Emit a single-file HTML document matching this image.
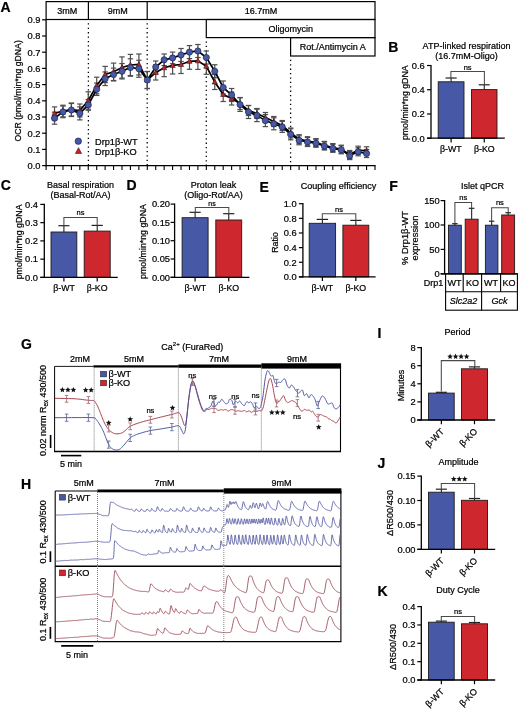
<!DOCTYPE html>
<html><head><meta charset="utf-8"><style>
html,body{margin:0;padding:0;background:#fff;}
svg{display:block;will-change:transform;}
text{font-family:"Liberation Sans", sans-serif;fill:#000;stroke:#000;stroke-width:0.22px;}
</style></head><body>
<svg width="520" height="710" viewBox="0 0 520 710" font-family="Liberation Sans, sans-serif">
<rect width="520" height="710" fill="#fff"/>
<text x="0.60" y="11.60" font-size="14" text-anchor="start" font-weight="bold" >A</text>
<line x1="46.10" y1="19.20" x2="46.10" y2="166.20" stroke="#000" stroke-width="1.3" />
<line x1="42.10" y1="165.60" x2="46.10" y2="165.60" stroke="#000" stroke-width="1.2" />
<text x="40.50" y="168.90" font-size="9.3" text-anchor="end" font-weight="normal" >0.0</text>
<line x1="42.10" y1="149.40" x2="46.10" y2="149.40" stroke="#000" stroke-width="1.2" />
<text x="40.50" y="152.70" font-size="9.3" text-anchor="end" font-weight="normal" >0.1</text>
<line x1="42.10" y1="133.20" x2="46.10" y2="133.20" stroke="#000" stroke-width="1.2" />
<text x="40.50" y="136.50" font-size="9.3" text-anchor="end" font-weight="normal" >0.2</text>
<line x1="42.10" y1="117.00" x2="46.10" y2="117.00" stroke="#000" stroke-width="1.2" />
<text x="40.50" y="120.30" font-size="9.3" text-anchor="end" font-weight="normal" >0.3</text>
<line x1="42.10" y1="100.80" x2="46.10" y2="100.80" stroke="#000" stroke-width="1.2" />
<text x="40.50" y="104.10" font-size="9.3" text-anchor="end" font-weight="normal" >0.4</text>
<line x1="42.10" y1="84.60" x2="46.10" y2="84.60" stroke="#000" stroke-width="1.2" />
<text x="40.50" y="87.90" font-size="9.3" text-anchor="end" font-weight="normal" >0.5</text>
<line x1="42.10" y1="68.40" x2="46.10" y2="68.40" stroke="#000" stroke-width="1.2" />
<text x="40.50" y="71.70" font-size="9.3" text-anchor="end" font-weight="normal" >0.6</text>
<line x1="42.10" y1="52.20" x2="46.10" y2="52.20" stroke="#000" stroke-width="1.2" />
<text x="40.50" y="55.50" font-size="9.3" text-anchor="end" font-weight="normal" >0.7</text>
<line x1="42.10" y1="36.00" x2="46.10" y2="36.00" stroke="#000" stroke-width="1.2" />
<text x="40.50" y="39.30" font-size="9.3" text-anchor="end" font-weight="normal" >0.8</text>
<line x1="42.10" y1="19.80" x2="46.10" y2="19.80" stroke="#000" stroke-width="1.2" />
<text x="40.50" y="23.10" font-size="9.3" text-anchor="end" font-weight="normal" >0.9</text>
<line x1="45.50" y1="165.60" x2="375.60" y2="165.60" stroke="#000" stroke-width="1.3" />
<line x1="46.10" y1="165.60" x2="46.10" y2="170.00" stroke="#000" stroke-width="1.1" />
<line x1="54.53" y1="165.60" x2="54.53" y2="170.00" stroke="#000" stroke-width="1.1" />
<line x1="62.97" y1="165.60" x2="62.97" y2="170.00" stroke="#000" stroke-width="1.1" />
<line x1="71.40" y1="165.60" x2="71.40" y2="170.00" stroke="#000" stroke-width="1.1" />
<line x1="79.83" y1="165.60" x2="79.83" y2="170.00" stroke="#000" stroke-width="1.1" />
<line x1="88.27" y1="165.60" x2="88.27" y2="170.00" stroke="#000" stroke-width="1.1" />
<line x1="96.70" y1="165.60" x2="96.70" y2="170.00" stroke="#000" stroke-width="1.1" />
<line x1="105.13" y1="165.60" x2="105.13" y2="170.00" stroke="#000" stroke-width="1.1" />
<line x1="113.57" y1="165.60" x2="113.57" y2="170.00" stroke="#000" stroke-width="1.1" />
<line x1="122.00" y1="165.60" x2="122.00" y2="170.00" stroke="#000" stroke-width="1.1" />
<line x1="130.43" y1="165.60" x2="130.43" y2="170.00" stroke="#000" stroke-width="1.1" />
<line x1="138.87" y1="165.60" x2="138.87" y2="170.00" stroke="#000" stroke-width="1.1" />
<line x1="147.30" y1="165.60" x2="147.30" y2="170.00" stroke="#000" stroke-width="1.1" />
<line x1="155.73" y1="165.60" x2="155.73" y2="170.00" stroke="#000" stroke-width="1.1" />
<line x1="164.17" y1="165.60" x2="164.17" y2="170.00" stroke="#000" stroke-width="1.1" />
<line x1="172.60" y1="165.60" x2="172.60" y2="170.00" stroke="#000" stroke-width="1.1" />
<line x1="181.03" y1="165.60" x2="181.03" y2="170.00" stroke="#000" stroke-width="1.1" />
<line x1="189.47" y1="165.60" x2="189.47" y2="170.00" stroke="#000" stroke-width="1.1" />
<line x1="197.90" y1="165.60" x2="197.90" y2="170.00" stroke="#000" stroke-width="1.1" />
<line x1="206.33" y1="165.60" x2="206.33" y2="170.00" stroke="#000" stroke-width="1.1" />
<line x1="214.77" y1="165.60" x2="214.77" y2="170.00" stroke="#000" stroke-width="1.1" />
<line x1="223.20" y1="165.60" x2="223.20" y2="170.00" stroke="#000" stroke-width="1.1" />
<line x1="231.63" y1="165.60" x2="231.63" y2="170.00" stroke="#000" stroke-width="1.1" />
<line x1="240.07" y1="165.60" x2="240.07" y2="170.00" stroke="#000" stroke-width="1.1" />
<line x1="248.50" y1="165.60" x2="248.50" y2="170.00" stroke="#000" stroke-width="1.1" />
<line x1="256.93" y1="165.60" x2="256.93" y2="170.00" stroke="#000" stroke-width="1.1" />
<line x1="265.37" y1="165.60" x2="265.37" y2="170.00" stroke="#000" stroke-width="1.1" />
<line x1="273.80" y1="165.60" x2="273.80" y2="170.00" stroke="#000" stroke-width="1.1" />
<line x1="282.23" y1="165.60" x2="282.23" y2="170.00" stroke="#000" stroke-width="1.1" />
<line x1="290.67" y1="165.60" x2="290.67" y2="170.00" stroke="#000" stroke-width="1.1" />
<line x1="299.10" y1="165.60" x2="299.10" y2="170.00" stroke="#000" stroke-width="1.1" />
<line x1="307.53" y1="165.60" x2="307.53" y2="170.00" stroke="#000" stroke-width="1.1" />
<line x1="315.97" y1="165.60" x2="315.97" y2="170.00" stroke="#000" stroke-width="1.1" />
<line x1="324.40" y1="165.60" x2="324.40" y2="170.00" stroke="#000" stroke-width="1.1" />
<line x1="332.83" y1="165.60" x2="332.83" y2="170.00" stroke="#000" stroke-width="1.1" />
<line x1="341.27" y1="165.60" x2="341.27" y2="170.00" stroke="#000" stroke-width="1.1" />
<line x1="349.70" y1="165.60" x2="349.70" y2="170.00" stroke="#000" stroke-width="1.1" />
<line x1="358.13" y1="165.60" x2="358.13" y2="170.00" stroke="#000" stroke-width="1.1" />
<line x1="366.57" y1="165.60" x2="366.57" y2="170.00" stroke="#000" stroke-width="1.1" />
<line x1="375.00" y1="165.60" x2="375.00" y2="170.00" stroke="#000" stroke-width="1.1" />
<g fill="none" stroke="#000" stroke-width="1.2">
<rect x="46.10" y="1.6" width="328.90" height="17.90"/>
<line x1="88.40" y1="1.60" x2="88.40" y2="19.50" stroke="#000" stroke-width="1.2" />
<line x1="147.20" y1="1.60" x2="147.20" y2="19.50" stroke="#000" stroke-width="1.2" />
<rect x="206.3" y="19.5" width="168.70" height="18.10"/>
<rect x="290.6" y="37.6" width="84.40" height="18.40"/>
</g>
<text x="67.25" y="13.70" font-size="9" text-anchor="middle" font-weight="normal" >3mM</text>
<text x="117.80" y="13.70" font-size="9" text-anchor="middle" font-weight="normal" >9mM</text>
<text x="261.10" y="13.70" font-size="9" text-anchor="middle" font-weight="normal" >16.7mM</text>
<text x="290.65" y="31.70" font-size="9" text-anchor="middle" font-weight="normal" >Oligomycin</text>
<text x="332.80" y="50.10" font-size="9" text-anchor="middle" font-weight="normal" >Rot./Antimycin A</text>
<line x1="88.40" y1="23.30" x2="88.40" y2="165.60" stroke="#000" stroke-width="1.3" stroke-dasharray="1.3 3.1"/>
<line x1="147.20" y1="23.30" x2="147.20" y2="165.60" stroke="#000" stroke-width="1.3" stroke-dasharray="1.3 3.1"/>
<line x1="206.30" y1="41.40" x2="206.30" y2="165.60" stroke="#000" stroke-width="1.3" stroke-dasharray="1.3 3.1"/>
<line x1="290.60" y1="59.80" x2="290.60" y2="165.60" stroke="#000" stroke-width="1.3" stroke-dasharray="1.3 3.1"/>
<text transform="translate(21.40,90.90) rotate(-90)" x="0" y="0" font-size="8.7" text-anchor="middle">OCR (pmol/min*ng gDNA)</text>
<g stroke="#4e4e4e" stroke-width="1.2">
<line x1="54.53" y1="112.20" x2="54.53" y2="124.20"/>
<line x1="51.83" y1="112.20" x2="57.23" y2="112.20"/>
<line x1="51.83" y1="124.20" x2="57.23" y2="124.20"/>
<line x1="54.53" y1="106.90" x2="54.53" y2="119.90"/>
<line x1="51.83" y1="106.90" x2="57.23" y2="106.90"/>
<line x1="51.83" y1="119.90" x2="57.23" y2="119.90"/>
<line x1="62.97" y1="106.10" x2="62.97" y2="117.70"/>
<line x1="60.27" y1="106.10" x2="65.67" y2="106.10"/>
<line x1="60.27" y1="117.70" x2="65.67" y2="117.70"/>
<line x1="62.97" y1="105.20" x2="62.97" y2="116.80"/>
<line x1="60.27" y1="105.20" x2="65.67" y2="105.20"/>
<line x1="60.27" y1="116.80" x2="65.67" y2="116.80"/>
<line x1="71.40" y1="103.50" x2="71.40" y2="116.50"/>
<line x1="68.70" y1="103.50" x2="74.10" y2="103.50"/>
<line x1="68.70" y1="116.50" x2="74.10" y2="116.50"/>
<line x1="71.40" y1="103.00" x2="71.40" y2="116.00"/>
<line x1="68.70" y1="103.00" x2="74.10" y2="103.00"/>
<line x1="68.70" y1="116.00" x2="74.10" y2="116.00"/>
<line x1="79.83" y1="106.90" x2="79.83" y2="119.90"/>
<line x1="77.13" y1="106.90" x2="82.53" y2="106.90"/>
<line x1="77.13" y1="119.90" x2="82.53" y2="119.90"/>
<line x1="79.83" y1="104.00" x2="79.83" y2="117.00"/>
<line x1="77.13" y1="104.00" x2="82.53" y2="104.00"/>
<line x1="77.13" y1="117.00" x2="82.53" y2="117.00"/>
<line x1="88.27" y1="99.50" x2="88.27" y2="110.30"/>
<line x1="85.57" y1="99.50" x2="90.97" y2="99.50"/>
<line x1="85.57" y1="110.30" x2="90.97" y2="110.30"/>
<line x1="88.27" y1="91.80" x2="88.27" y2="109.20"/>
<line x1="85.57" y1="91.80" x2="90.97" y2="91.80"/>
<line x1="85.57" y1="109.20" x2="90.97" y2="109.20"/>
<line x1="96.70" y1="83.05" x2="96.70" y2="95.45"/>
<line x1="94.00" y1="83.05" x2="99.40" y2="83.05"/>
<line x1="94.00" y1="95.45" x2="99.40" y2="95.45"/>
<line x1="96.70" y1="77.20" x2="96.70" y2="93.80"/>
<line x1="94.00" y1="77.20" x2="99.40" y2="77.20"/>
<line x1="94.00" y1="93.80" x2="99.40" y2="93.80"/>
<line x1="105.13" y1="71.95" x2="105.13" y2="85.55"/>
<line x1="102.43" y1="71.95" x2="107.83" y2="71.95"/>
<line x1="102.43" y1="85.55" x2="107.83" y2="85.55"/>
<line x1="105.13" y1="66.40" x2="105.13" y2="82.60"/>
<line x1="102.43" y1="66.40" x2="107.83" y2="66.40"/>
<line x1="102.43" y1="82.60" x2="107.83" y2="82.60"/>
<line x1="113.57" y1="68.10" x2="113.57" y2="80.90"/>
<line x1="110.87" y1="68.10" x2="116.27" y2="68.10"/>
<line x1="110.87" y1="80.90" x2="116.27" y2="80.90"/>
<line x1="113.57" y1="63.10" x2="113.57" y2="80.50"/>
<line x1="110.87" y1="63.10" x2="116.27" y2="63.10"/>
<line x1="110.87" y1="80.50" x2="116.27" y2="80.50"/>
<line x1="122.00" y1="63.55" x2="122.00" y2="78.95"/>
<line x1="119.30" y1="63.55" x2="124.70" y2="63.55"/>
<line x1="119.30" y1="78.95" x2="124.70" y2="78.95"/>
<line x1="122.00" y1="56.90" x2="122.00" y2="78.10"/>
<line x1="119.30" y1="56.90" x2="124.70" y2="56.90"/>
<line x1="119.30" y1="78.10" x2="124.70" y2="78.10"/>
<line x1="130.43" y1="58.80" x2="130.43" y2="76.20"/>
<line x1="127.73" y1="58.80" x2="133.13" y2="58.80"/>
<line x1="127.73" y1="76.20" x2="133.13" y2="76.20"/>
<line x1="130.43" y1="54.40" x2="130.43" y2="75.60"/>
<line x1="127.73" y1="54.40" x2="133.13" y2="54.40"/>
<line x1="127.73" y1="75.60" x2="133.13" y2="75.60"/>
<line x1="138.87" y1="60.25" x2="138.87" y2="77.25"/>
<line x1="136.17" y1="60.25" x2="141.57" y2="60.25"/>
<line x1="136.17" y1="77.25" x2="141.57" y2="77.25"/>
<line x1="138.87" y1="54.00" x2="138.87" y2="75.00"/>
<line x1="136.17" y1="54.00" x2="141.57" y2="54.00"/>
<line x1="136.17" y1="75.00" x2="141.57" y2="75.00"/>
<line x1="147.30" y1="71.50" x2="147.30" y2="88.50"/>
<line x1="144.60" y1="71.50" x2="150.00" y2="71.50"/>
<line x1="144.60" y1="88.50" x2="150.00" y2="88.50"/>
<line x1="147.30" y1="71.50" x2="147.30" y2="88.50"/>
<line x1="144.60" y1="71.50" x2="150.00" y2="71.50"/>
<line x1="144.60" y1="88.50" x2="150.00" y2="88.50"/>
<line x1="155.73" y1="61.00" x2="155.73" y2="73.00"/>
<line x1="153.03" y1="61.00" x2="158.43" y2="61.00"/>
<line x1="153.03" y1="73.00" x2="158.43" y2="73.00"/>
<line x1="155.73" y1="65.00" x2="155.73" y2="80.00"/>
<line x1="153.03" y1="65.00" x2="158.43" y2="65.00"/>
<line x1="153.03" y1="80.00" x2="158.43" y2="80.00"/>
<line x1="164.17" y1="54.00" x2="164.17" y2="65.60"/>
<line x1="161.47" y1="54.00" x2="166.87" y2="54.00"/>
<line x1="161.47" y1="65.60" x2="166.87" y2="65.60"/>
<line x1="164.17" y1="58.70" x2="164.17" y2="76.70"/>
<line x1="161.47" y1="58.70" x2="166.87" y2="58.70"/>
<line x1="161.47" y1="76.70" x2="166.87" y2="76.70"/>
<line x1="172.60" y1="52.10" x2="172.60" y2="63.70"/>
<line x1="169.90" y1="52.10" x2="175.30" y2="52.10"/>
<line x1="169.90" y1="63.70" x2="175.30" y2="63.70"/>
<line x1="172.60" y1="56.80" x2="172.60" y2="74.00"/>
<line x1="169.90" y1="56.80" x2="175.30" y2="56.80"/>
<line x1="169.90" y1="74.00" x2="175.30" y2="74.00"/>
<line x1="181.03" y1="48.50" x2="181.03" y2="61.50"/>
<line x1="178.33" y1="48.50" x2="183.73" y2="48.50"/>
<line x1="178.33" y1="61.50" x2="183.73" y2="61.50"/>
<line x1="181.03" y1="55.50" x2="181.03" y2="73.50"/>
<line x1="178.33" y1="55.50" x2="183.73" y2="55.50"/>
<line x1="178.33" y1="73.50" x2="183.73" y2="73.50"/>
<line x1="189.47" y1="45.60" x2="189.47" y2="58.60"/>
<line x1="186.77" y1="45.60" x2="192.17" y2="45.60"/>
<line x1="186.77" y1="58.60" x2="192.17" y2="58.60"/>
<line x1="189.47" y1="53.30" x2="189.47" y2="69.30"/>
<line x1="186.77" y1="53.30" x2="192.17" y2="53.30"/>
<line x1="186.77" y1="69.30" x2="192.17" y2="69.30"/>
<line x1="197.90" y1="44.50" x2="197.90" y2="57.50"/>
<line x1="195.20" y1="44.50" x2="200.60" y2="44.50"/>
<line x1="195.20" y1="57.50" x2="200.60" y2="57.50"/>
<line x1="197.90" y1="52.20" x2="197.90" y2="69.40"/>
<line x1="195.20" y1="52.20" x2="200.60" y2="52.20"/>
<line x1="195.20" y1="69.40" x2="200.60" y2="69.40"/>
<line x1="206.33" y1="51.00" x2="206.33" y2="64.00"/>
<line x1="203.63" y1="51.00" x2="209.03" y2="51.00"/>
<line x1="203.63" y1="64.00" x2="209.03" y2="64.00"/>
<line x1="206.33" y1="58.30" x2="206.33" y2="74.30"/>
<line x1="203.63" y1="58.30" x2="209.03" y2="58.30"/>
<line x1="203.63" y1="74.30" x2="209.03" y2="74.30"/>
<line x1="214.77" y1="64.75" x2="214.77" y2="77.75"/>
<line x1="212.07" y1="64.75" x2="217.47" y2="64.75"/>
<line x1="212.07" y1="77.75" x2="217.47" y2="77.75"/>
<line x1="214.77" y1="74.50" x2="214.77" y2="89.50"/>
<line x1="212.07" y1="74.50" x2="217.47" y2="74.50"/>
<line x1="212.07" y1="89.50" x2="217.47" y2="89.50"/>
<line x1="223.20" y1="81.00" x2="223.20" y2="94.00"/>
<line x1="220.50" y1="81.00" x2="225.90" y2="81.00"/>
<line x1="220.50" y1="94.00" x2="225.90" y2="94.00"/>
<line x1="223.20" y1="87.50" x2="223.20" y2="101.50"/>
<line x1="220.50" y1="87.50" x2="225.90" y2="87.50"/>
<line x1="220.50" y1="101.50" x2="225.90" y2="101.50"/>
<line x1="231.63" y1="88.50" x2="231.63" y2="101.50"/>
<line x1="228.93" y1="88.50" x2="234.33" y2="88.50"/>
<line x1="228.93" y1="101.50" x2="234.33" y2="101.50"/>
<line x1="231.63" y1="92.00" x2="231.63" y2="105.00"/>
<line x1="228.93" y1="92.00" x2="234.33" y2="92.00"/>
<line x1="228.93" y1="105.00" x2="234.33" y2="105.00"/>
<line x1="240.07" y1="97.80" x2="240.07" y2="111.40"/>
<line x1="237.37" y1="97.80" x2="242.77" y2="97.80"/>
<line x1="237.37" y1="111.40" x2="242.77" y2="111.40"/>
<line x1="240.07" y1="97.50" x2="240.07" y2="109.50"/>
<line x1="237.37" y1="97.50" x2="242.77" y2="97.50"/>
<line x1="237.37" y1="109.50" x2="242.77" y2="109.50"/>
<line x1="248.50" y1="105.50" x2="248.50" y2="118.50"/>
<line x1="245.80" y1="105.50" x2="251.20" y2="105.50"/>
<line x1="245.80" y1="118.50" x2="251.20" y2="118.50"/>
<line x1="248.50" y1="105.50" x2="248.50" y2="115.50"/>
<line x1="245.80" y1="105.50" x2="251.20" y2="105.50"/>
<line x1="245.80" y1="115.50" x2="251.20" y2="115.50"/>
<line x1="256.93" y1="109.20" x2="256.93" y2="121.60"/>
<line x1="254.23" y1="109.20" x2="259.63" y2="109.20"/>
<line x1="254.23" y1="121.60" x2="259.63" y2="121.60"/>
<line x1="256.93" y1="108.50" x2="256.93" y2="118.50"/>
<line x1="254.23" y1="108.50" x2="259.63" y2="108.50"/>
<line x1="254.23" y1="118.50" x2="259.63" y2="118.50"/>
<line x1="265.37" y1="114.60" x2="265.37" y2="126.60"/>
<line x1="262.67" y1="114.60" x2="268.07" y2="114.60"/>
<line x1="262.67" y1="126.60" x2="268.07" y2="126.60"/>
<line x1="265.37" y1="112.50" x2="265.37" y2="122.50"/>
<line x1="262.67" y1="112.50" x2="268.07" y2="112.50"/>
<line x1="262.67" y1="122.50" x2="268.07" y2="122.50"/>
<line x1="273.80" y1="117.80" x2="273.80" y2="129.80"/>
<line x1="271.10" y1="117.80" x2="276.50" y2="117.80"/>
<line x1="271.10" y1="129.80" x2="276.50" y2="129.80"/>
<line x1="273.80" y1="116.50" x2="273.80" y2="126.50"/>
<line x1="271.10" y1="116.50" x2="276.50" y2="116.50"/>
<line x1="271.10" y1="126.50" x2="276.50" y2="126.50"/>
<line x1="282.23" y1="121.40" x2="282.23" y2="132.40"/>
<line x1="279.53" y1="121.40" x2="284.93" y2="121.40"/>
<line x1="279.53" y1="132.40" x2="284.93" y2="132.40"/>
<line x1="282.23" y1="120.50" x2="282.23" y2="130.50"/>
<line x1="279.53" y1="120.50" x2="284.93" y2="120.50"/>
<line x1="279.53" y1="130.50" x2="284.93" y2="130.50"/>
<line x1="290.67" y1="128.80" x2="290.67" y2="139.80"/>
<line x1="287.97" y1="128.80" x2="293.37" y2="128.80"/>
<line x1="287.97" y1="139.80" x2="293.37" y2="139.80"/>
<line x1="290.67" y1="128.00" x2="290.67" y2="138.00"/>
<line x1="287.97" y1="128.00" x2="293.37" y2="128.00"/>
<line x1="287.97" y1="138.00" x2="293.37" y2="138.00"/>
<line x1="299.10" y1="135.80" x2="299.10" y2="144.80"/>
<line x1="296.40" y1="135.80" x2="301.80" y2="135.80"/>
<line x1="296.40" y1="144.80" x2="301.80" y2="144.80"/>
<line x1="299.10" y1="134.70" x2="299.10" y2="143.70"/>
<line x1="296.40" y1="134.70" x2="301.80" y2="134.70"/>
<line x1="296.40" y1="143.70" x2="301.80" y2="143.70"/>
<line x1="307.53" y1="137.50" x2="307.53" y2="146.50"/>
<line x1="304.83" y1="137.50" x2="310.23" y2="137.50"/>
<line x1="304.83" y1="146.50" x2="310.23" y2="146.50"/>
<line x1="307.53" y1="136.70" x2="307.53" y2="145.70"/>
<line x1="304.83" y1="136.70" x2="310.23" y2="136.70"/>
<line x1="304.83" y1="145.70" x2="310.23" y2="145.70"/>
<line x1="315.97" y1="139.20" x2="315.97" y2="147.20"/>
<line x1="313.27" y1="139.20" x2="318.67" y2="139.20"/>
<line x1="313.27" y1="147.20" x2="318.67" y2="147.20"/>
<line x1="315.97" y1="138.60" x2="315.97" y2="146.60"/>
<line x1="313.27" y1="138.60" x2="318.67" y2="138.60"/>
<line x1="313.27" y1="146.60" x2="318.67" y2="146.60"/>
<line x1="324.40" y1="142.00" x2="324.40" y2="150.00"/>
<line x1="321.70" y1="142.00" x2="327.10" y2="142.00"/>
<line x1="321.70" y1="150.00" x2="327.10" y2="150.00"/>
<line x1="324.40" y1="141.40" x2="324.40" y2="149.40"/>
<line x1="321.70" y1="141.40" x2="327.10" y2="141.40"/>
<line x1="321.70" y1="149.40" x2="327.10" y2="149.40"/>
<line x1="332.83" y1="144.30" x2="332.83" y2="152.30"/>
<line x1="330.13" y1="144.30" x2="335.53" y2="144.30"/>
<line x1="330.13" y1="152.30" x2="335.53" y2="152.30"/>
<line x1="332.83" y1="143.60" x2="332.83" y2="151.60"/>
<line x1="330.13" y1="143.60" x2="335.53" y2="143.60"/>
<line x1="330.13" y1="151.60" x2="335.53" y2="151.60"/>
<line x1="341.27" y1="145.80" x2="341.27" y2="153.80"/>
<line x1="338.57" y1="145.80" x2="343.97" y2="145.80"/>
<line x1="338.57" y1="153.80" x2="343.97" y2="153.80"/>
<line x1="341.27" y1="145.20" x2="341.27" y2="153.20"/>
<line x1="338.57" y1="145.20" x2="343.97" y2="145.20"/>
<line x1="338.57" y1="153.20" x2="343.97" y2="153.20"/>
<line x1="349.70" y1="151.60" x2="349.70" y2="159.60"/>
<line x1="347.00" y1="151.60" x2="352.40" y2="151.60"/>
<line x1="347.00" y1="159.60" x2="352.40" y2="159.60"/>
<line x1="349.70" y1="150.50" x2="349.70" y2="158.50"/>
<line x1="347.00" y1="150.50" x2="352.40" y2="150.50"/>
<line x1="347.00" y1="158.50" x2="352.40" y2="158.50"/>
<line x1="358.13" y1="147.80" x2="358.13" y2="155.80"/>
<line x1="355.43" y1="147.80" x2="360.83" y2="147.80"/>
<line x1="355.43" y1="155.80" x2="360.83" y2="155.80"/>
<line x1="358.13" y1="146.20" x2="358.13" y2="154.20"/>
<line x1="355.43" y1="146.20" x2="360.83" y2="146.20"/>
<line x1="355.43" y1="154.20" x2="360.83" y2="154.20"/>
<line x1="366.57" y1="149.50" x2="366.57" y2="157.50"/>
<line x1="363.87" y1="149.50" x2="369.27" y2="149.50"/>
<line x1="363.87" y1="157.50" x2="369.27" y2="157.50"/>
<line x1="366.57" y1="146.80" x2="366.57" y2="154.80"/>
<line x1="363.87" y1="146.80" x2="369.27" y2="146.80"/>
<line x1="363.87" y1="154.80" x2="369.27" y2="154.80"/>
</g>
<polyline points="54.53,113.40 62.97,111.00 71.40,109.50 79.83,110.50 88.27,100.50 96.70,85.50 105.13,74.50 113.57,71.80 122.00,67.50 130.43,65.00 138.87,64.50 147.30,80.00 155.73,72.50 164.17,67.70 172.60,65.40 181.03,64.50 189.47,61.30 197.90,60.80 206.33,66.30 214.77,82.00 223.20,94.50 231.63,98.50 240.07,103.50 248.50,110.50 256.93,113.50 265.37,117.50 273.80,121.50 282.23,125.50 290.67,133.00 299.10,139.20 307.53,141.20 315.97,142.60 324.40,145.40 332.83,147.60 341.27,149.20 349.70,154.50 358.13,150.20 366.57,150.80" fill="none" stroke="#000" stroke-width="1.7"/>
<polyline points="54.53,118.20 62.97,111.90 71.40,110.00 79.83,113.40 88.27,104.90 96.70,89.25 105.13,78.75 113.57,74.50 122.00,71.25 130.43,67.50 138.87,68.75 147.30,80.00 155.73,67.00 164.17,59.80 172.60,57.90 181.03,55.00 189.47,52.10 197.90,51.00 206.33,57.50 214.77,71.25 223.20,87.50 231.63,95.00 240.07,104.60 248.50,112.00 256.93,115.40 265.37,120.60 273.80,123.80 282.23,126.90 290.67,134.30 299.10,140.30 307.53,142.00 315.97,143.20 324.40,146.00 332.83,148.30 341.27,149.80 349.70,155.60 358.13,151.80 366.57,153.50" fill="none" stroke="#000" stroke-width="1.7"/>
<path d="M51.93,115.42 L57.13,115.42 L54.53,110.62 Z" fill="#c2242b" stroke="#401010" stroke-width="0.6"/>
<path d="M60.37,113.02 L65.57,113.02 L62.97,108.22 Z" fill="#c2242b" stroke="#401010" stroke-width="0.6"/>
<path d="M68.80,111.52 L74.00,111.52 L71.40,106.72 Z" fill="#c2242b" stroke="#401010" stroke-width="0.6"/>
<path d="M77.23,112.52 L82.43,112.52 L79.83,107.72 Z" fill="#c2242b" stroke="#401010" stroke-width="0.6"/>
<path d="M85.67,102.52 L90.87,102.52 L88.27,97.72 Z" fill="#c2242b" stroke="#401010" stroke-width="0.6"/>
<path d="M94.10,87.52 L99.30,87.52 L96.70,82.72 Z" fill="#c2242b" stroke="#401010" stroke-width="0.6"/>
<path d="M102.53,76.52 L107.73,76.52 L105.13,71.72 Z" fill="#c2242b" stroke="#401010" stroke-width="0.6"/>
<path d="M110.97,73.82 L116.17,73.82 L113.57,69.02 Z" fill="#c2242b" stroke="#401010" stroke-width="0.6"/>
<path d="M119.40,69.52 L124.60,69.52 L122.00,64.72 Z" fill="#c2242b" stroke="#401010" stroke-width="0.6"/>
<path d="M127.83,67.02 L133.03,67.02 L130.43,62.22 Z" fill="#c2242b" stroke="#401010" stroke-width="0.6"/>
<path d="M136.27,66.52 L141.47,66.52 L138.87,61.72 Z" fill="#c2242b" stroke="#401010" stroke-width="0.6"/>
<path d="M144.70,82.02 L149.90,82.02 L147.30,77.22 Z" fill="#c2242b" stroke="#401010" stroke-width="0.6"/>
<path d="M153.13,74.52 L158.33,74.52 L155.73,69.72 Z" fill="#c2242b" stroke="#401010" stroke-width="0.6"/>
<path d="M161.57,69.72 L166.77,69.72 L164.17,64.92 Z" fill="#c2242b" stroke="#401010" stroke-width="0.6"/>
<path d="M170.00,67.42 L175.20,67.42 L172.60,62.62 Z" fill="#c2242b" stroke="#401010" stroke-width="0.6"/>
<path d="M178.43,66.52 L183.63,66.52 L181.03,61.72 Z" fill="#c2242b" stroke="#401010" stroke-width="0.6"/>
<path d="M186.87,63.32 L192.07,63.32 L189.47,58.52 Z" fill="#c2242b" stroke="#401010" stroke-width="0.6"/>
<path d="M195.30,62.82 L200.50,62.82 L197.90,58.02 Z" fill="#c2242b" stroke="#401010" stroke-width="0.6"/>
<path d="M203.73,68.32 L208.93,68.32 L206.33,63.52 Z" fill="#c2242b" stroke="#401010" stroke-width="0.6"/>
<path d="M212.17,84.02 L217.37,84.02 L214.77,79.22 Z" fill="#c2242b" stroke="#401010" stroke-width="0.6"/>
<path d="M220.60,96.52 L225.80,96.52 L223.20,91.72 Z" fill="#c2242b" stroke="#401010" stroke-width="0.6"/>
<path d="M229.03,100.52 L234.23,100.52 L231.63,95.72 Z" fill="#c2242b" stroke="#401010" stroke-width="0.6"/>
<path d="M237.47,105.52 L242.67,105.52 L240.07,100.72 Z" fill="#c2242b" stroke="#401010" stroke-width="0.6"/>
<path d="M245.90,112.52 L251.10,112.52 L248.50,107.72 Z" fill="#c2242b" stroke="#401010" stroke-width="0.6"/>
<path d="M254.33,115.52 L259.53,115.52 L256.93,110.72 Z" fill="#c2242b" stroke="#401010" stroke-width="0.6"/>
<path d="M262.77,119.52 L267.97,119.52 L265.37,114.72 Z" fill="#c2242b" stroke="#401010" stroke-width="0.6"/>
<path d="M271.20,123.52 L276.40,123.52 L273.80,118.72 Z" fill="#c2242b" stroke="#401010" stroke-width="0.6"/>
<path d="M279.63,127.52 L284.83,127.52 L282.23,122.72 Z" fill="#c2242b" stroke="#401010" stroke-width="0.6"/>
<path d="M288.07,135.02 L293.27,135.02 L290.67,130.22 Z" fill="#c2242b" stroke="#401010" stroke-width="0.6"/>
<path d="M296.50,141.22 L301.70,141.22 L299.10,136.42 Z" fill="#c2242b" stroke="#401010" stroke-width="0.6"/>
<path d="M304.93,143.22 L310.13,143.22 L307.53,138.42 Z" fill="#c2242b" stroke="#401010" stroke-width="0.6"/>
<path d="M313.37,144.62 L318.57,144.62 L315.97,139.82 Z" fill="#c2242b" stroke="#401010" stroke-width="0.6"/>
<path d="M321.80,147.42 L327.00,147.42 L324.40,142.62 Z" fill="#c2242b" stroke="#401010" stroke-width="0.6"/>
<path d="M330.23,149.62 L335.43,149.62 L332.83,144.82 Z" fill="#c2242b" stroke="#401010" stroke-width="0.6"/>
<path d="M338.67,151.22 L343.87,151.22 L341.27,146.42 Z" fill="#c2242b" stroke="#401010" stroke-width="0.6"/>
<path d="M347.10,156.52 L352.30,156.52 L349.70,151.72 Z" fill="#c2242b" stroke="#401010" stroke-width="0.6"/>
<path d="M355.53,152.22 L360.73,152.22 L358.13,147.42 Z" fill="#c2242b" stroke="#401010" stroke-width="0.6"/>
<path d="M363.97,152.82 L369.17,152.82 L366.57,148.02 Z" fill="#c2242b" stroke="#401010" stroke-width="0.6"/>
<circle cx="54.53" cy="118.20" r="3.1" fill="#4658a6" stroke="#1a2350" stroke-width="0.7"/>
<circle cx="62.97" cy="111.90" r="3.1" fill="#4658a6" stroke="#1a2350" stroke-width="0.7"/>
<circle cx="71.40" cy="110.00" r="3.1" fill="#4658a6" stroke="#1a2350" stroke-width="0.7"/>
<circle cx="79.83" cy="113.40" r="3.1" fill="#4658a6" stroke="#1a2350" stroke-width="0.7"/>
<circle cx="88.27" cy="104.90" r="3.1" fill="#4658a6" stroke="#1a2350" stroke-width="0.7"/>
<circle cx="96.70" cy="89.25" r="3.1" fill="#4658a6" stroke="#1a2350" stroke-width="0.7"/>
<circle cx="105.13" cy="78.75" r="3.1" fill="#4658a6" stroke="#1a2350" stroke-width="0.7"/>
<circle cx="113.57" cy="74.50" r="3.1" fill="#4658a6" stroke="#1a2350" stroke-width="0.7"/>
<circle cx="122.00" cy="71.25" r="3.1" fill="#4658a6" stroke="#1a2350" stroke-width="0.7"/>
<circle cx="130.43" cy="67.50" r="3.1" fill="#4658a6" stroke="#1a2350" stroke-width="0.7"/>
<circle cx="138.87" cy="68.75" r="3.1" fill="#4658a6" stroke="#1a2350" stroke-width="0.7"/>
<circle cx="147.30" cy="80.00" r="3.1" fill="#4658a6" stroke="#1a2350" stroke-width="0.7"/>
<circle cx="155.73" cy="67.00" r="3.1" fill="#4658a6" stroke="#1a2350" stroke-width="0.7"/>
<circle cx="164.17" cy="59.80" r="3.1" fill="#4658a6" stroke="#1a2350" stroke-width="0.7"/>
<circle cx="172.60" cy="57.90" r="3.1" fill="#4658a6" stroke="#1a2350" stroke-width="0.7"/>
<circle cx="181.03" cy="55.00" r="3.1" fill="#4658a6" stroke="#1a2350" stroke-width="0.7"/>
<circle cx="189.47" cy="52.10" r="3.1" fill="#4658a6" stroke="#1a2350" stroke-width="0.7"/>
<circle cx="197.90" cy="51.00" r="3.1" fill="#4658a6" stroke="#1a2350" stroke-width="0.7"/>
<circle cx="206.33" cy="57.50" r="3.1" fill="#4658a6" stroke="#1a2350" stroke-width="0.7"/>
<circle cx="214.77" cy="71.25" r="3.1" fill="#4658a6" stroke="#1a2350" stroke-width="0.7"/>
<circle cx="223.20" cy="87.50" r="3.1" fill="#4658a6" stroke="#1a2350" stroke-width="0.7"/>
<circle cx="231.63" cy="95.00" r="3.1" fill="#4658a6" stroke="#1a2350" stroke-width="0.7"/>
<circle cx="240.07" cy="104.60" r="3.1" fill="#4658a6" stroke="#1a2350" stroke-width="0.7"/>
<circle cx="248.50" cy="112.00" r="3.1" fill="#4658a6" stroke="#1a2350" stroke-width="0.7"/>
<circle cx="256.93" cy="115.40" r="3.1" fill="#4658a6" stroke="#1a2350" stroke-width="0.7"/>
<circle cx="265.37" cy="120.60" r="3.1" fill="#4658a6" stroke="#1a2350" stroke-width="0.7"/>
<circle cx="273.80" cy="123.80" r="3.1" fill="#4658a6" stroke="#1a2350" stroke-width="0.7"/>
<circle cx="282.23" cy="126.90" r="3.1" fill="#4658a6" stroke="#1a2350" stroke-width="0.7"/>
<circle cx="290.67" cy="134.30" r="3.1" fill="#4658a6" stroke="#1a2350" stroke-width="0.7"/>
<circle cx="299.10" cy="140.30" r="3.1" fill="#4658a6" stroke="#1a2350" stroke-width="0.7"/>
<circle cx="307.53" cy="142.00" r="3.1" fill="#4658a6" stroke="#1a2350" stroke-width="0.7"/>
<circle cx="315.97" cy="143.20" r="3.1" fill="#4658a6" stroke="#1a2350" stroke-width="0.7"/>
<circle cx="324.40" cy="146.00" r="3.1" fill="#4658a6" stroke="#1a2350" stroke-width="0.7"/>
<circle cx="332.83" cy="148.30" r="3.1" fill="#4658a6" stroke="#1a2350" stroke-width="0.7"/>
<circle cx="341.27" cy="149.80" r="3.1" fill="#4658a6" stroke="#1a2350" stroke-width="0.7"/>
<circle cx="349.70" cy="155.60" r="3.1" fill="#4658a6" stroke="#1a2350" stroke-width="0.7"/>
<circle cx="358.13" cy="151.80" r="3.1" fill="#4658a6" stroke="#1a2350" stroke-width="0.7"/>
<circle cx="366.57" cy="153.50" r="3.1" fill="#4658a6" stroke="#1a2350" stroke-width="0.7"/>
<circle cx="78.3" cy="141.2" r="3.2" fill="#4658a6" stroke="#1a2350" stroke-width="0.7"/>
<path d="M75.40,153.44 L81.60,153.44 L78.50,147.64 Z" fill="#c2242b" stroke="#401010" stroke-width="0.6"/>
<text x="95.00" y="144.70" font-size="9.2" text-anchor="start" font-weight="normal" >Drp1&#946;-WT</text>
<text x="95.00" y="154.70" font-size="9.2" text-anchor="start" font-weight="normal" >Drp1&#946;-KO</text>
<text x="388.30" y="51.60" font-size="14" text-anchor="start" font-weight="bold" >B</text>
<line x1="431.00" y1="64.91" x2="431.00" y2="138.80" stroke="#000" stroke-width="1.3" />
<line x1="427.00" y1="138.20" x2="431.00" y2="138.20" stroke="#000" stroke-width="1.2" />
<text x="424.70" y="141.50" font-size="9.3" text-anchor="end" font-weight="normal" >0.0</text>
<line x1="427.00" y1="113.97" x2="431.00" y2="113.97" stroke="#000" stroke-width="1.2" />
<text x="424.70" y="117.27" font-size="9.3" text-anchor="end" font-weight="normal" >0.2</text>
<line x1="427.00" y1="89.74" x2="431.00" y2="89.74" stroke="#000" stroke-width="1.2" />
<text x="424.70" y="93.04" font-size="9.3" text-anchor="end" font-weight="normal" >0.4</text>
<line x1="427.00" y1="65.51" x2="431.00" y2="65.51" stroke="#000" stroke-width="1.2" />
<text x="424.70" y="68.81" font-size="9.3" text-anchor="end" font-weight="normal" >0.6</text>
<line x1="451.10" y1="78.00" x2="451.10" y2="81.80" stroke="#222" stroke-width="1.1" />
<line x1="445.54" y1="78.00" x2="456.66" y2="78.00" stroke="#222" stroke-width="1.2" />
<rect x="438.20" y="81.80" width="25.80" height="56.40" fill="#4658a6" stroke="#1b1b1b" stroke-width="0.9" />
<line x1="451.10" y1="138.20" x2="451.10" y2="142.40" stroke="#000" stroke-width="1.2" />
<line x1="484.25" y1="84.80" x2="484.25" y2="89.60" stroke="#222" stroke-width="1.1" />
<line x1="478.76" y1="84.80" x2="489.74" y2="84.80" stroke="#222" stroke-width="1.2" />
<rect x="471.50" y="89.60" width="25.50" height="48.60" fill="#cf272e" stroke="#1b1b1b" stroke-width="0.9" />
<line x1="484.25" y1="138.20" x2="484.25" y2="142.40" stroke="#000" stroke-width="1.2" />
<line x1="427.00" y1="138.20" x2="504.80" y2="138.20" stroke="#000" stroke-width="1.3" />
<polyline points="450.90,78.00 450.90,71.40 484.40,71.40 484.40,84.80" fill="none" stroke="#4a4a4a" stroke-width="1.05"/>
<text x="467.65" y="69.60" font-size="7.5" text-anchor="middle" font-weight="normal" >ns</text>
<text x="466.50" y="48.80" font-size="9" text-anchor="middle" font-weight="normal" >ATP-linked respiration</text>
<text x="466.50" y="58.60" font-size="9" text-anchor="middle" font-weight="normal" >(16.7mM-Oligo)</text>
<text transform="translate(408.00,102.70) rotate(-90)" x="0" y="0" font-size="8.8" text-anchor="middle">pmol/min*ng gDNA</text>
<text x="450.90" y="152.20" font-size="8.8" text-anchor="middle" font-weight="normal" >&#946;-WT</text>
<text x="484.30" y="152.20" font-size="8.8" text-anchor="middle" font-weight="normal" >&#946;-KO</text>
<text x="0.80" y="190.40" font-size="14" text-anchor="start" font-weight="bold" >C</text>
<line x1="44.30" y1="203.80" x2="44.30" y2="278.00" stroke="#000" stroke-width="1.3" />
<line x1="40.30" y1="277.40" x2="44.30" y2="277.40" stroke="#000" stroke-width="1.2" />
<text x="38.00" y="280.70" font-size="9.3" text-anchor="end" font-weight="normal" >0.0</text>
<line x1="40.30" y1="259.15" x2="44.30" y2="259.15" stroke="#000" stroke-width="1.2" />
<text x="38.00" y="262.45" font-size="9.3" text-anchor="end" font-weight="normal" >0.1</text>
<line x1="40.30" y1="240.90" x2="44.30" y2="240.90" stroke="#000" stroke-width="1.2" />
<text x="38.00" y="244.20" font-size="9.3" text-anchor="end" font-weight="normal" >0.2</text>
<line x1="40.30" y1="222.65" x2="44.30" y2="222.65" stroke="#000" stroke-width="1.2" />
<text x="38.00" y="225.95" font-size="9.3" text-anchor="end" font-weight="normal" >0.3</text>
<line x1="40.30" y1="204.40" x2="44.30" y2="204.40" stroke="#000" stroke-width="1.2" />
<text x="38.00" y="207.70" font-size="9.3" text-anchor="end" font-weight="normal" >0.4</text>
<line x1="63.90" y1="225.70" x2="63.90" y2="232.00" stroke="#222" stroke-width="1.1" />
<line x1="58.34" y1="225.70" x2="69.46" y2="225.70" stroke="#222" stroke-width="1.2" />
<rect x="51.00" y="232.00" width="25.80" height="45.40" fill="#4658a6" stroke="#1b1b1b" stroke-width="0.9" />
<line x1="63.90" y1="277.40" x2="63.90" y2="281.60" stroke="#000" stroke-width="1.2" />
<line x1="97.20" y1="225.40" x2="97.20" y2="231.10" stroke="#222" stroke-width="1.1" />
<line x1="91.60" y1="225.40" x2="102.80" y2="225.40" stroke="#222" stroke-width="1.2" />
<rect x="84.20" y="231.10" width="26.00" height="46.30" fill="#cf272e" stroke="#1b1b1b" stroke-width="0.9" />
<line x1="97.20" y1="277.40" x2="97.20" y2="281.60" stroke="#000" stroke-width="1.2" />
<line x1="40.30" y1="277.40" x2="117.70" y2="277.40" stroke="#000" stroke-width="1.3" />
<polyline points="63.90,225.70 63.90,217.40 97.20,217.40 97.20,225.40" fill="none" stroke="#4a4a4a" stroke-width="1.05"/>
<text x="80.55" y="215.40" font-size="7.5" text-anchor="middle" font-weight="normal" >ns</text>
<text x="80.50" y="187.60" font-size="9" text-anchor="middle" font-weight="normal" >Basal respiration</text>
<text x="80.50" y="197.80" font-size="9" text-anchor="middle" font-weight="normal" >(Basal-Rot/AA)</text>
<text transform="translate(22.00,241.90) rotate(-90)" x="0" y="0" font-size="8.8" text-anchor="middle">pmol/min*ng gDNA</text>
<text x="64.00" y="290.90" font-size="8.8" text-anchor="middle" font-weight="normal" >&#946;-WT</text>
<text x="97.20" y="290.90" font-size="8.8" text-anchor="middle" font-weight="normal" >&#946;-KO</text>
<text x="126.60" y="190.40" font-size="14" text-anchor="start" font-weight="bold" >D</text>
<line x1="174.60" y1="203.50" x2="174.60" y2="277.90" stroke="#000" stroke-width="1.3" />
<line x1="170.60" y1="277.30" x2="174.60" y2="277.30" stroke="#000" stroke-width="1.2" />
<text x="170.00" y="280.60" font-size="9.3" text-anchor="end" font-weight="normal" >0.00</text>
<line x1="170.60" y1="259.00" x2="174.60" y2="259.00" stroke="#000" stroke-width="1.2" />
<text x="170.00" y="262.30" font-size="9.3" text-anchor="end" font-weight="normal" >0.05</text>
<line x1="170.60" y1="240.70" x2="174.60" y2="240.70" stroke="#000" stroke-width="1.2" />
<text x="170.00" y="244.00" font-size="9.3" text-anchor="end" font-weight="normal" >0.10</text>
<line x1="170.60" y1="222.40" x2="174.60" y2="222.40" stroke="#000" stroke-width="1.2" />
<text x="170.00" y="225.70" font-size="9.3" text-anchor="end" font-weight="normal" >0.15</text>
<line x1="170.60" y1="204.10" x2="174.60" y2="204.10" stroke="#000" stroke-width="1.2" />
<text x="170.00" y="207.40" font-size="9.3" text-anchor="end" font-weight="normal" >0.20</text>
<line x1="195.10" y1="212.30" x2="195.10" y2="217.70" stroke="#222" stroke-width="1.1" />
<line x1="189.50" y1="212.30" x2="200.70" y2="212.30" stroke="#222" stroke-width="1.2" />
<rect x="182.10" y="217.70" width="26.00" height="59.60" fill="#4658a6" stroke="#1b1b1b" stroke-width="0.9" />
<line x1="195.10" y1="277.30" x2="195.10" y2="281.50" stroke="#000" stroke-width="1.2" />
<line x1="228.75" y1="213.70" x2="228.75" y2="220.00" stroke="#222" stroke-width="1.1" />
<line x1="223.17" y1="213.70" x2="234.33" y2="213.70" stroke="#222" stroke-width="1.2" />
<rect x="215.80" y="220.00" width="25.90" height="57.30" fill="#cf272e" stroke="#1b1b1b" stroke-width="0.9" />
<line x1="228.75" y1="277.30" x2="228.75" y2="281.50" stroke="#000" stroke-width="1.2" />
<line x1="170.60" y1="277.30" x2="249.40" y2="277.30" stroke="#000" stroke-width="1.3" />
<polyline points="195.30,212.30 195.30,207.50 228.80,207.50 228.80,213.70" fill="none" stroke="#4a4a4a" stroke-width="1.05"/>
<text x="212.05" y="206.00" font-size="7.0" text-anchor="middle" font-weight="normal" >ns</text>
<text x="213.50" y="187.60" font-size="9" text-anchor="middle" font-weight="normal" >Proton leak</text>
<text x="213.50" y="197.80" font-size="9" text-anchor="middle" font-weight="normal" >(Oligo-Rot/AA)</text>
<text transform="translate(146.40,241.50) rotate(-90)" x="0" y="0" font-size="8.8" text-anchor="middle">pmol/min*ng gDNA</text>
<text x="195.30" y="290.80" font-size="8.8" text-anchor="middle" font-weight="normal" >&#946;-WT</text>
<text x="228.80" y="290.80" font-size="8.8" text-anchor="middle" font-weight="normal" >&#946;-KO</text>
<text x="259.40" y="191.50" font-size="14" text-anchor="start" font-weight="bold" >E</text>
<line x1="302.90" y1="203.10" x2="302.90" y2="277.50" stroke="#000" stroke-width="1.3" />
<line x1="298.90" y1="276.90" x2="302.90" y2="276.90" stroke="#000" stroke-width="1.2" />
<text x="296.60" y="280.20" font-size="9.3" text-anchor="end" font-weight="normal" >0.0</text>
<line x1="298.90" y1="262.26" x2="302.90" y2="262.26" stroke="#000" stroke-width="1.2" />
<text x="296.60" y="265.56" font-size="9.3" text-anchor="end" font-weight="normal" >0.2</text>
<line x1="298.90" y1="247.62" x2="302.90" y2="247.62" stroke="#000" stroke-width="1.2" />
<text x="296.60" y="250.92" font-size="9.3" text-anchor="end" font-weight="normal" >0.4</text>
<line x1="298.90" y1="232.98" x2="302.90" y2="232.98" stroke="#000" stroke-width="1.2" />
<text x="296.60" y="236.28" font-size="9.3" text-anchor="end" font-weight="normal" >0.6</text>
<line x1="298.90" y1="218.34" x2="302.90" y2="218.34" stroke="#000" stroke-width="1.2" />
<text x="296.60" y="221.64" font-size="9.3" text-anchor="end" font-weight="normal" >0.8</text>
<line x1="298.90" y1="203.70" x2="302.90" y2="203.70" stroke="#000" stroke-width="1.2" />
<text x="296.60" y="207.00" font-size="9.3" text-anchor="end" font-weight="normal" >1.0</text>
<line x1="322.40" y1="219.40" x2="322.40" y2="223.30" stroke="#222" stroke-width="1.1" />
<line x1="316.71" y1="219.40" x2="328.09" y2="219.40" stroke="#222" stroke-width="1.2" />
<rect x="309.20" y="223.30" width="26.40" height="53.60" fill="#4658a6" stroke="#1b1b1b" stroke-width="0.9" />
<line x1="322.40" y1="276.90" x2="322.40" y2="281.10" stroke="#000" stroke-width="1.2" />
<line x1="355.85" y1="220.40" x2="355.85" y2="225.20" stroke="#222" stroke-width="1.1" />
<line x1="350.27" y1="220.40" x2="361.43" y2="220.40" stroke="#222" stroke-width="1.2" />
<rect x="342.90" y="225.20" width="25.90" height="51.70" fill="#cf272e" stroke="#1b1b1b" stroke-width="0.9" />
<line x1="355.85" y1="276.90" x2="355.85" y2="281.10" stroke="#000" stroke-width="1.2" />
<line x1="298.90" y1="276.90" x2="375.60" y2="276.90" stroke="#000" stroke-width="1.3" />
<polyline points="322.30,219.40 322.30,213.70 355.80,213.70 355.80,220.40" fill="none" stroke="#4a4a4a" stroke-width="1.05"/>
<text x="339.05" y="211.50" font-size="7.5" text-anchor="middle" font-weight="normal" >ns</text>
<text x="338.50" y="188.80" font-size="9" text-anchor="middle" font-weight="normal" >Coupling efficiency</text>
<text transform="translate(278.20,242.50) rotate(-90)" x="0" y="0" font-size="8.8" text-anchor="middle">Ratio</text>
<text x="322.30" y="290.80" font-size="8.8" text-anchor="middle" font-weight="normal" >&#946;-WT</text>
<text x="355.80" y="290.80" font-size="8.8" text-anchor="middle" font-weight="normal" >&#946;-KO</text>
<text x="389.20" y="191.30" font-size="14" text-anchor="start" font-weight="bold" >F</text>
<line x1="444.60" y1="200.00" x2="444.60" y2="274.40" stroke="#000" stroke-width="1.3" />
<line x1="440.60" y1="273.80" x2="444.60" y2="273.80" stroke="#000" stroke-width="1.2" />
<text x="439.70" y="277.10" font-size="9.3" text-anchor="end" font-weight="normal" >0</text>
<line x1="440.60" y1="249.40" x2="444.60" y2="249.40" stroke="#000" stroke-width="1.2" />
<text x="439.70" y="252.70" font-size="9.3" text-anchor="end" font-weight="normal" >50</text>
<line x1="440.60" y1="225.00" x2="444.60" y2="225.00" stroke="#000" stroke-width="1.2" />
<text x="439.70" y="228.30" font-size="9.3" text-anchor="end" font-weight="normal" >100</text>
<line x1="440.60" y1="200.60" x2="444.60" y2="200.60" stroke="#000" stroke-width="1.2" />
<text x="439.70" y="203.90" font-size="9.3" text-anchor="end" font-weight="normal" >150</text>
<line x1="454.90" y1="223.70" x2="454.90" y2="225.20" stroke="#222" stroke-width="1.1" />
<line x1="452.14" y1="223.70" x2="457.66" y2="223.70" stroke="#222" stroke-width="1.2" />
<rect x="448.50" y="225.20" width="12.80" height="48.60" fill="#4658a6" stroke="#1b1b1b" stroke-width="0.9" />
<line x1="471.65" y1="208.30" x2="471.65" y2="219.20" stroke="#222" stroke-width="1.1" />
<line x1="468.87" y1="208.30" x2="474.43" y2="208.30" stroke="#222" stroke-width="1.2" />
<rect x="465.20" y="219.20" width="12.90" height="54.60" fill="#cf272e" stroke="#1b1b1b" stroke-width="0.9" />
<line x1="491.65" y1="221.20" x2="491.65" y2="225.20" stroke="#222" stroke-width="1.1" />
<line x1="488.96" y1="221.20" x2="494.34" y2="221.20" stroke="#222" stroke-width="1.2" />
<rect x="485.40" y="225.20" width="12.50" height="48.60" fill="#4658a6" stroke="#1b1b1b" stroke-width="0.9" />
<line x1="508.15" y1="212.70" x2="508.15" y2="215.00" stroke="#222" stroke-width="1.1" />
<line x1="505.37" y1="212.70" x2="510.93" y2="212.70" stroke="#222" stroke-width="1.2" />
<rect x="501.70" y="215.00" width="12.90" height="58.80" fill="#cf272e" stroke="#1b1b1b" stroke-width="0.9" />
<line x1="440.60" y1="273.80" x2="517.40" y2="273.80" stroke="#000" stroke-width="1.3" />
<polyline points="454.90,223.00 454.90,202.50 471.60,202.50 471.60,208.30" fill="none" stroke="#4a4a4a" stroke-width="1.05"/>
<text x="463.25" y="200.00" font-size="7.5" text-anchor="middle" font-weight="normal" >ns</text>
<polyline points="491.60,221.00 491.60,207.70 508.20,207.70 508.20,212.70" fill="none" stroke="#4a4a4a" stroke-width="1.05"/>
<text x="499.90" y="205.20" font-size="7.5" text-anchor="middle" font-weight="normal" >ns</text>
<text x="482.50" y="188.80" font-size="9" text-anchor="middle" font-weight="normal" >Islet qPCR</text>
<text transform="translate(407.6,238.0) rotate(-90)" font-size="9.3" text-anchor="middle"><tspan x="0" y="0">% Drp1&#946;-WT</tspan><tspan x="0" y="10">expression</tspan></text>
<g fill="none" stroke="#000" stroke-width="1.1">
<rect x="445.6" y="273.8" width="71.8" height="36.4"/>
</g>
<line x1="445.60" y1="291.80" x2="517.40" y2="291.80" stroke="#000" stroke-width="1.1" />
<line x1="463.20" y1="273.80" x2="463.20" y2="291.80" stroke="#000" stroke-width="1.1" />
<line x1="481.60" y1="273.80" x2="481.60" y2="291.80" stroke="#000" stroke-width="1.1" />
<line x1="500.60" y1="273.80" x2="500.60" y2="291.80" stroke="#000" stroke-width="1.1" />
<line x1="481.60" y1="291.80" x2="481.60" y2="310.20" stroke="#000" stroke-width="1.1" />
<text x="454.40" y="286.30" font-size="9" text-anchor="middle" font-weight="normal" >WT</text>
<text x="472.40" y="286.30" font-size="9" text-anchor="middle" font-weight="normal" >KO</text>
<text x="491.10" y="286.30" font-size="9" text-anchor="middle" font-weight="normal" >WT</text>
<text x="509.00" y="286.30" font-size="9" text-anchor="middle" font-weight="normal" >KO</text>
<text x="443.20" y="286.30" font-size="9" text-anchor="end" font-weight="normal" >Drp1</text>
<text x="463.60" y="304.40" font-size="9" text-anchor="middle" font-weight="normal" font-style="italic">Slc2a2</text>
<text x="499.50" y="304.40" font-size="9" text-anchor="middle" font-weight="normal" font-style="italic">Gck</text>
<text x="377.40" y="338.20" font-size="14" text-anchor="start" font-weight="bold" >I</text>
<line x1="421.30" y1="347.00" x2="421.30" y2="420.60" stroke="#000" stroke-width="1.3" />
<line x1="417.30" y1="420.00" x2="421.30" y2="420.00" stroke="#000" stroke-width="1.2" />
<text x="415.70" y="423.30" font-size="9.3" text-anchor="end" font-weight="normal" >0</text>
<line x1="417.30" y1="401.90" x2="421.30" y2="401.90" stroke="#000" stroke-width="1.2" />
<text x="415.70" y="405.20" font-size="9.3" text-anchor="end" font-weight="normal" >2</text>
<line x1="417.30" y1="383.80" x2="421.30" y2="383.80" stroke="#000" stroke-width="1.2" />
<text x="415.70" y="387.10" font-size="9.3" text-anchor="end" font-weight="normal" >4</text>
<line x1="417.30" y1="365.70" x2="421.30" y2="365.70" stroke="#000" stroke-width="1.2" />
<text x="415.70" y="369.00" font-size="9.3" text-anchor="end" font-weight="normal" >6</text>
<line x1="417.30" y1="347.60" x2="421.30" y2="347.60" stroke="#000" stroke-width="1.2" />
<text x="415.70" y="350.90" font-size="9.3" text-anchor="end" font-weight="normal" >8</text>
<line x1="441.35" y1="392.30" x2="441.35" y2="393.10" stroke="#222" stroke-width="1.1" />
<line x1="435.81" y1="392.30" x2="446.89" y2="392.30" stroke="#222" stroke-width="1.2" />
<rect x="428.50" y="393.10" width="25.70" height="26.90" fill="#4658a6" stroke="#1b1b1b" stroke-width="0.9" />
<line x1="441.35" y1="420.00" x2="441.35" y2="424.20" stroke="#000" stroke-width="1.2" />
<line x1="474.50" y1="366.90" x2="474.50" y2="368.80" stroke="#222" stroke-width="1.1" />
<line x1="468.90" y1="366.90" x2="480.10" y2="366.90" stroke="#222" stroke-width="1.2" />
<rect x="461.50" y="368.80" width="26.00" height="51.20" fill="#cf272e" stroke="#1b1b1b" stroke-width="0.9" />
<line x1="474.50" y1="420.00" x2="474.50" y2="424.20" stroke="#000" stroke-width="1.2" />
<line x1="417.30" y1="420.00" x2="495.20" y2="420.00" stroke="#000" stroke-width="1.3" />
<polyline points="441.30,391.50 441.30,360.60 474.80,360.60 474.80,366.90" fill="none" stroke="#4a4a4a" stroke-width="1.05"/>
<polygon points="450.10,353.60 450.89,355.51 452.95,355.67 451.38,357.02 451.86,359.03 450.10,357.95 448.34,359.03 448.82,357.02 447.25,355.67 449.31,355.51" fill="#111"/>
<polygon points="455.60,353.60 456.39,355.51 458.45,355.67 456.88,357.02 457.36,359.03 455.60,357.95 453.84,359.03 454.32,357.02 452.75,355.67 454.81,355.51" fill="#111"/>
<polygon points="461.10,353.60 461.89,355.51 463.95,355.67 462.38,357.02 462.86,359.03 461.10,357.95 459.34,359.03 459.82,357.02 458.25,355.67 460.31,355.51" fill="#111"/>
<polygon points="466.60,353.60 467.39,355.51 469.45,355.67 467.88,357.02 468.36,359.03 466.60,357.95 464.84,359.03 465.32,357.02 463.75,355.67 465.81,355.51" fill="#111"/>
<text x="457.50" y="335.20" font-size="9" text-anchor="middle" font-weight="normal" >Period</text>
<text transform="translate(404.30,385.50) rotate(-90)" x="0" y="0" font-size="9" text-anchor="middle">Minutes</text>
<text x="377.40" y="467.60" font-size="14" text-anchor="start" font-weight="bold" >J</text>
<line x1="421.30" y1="475.50" x2="421.30" y2="549.90" stroke="#000" stroke-width="1.3" />
<line x1="417.30" y1="549.30" x2="421.30" y2="549.30" stroke="#000" stroke-width="1.2" />
<text x="415.50" y="552.60" font-size="9.3" text-anchor="end" font-weight="normal" >0.00</text>
<line x1="417.30" y1="524.90" x2="421.30" y2="524.90" stroke="#000" stroke-width="1.2" />
<text x="415.50" y="528.20" font-size="9.3" text-anchor="end" font-weight="normal" >0.05</text>
<line x1="417.30" y1="500.50" x2="421.30" y2="500.50" stroke="#000" stroke-width="1.2" />
<text x="415.50" y="503.80" font-size="9.3" text-anchor="end" font-weight="normal" >0.10</text>
<line x1="417.30" y1="476.10" x2="421.30" y2="476.10" stroke="#000" stroke-width="1.2" />
<text x="415.50" y="479.40" font-size="9.3" text-anchor="end" font-weight="normal" >0.15</text>
<line x1="441.35" y1="489.20" x2="441.35" y2="492.20" stroke="#222" stroke-width="1.1" />
<line x1="435.81" y1="489.20" x2="446.89" y2="489.20" stroke="#222" stroke-width="1.2" />
<rect x="428.50" y="492.20" width="25.70" height="57.10" fill="#4658a6" stroke="#1b1b1b" stroke-width="0.9" />
<line x1="441.35" y1="549.30" x2="441.35" y2="553.50" stroke="#000" stroke-width="1.2" />
<line x1="474.50" y1="498.50" x2="474.50" y2="500.30" stroke="#222" stroke-width="1.1" />
<line x1="468.90" y1="498.50" x2="480.10" y2="498.50" stroke="#222" stroke-width="1.2" />
<rect x="461.50" y="500.30" width="26.00" height="49.00" fill="#cf272e" stroke="#1b1b1b" stroke-width="0.9" />
<line x1="474.50" y1="549.30" x2="474.50" y2="553.50" stroke="#000" stroke-width="1.2" />
<line x1="417.30" y1="549.30" x2="495.20" y2="549.30" stroke="#000" stroke-width="1.3" />
<polyline points="441.30,489.20 441.30,483.40 474.60,483.40 474.60,498.50" fill="none" stroke="#4a4a4a" stroke-width="1.05"/>
<polygon points="453.75,476.10 454.54,478.01 456.60,478.17 455.03,479.52 455.51,481.53 453.75,480.45 451.99,481.53 452.47,479.52 450.90,478.17 452.96,478.01" fill="#111"/>
<polygon points="459.25,476.10 460.04,478.01 462.10,478.17 460.53,479.52 461.01,481.53 459.25,480.45 457.49,481.53 457.97,479.52 456.40,478.17 458.46,478.01" fill="#111"/>
<polygon points="464.75,476.10 465.54,478.01 467.60,478.17 466.03,479.52 466.51,481.53 464.75,480.45 462.99,481.53 463.47,479.52 461.90,478.17 463.96,478.01" fill="#111"/>
<text x="458.50" y="464.50" font-size="9" text-anchor="middle" font-weight="normal" >Amplitude</text>
<text transform="translate(393.00,513.00) rotate(-90)" x="0" y="0" font-size="9.2" text-anchor="middle">&#916;R500/430</text>
<text x="377.40" y="595.60" font-size="14" text-anchor="start" font-weight="bold" >K</text>
<line x1="421.30" y1="606.00" x2="421.30" y2="680.60" stroke="#000" stroke-width="1.3" />
<line x1="417.30" y1="680.00" x2="421.30" y2="680.00" stroke="#000" stroke-width="1.2" />
<text x="415.50" y="683.30" font-size="9.3" text-anchor="end" font-weight="normal" >0.0</text>
<line x1="417.30" y1="661.65" x2="421.30" y2="661.65" stroke="#000" stroke-width="1.2" />
<text x="415.50" y="664.95" font-size="9.3" text-anchor="end" font-weight="normal" >0.1</text>
<line x1="417.30" y1="643.30" x2="421.30" y2="643.30" stroke="#000" stroke-width="1.2" />
<text x="415.50" y="646.60" font-size="9.3" text-anchor="end" font-weight="normal" >0.2</text>
<line x1="417.30" y1="624.95" x2="421.30" y2="624.95" stroke="#000" stroke-width="1.2" />
<text x="415.50" y="628.25" font-size="9.3" text-anchor="end" font-weight="normal" >0.3</text>
<line x1="417.30" y1="606.60" x2="421.30" y2="606.60" stroke="#000" stroke-width="1.2" />
<text x="415.50" y="609.90" font-size="9.3" text-anchor="end" font-weight="normal" >0.4</text>
<line x1="441.35" y1="621.10" x2="441.35" y2="622.20" stroke="#222" stroke-width="1.1" />
<line x1="435.81" y1="621.10" x2="446.89" y2="621.10" stroke="#222" stroke-width="1.2" />
<rect x="428.50" y="622.20" width="25.70" height="57.80" fill="#4658a6" stroke="#1b1b1b" stroke-width="0.9" />
<line x1="441.35" y1="680.00" x2="441.35" y2="684.20" stroke="#000" stroke-width="1.2" />
<line x1="474.50" y1="622.50" x2="474.50" y2="623.80" stroke="#222" stroke-width="1.1" />
<line x1="468.90" y1="622.50" x2="480.10" y2="622.50" stroke="#222" stroke-width="1.2" />
<rect x="461.50" y="623.80" width="26.00" height="56.20" fill="#cf272e" stroke="#1b1b1b" stroke-width="0.9" />
<line x1="474.50" y1="680.00" x2="474.50" y2="684.20" stroke="#000" stroke-width="1.2" />
<line x1="417.30" y1="680.00" x2="495.20" y2="680.00" stroke="#000" stroke-width="1.3" />
<polyline points="441.30,620.80 441.30,616.50 474.60,616.50 474.60,622.30" fill="none" stroke="#4a4a4a" stroke-width="1.05"/>
<text x="457.95" y="614.20" font-size="7.5" text-anchor="middle" font-weight="normal" >ns</text>
<text x="458.00" y="592.50" font-size="9" text-anchor="middle" font-weight="normal" >Duty Cycle</text>
<text transform="translate(396.00,647.00) rotate(-90)" x="0" y="0" font-size="9.2" text-anchor="middle">&#916;R500/430</text>
<text transform="translate(444.70,432.00) rotate(-45)" font-size="9" text-anchor="end">&#946;-WT</text>
<text transform="translate(478.00,432.00) rotate(-45)" font-size="9" text-anchor="end">&#946;-KO</text>
<text transform="translate(444.70,561.30) rotate(-45)" font-size="9" text-anchor="end">&#946;-WT</text>
<text transform="translate(478.00,561.30) rotate(-45)" font-size="9" text-anchor="end">&#946;-KO</text>
<text transform="translate(444.70,692.00) rotate(-45)" font-size="9" text-anchor="end">&#946;-WT</text>
<text transform="translate(478.00,692.00) rotate(-45)" font-size="9" text-anchor="end">&#946;-KO</text>
<text x="21.00" y="348.80" font-size="14" text-anchor="start" font-weight="bold" >G</text>
<text x="192.30" y="349.60" font-size="9" text-anchor="middle" font-weight="normal" >Ca<tspan font-size="6.2" dy="-3.4">2+</tspan><tspan dy="3.4"> (FuraRed)</tspan></text>
<text x="80.00" y="361.70" font-size="9" text-anchor="middle" font-weight="normal" >2mM</text>
<text x="134.00" y="361.70" font-size="9" text-anchor="middle" font-weight="normal" >5mM</text>
<text x="219.00" y="361.70" font-size="9" text-anchor="middle" font-weight="normal" >7mM</text>
<text x="297.00" y="361.70" font-size="9" text-anchor="middle" font-weight="normal" >9mM</text>
<line x1="54.60" y1="366.40" x2="54.60" y2="451.60" stroke="#000" stroke-width="1.0" />
<line x1="54.10" y1="451.60" x2="341.00" y2="451.60" stroke="#000" stroke-width="1.5" />
<line x1="340.50" y1="366.40" x2="340.50" y2="451.60" stroke="#000" stroke-width="1.1" />
<line x1="54.60" y1="366.40" x2="93.40" y2="366.40" stroke="#000" stroke-width="0.9" />
<rect x="93.40" y="365.30" width="84.90" height="2.20" fill="#000" stroke="none" stroke-width="0" />
<rect x="178.30" y="364.50" width="83.00" height="3.30" fill="#000" stroke="none" stroke-width="0" />
<rect x="261.30" y="363.30" width="79.80" height="5.30" fill="#000" stroke="none" stroke-width="0" />
<line x1="94.20" y1="367.40" x2="94.20" y2="451.60" stroke="#6e6e6e" stroke-width="0.9" stroke-dasharray="1 1"/>
<line x1="178.40" y1="367.40" x2="178.40" y2="451.60" stroke="#6e6e6e" stroke-width="0.9" stroke-dasharray="1 1"/>
<line x1="261.30" y1="367.40" x2="261.30" y2="451.60" stroke="#6e6e6e" stroke-width="0.9" stroke-dasharray="1 1"/>
<rect x="100.40" y="371.30" width="6.30" height="5.60" fill="#4658a6" stroke="#222" stroke-width="0.5" />
<rect x="100.40" y="380.20" width="6.30" height="5.60" fill="#cf272e" stroke="#222" stroke-width="0.5" />
<text x="108.60" y="377.40" font-size="9.2" text-anchor="start" font-weight="normal" >&#946;-WT</text>
<text x="108.60" y="386.40" font-size="9.2" text-anchor="start" font-weight="normal" >&#946;-KO</text>
<path d="M54.80,398.30 L57.08,398.34 L60.31,398.40 L64.11,398.46 L68.07,398.55 L71.83,398.66 L75.00,398.80 L77.64,398.99 L80.06,399.24 L82.28,399.51 L84.29,399.78 L86.10,400.02 L87.70,400.20 L89.05,400.31 L90.15,400.37 L91.04,400.39 L91.78,400.41 L92.42,400.44 L93.00,400.50 L93.46,400.53 L93.74,400.51 L93.92,400.51 L94.07,400.57 L94.27,400.78 L94.60,401.20 L95.06,401.85 L95.61,402.67 L96.20,403.64 L96.81,404.71 L97.42,405.85 L98.00,407.00 L98.54,408.21 L99.08,409.50 L99.61,410.86 L100.13,412.25 L100.66,413.64 L101.20,415.00 L101.74,416.36 L102.29,417.76 L102.84,419.16 L103.39,420.52 L103.94,421.81 L104.50,423.00 L105.06,424.08 L105.62,425.09 L106.18,426.03 L106.75,426.91 L107.32,427.73 L107.90,428.50 L108.48,429.22 L109.05,429.88 L109.63,430.48 L110.23,431.03 L110.85,431.54 L111.50,432.00 L112.17,432.43 L112.85,432.84 L113.56,433.20 L114.30,433.49 L115.11,433.70 L116.00,433.80 L116.98,433.82 L118.04,433.78 L119.16,433.65 L120.33,433.41 L121.51,433.04 L122.70,432.50 L123.87,431.72 L125.05,430.71 L126.24,429.56 L127.49,428.37 L128.80,427.25 L130.20,426.30 L131.72,425.52 L133.35,424.81 L135.04,424.18 L136.77,423.60 L138.50,423.04 L140.20,422.50 L141.86,421.99 L143.53,421.51 L145.19,421.07 L146.85,420.65 L148.52,420.23 L150.20,419.80 L151.88,419.36 L153.54,418.93 L155.22,418.50 L156.91,418.07 L158.63,417.64 L160.40,417.20 L162.27,416.74 L164.24,416.27 L166.25,415.79 L168.21,415.33 L170.05,414.89 L171.70,414.50 L173.16,414.09 L174.51,413.64 L175.73,413.22 L176.84,412.89 L177.83,412.73 L178.70,412.80 L179.41,413.11 L179.93,413.60 L180.34,414.26 L180.70,415.06 L181.06,415.98 L181.50,417.00 L182.01,418.34 L182.55,420.07 L183.10,421.92 L183.64,423.62 L184.14,424.90 L184.60,425.50 L185.00,425.43 L185.35,424.91 L185.67,423.97 L185.97,422.65 L186.28,420.98 L186.60,419.00 L186.93,416.50 L187.27,413.41 L187.60,409.97 L187.93,406.43 L188.27,403.02 L188.60,400.00 L188.93,397.27 L189.27,394.61 L189.61,392.09 L189.94,389.78 L190.27,387.73 L190.60,386.00 L190.92,384.60 L191.22,383.46 L191.52,382.59 L191.83,381.98 L192.15,381.62 L192.50,381.50 L192.87,381.63 L193.25,382.02 L193.65,382.66 L194.07,383.54 L194.52,384.65 L195.00,386.00 L195.53,387.72 L196.11,389.85 L196.72,392.22 L197.33,394.65 L197.93,396.97 L198.50,399.00 L199.04,400.80 L199.57,402.50 L200.09,404.09 L200.59,405.56 L201.06,406.86 L201.50,408.00 L201.90,408.95 L202.26,409.74 L202.59,410.38 L202.91,410.87 L203.24,411.24 L203.60,411.50 L204.00,411.59 L204.45,411.50 L204.90,411.29 L205.33,411.01 L205.71,410.72 L206.00,410.50 L206.17,410.31 L206.23,410.10 L206.24,409.89 L206.25,409.69 L206.32,409.53 L206.50,409.41 L206.81,409.37 L207.22,409.39 L207.68,409.44 L208.16,409.49 L208.64,409.51 L209.08,409.46 L209.49,409.33 L209.89,409.13 L210.29,408.90 L210.68,408.67 L211.04,408.47 L211.38,408.35 L211.68,408.30 L211.92,408.30 L212.15,408.34 L212.39,408.39 L212.66,408.45 L212.99,408.49 L213.39,408.49 L213.84,408.47 L214.33,408.46 L214.83,408.46 L215.32,408.51 L215.79,408.63 L216.22,408.87 L216.64,409.21 L217.06,409.60 L217.47,409.97 L217.89,410.27 L218.32,410.44 L218.78,410.43 L219.26,410.30 L219.75,410.09 L220.23,409.86 L220.69,409.67 L221.11,409.58 L221.48,409.60 L221.81,409.70 L222.12,409.83 L222.43,409.97 L222.76,410.07 L223.12,410.11 L223.51,410.05 L223.93,409.91 L224.36,409.74 L224.81,409.58 L225.25,409.48 L225.68,409.49 L226.10,409.66 L226.52,409.95 L226.94,410.31 L227.35,410.66 L227.78,410.93 L228.21,411.04 L228.64,410.97 L229.08,410.75 L229.53,410.45 L229.98,410.13 L230.43,409.86 L230.88,409.70 L231.35,409.64 L231.83,409.64 L232.32,409.69 L232.80,409.77 L233.25,409.87 L233.67,409.99 L234.04,410.15 L234.36,410.37 L234.67,410.61 L234.97,410.84 L235.29,411.04 L235.66,411.15 L236.07,411.17 L236.52,411.11 L236.99,411.00 L237.47,410.89 L237.94,410.81 L238.41,410.78 L238.88,410.83 L239.36,410.93 L239.84,411.05 L240.31,411.18 L240.76,411.28 L241.17,411.33 L241.55,411.31 L241.89,411.26 L242.21,411.19 L242.52,411.10 L242.82,411.01 L243.12,410.93 L243.43,410.84 L243.73,410.73 L244.02,410.61 L244.32,410.52 L244.61,410.48 L244.90,410.50 L245.18,410.64 L245.44,410.89 L245.70,411.17 L245.97,411.46 L246.28,411.68 L246.64,411.78 L247.06,411.72 L247.55,411.52 L248.07,411.27 L248.59,411.02 L249.07,410.84 L249.49,410.81 L249.82,410.96 L250.09,411.27 L250.33,411.64 L250.56,412.01 L250.80,412.31 L251.09,412.44 L251.44,412.39 L251.81,412.19 L252.20,411.91 L252.60,411.62 L252.98,411.37 L253.34,411.22 L253.66,411.19 L253.96,411.24 L254.24,411.33 L254.53,411.43 L254.84,411.51 L255.19,411.55 L255.59,411.53 L256.03,411.50 L256.49,411.45 L256.96,411.38 L257.41,411.29 L257.82,411.20 L258.22,411.06 L258.60,410.89 L258.97,410.69 L259.32,410.52 L259.64,410.39 L259.92,410.34 L260.15,410.43 L260.32,410.65 L260.47,410.92 L260.61,411.15 L260.78,411.27 L261.00,411.20 L261.28,410.97 L261.60,410.65 L261.94,410.22 L262.30,409.65 L262.66,408.92 L263.00,408.00 L263.33,406.85 L263.67,405.47 L264.00,403.93 L264.33,402.29 L264.67,400.62 L265.00,399.00 L265.34,397.37 L265.67,395.67 L266.01,393.94 L266.35,392.22 L266.68,390.56 L267.00,389.00 L267.31,387.49 L267.61,385.98 L267.91,384.53 L268.21,383.19 L268.50,381.99 L268.80,381.00 L269.10,380.16 L269.40,379.43 L269.69,378.84 L269.99,378.46 L270.29,378.33 L270.60,378.50 L270.91,379.01 L271.22,379.83 L271.54,380.91 L271.86,382.17 L272.18,383.55 L272.50,385.00 L272.83,386.61 L273.16,388.46 L273.49,390.44 L273.82,392.43 L274.16,394.32 L274.50,396.00 L274.85,397.57 L275.20,399.13 L275.56,400.59 L275.91,401.87 L276.26,402.87 L276.60,403.50 L276.94,403.62 L277.30,403.29 L277.65,402.67 L277.98,401.96 L278.27,401.35 L278.50,401.00 L278.64,400.98 L278.69,401.16 L278.71,401.43 L278.73,401.69 L278.81,401.82 L279.00,401.74 L279.31,401.39 L279.72,400.85 L280.18,400.19 L280.66,399.49 L281.13,398.81 L281.55,398.24 L281.91,397.67 L282.25,397.04 L282.57,396.44 L282.90,395.96 L283.23,395.69 L283.58,395.75 L283.97,396.23 L284.37,397.10 L284.79,398.19 L285.20,399.34 L285.61,400.37 L285.99,401.12 L286.34,401.60 L286.67,401.95 L286.98,402.19 L287.30,402.34 L287.62,402.42 L287.96,402.46 L288.33,402.42 L288.72,402.29 L289.11,402.09 L289.51,401.85 L289.88,401.63 L290.22,401.44 L290.52,401.26 L290.79,401.07 L291.04,400.89 L291.28,400.73 L291.54,400.61 L291.83,400.56 L292.15,400.59 L292.50,400.69 L292.86,400.83 L293.22,401.00 L293.58,401.18 L293.93,401.36 L294.25,401.51 L294.56,401.64 L294.86,401.79 L295.17,401.98 L295.49,402.25 L295.83,402.62 L296.20,403.14 L296.58,403.78 L296.97,404.50 L297.37,405.24 L297.77,405.97 L298.16,406.63 L298.55,407.24 L298.95,407.85 L299.34,408.44 L299.72,409.00 L300.09,409.51 L300.43,409.94 L300.72,410.34 L300.98,410.70 L301.23,411.01 L301.47,411.25 L301.73,411.39 L302.02,411.41 L302.35,411.24 L302.70,410.88 L303.07,410.43 L303.45,409.97 L303.83,409.58 L304.20,409.37 L304.57,409.36 L304.96,409.47 L305.35,409.67 L305.74,409.90 L306.09,410.10 L306.42,410.22 L306.70,410.27 L306.95,410.29 L307.18,410.27 L307.40,410.25 L307.63,410.22 L307.87,410.20 L308.14,410.16 L308.42,410.09 L308.70,410.02 L308.99,409.97 L309.27,409.98 L309.54,410.07 L309.81,410.31 L310.07,410.66 L310.33,411.07 L310.58,411.48 L310.84,411.81 L311.10,412.00 L311.37,412.00 L311.64,411.84 L311.92,411.61 L312.19,411.39 L312.46,411.25 L312.72,411.27 L312.97,411.47 L313.20,411.79 L313.43,412.19 L313.66,412.64 L313.90,413.10 L314.16,413.54 L314.45,413.98 L314.74,414.47 L315.05,414.97 L315.37,415.45 L315.69,415.88 L316.02,416.21 L316.35,416.49 L316.69,416.72 L317.03,416.90 L317.39,417.02 L317.75,417.04 L318.13,416.96 L318.53,416.70 L318.95,416.27 L319.38,415.75 L319.81,415.23 L320.23,414.80 L320.61,414.55 L320.96,414.50 L321.28,414.60 L321.59,414.78 L321.89,415.01 L322.19,415.24 L322.50,415.42 L322.81,415.57 L323.11,415.71 L323.41,415.86 L323.72,416.00 L324.05,416.14 L324.39,416.28 L324.77,416.41 L325.19,416.52 L325.62,416.62 L326.04,416.74 L326.44,416.88 L326.79,417.06 L327.08,417.29 L327.34,417.58 L327.56,417.89 L327.78,418.20 L328.00,418.47 L328.23,418.68 L328.48,418.80 L328.72,418.85 L328.97,418.87 L329.22,418.89 L329.47,418.93 L329.75,419.03 L330.02,419.20 L330.30,419.41 L330.58,419.66 L330.88,419.91 L331.20,420.16 L331.55,420.37 L331.94,420.56 L332.37,420.72 L332.82,420.87 L333.27,421.03 L333.71,421.21 L334.10,421.42 L334.45,421.72 L334.77,422.11 L335.08,422.52 L335.38,422.88 L335.68,423.11 L336.01,423.14 L336.35,422.95 L336.71,422.57 L337.08,422.06 L337.45,421.48 L337.82,420.89 L338.18,420.34 L338.55,419.78 L338.94,419.14 L339.32,418.50 L339.68,417.89 L339.98,417.37 L340.20,417.00" fill="none" stroke="#a53a48" stroke-width="0.95"/>
<path d="M54.80,417.70 L57.02,417.69 L60.12,417.67 L63.77,417.64 L67.68,417.62 L71.53,417.61 L75.00,417.60 L78.30,417.59 L81.73,417.57 L85.09,417.56 L88.21,417.57 L90.91,417.61 L93.00,417.70 L94.33,417.79 L95.01,417.87 L95.26,417.98 L95.33,418.17 L95.43,418.50 L95.80,419.00 L96.42,419.71 L97.11,420.60 L97.84,421.61 L98.58,422.71 L99.31,423.86 L100.00,425.00 L100.64,426.11 L101.26,427.22 L101.86,428.37 L102.47,429.60 L103.11,430.97 L103.80,432.50 L104.57,434.34 L105.41,436.49 L106.28,438.77 L107.14,441.00 L107.96,443.00 L108.70,444.60 L109.33,445.77 L109.89,446.63 L110.41,447.27 L110.91,447.76 L111.43,448.18 L112.00,448.60 L112.63,449.01 L113.28,449.35 L113.96,449.61 L114.64,449.81 L115.33,449.94 L116.00,450.00 L116.67,450.01 L117.33,449.96 L118.00,449.84 L118.67,449.64 L119.33,449.37 L120.00,449.00 L120.64,448.54 L121.25,448.00 L121.86,447.38 L122.50,446.67 L123.21,445.88 L124.00,445.00 L124.92,443.95 L125.96,442.70 L127.05,441.37 L128.16,440.06 L129.22,438.86 L130.20,437.90 L131.08,437.19 L131.89,436.64 L132.66,436.22 L133.42,435.88 L134.19,435.55 L135.00,435.20 L135.79,434.85 L136.53,434.54 L137.28,434.25 L138.10,433.96 L139.05,433.65 L140.20,433.30 L141.59,432.88 L143.17,432.42 L144.89,431.93 L146.67,431.45 L148.47,431.00 L150.20,430.60 L151.88,430.27 L153.54,430.00 L155.22,429.75 L156.91,429.51 L158.63,429.27 L160.40,429.00 L162.27,428.69 L164.24,428.37 L166.25,428.03 L168.21,427.70 L170.05,427.39 L171.70,427.10 L173.16,426.78 L174.51,426.42 L175.73,426.07 L176.84,425.80 L177.83,425.69 L178.70,425.80 L179.42,426.19 L179.96,426.81 L180.39,427.58 L180.76,428.43 L181.11,429.26 L181.50,430.00 L181.92,430.77 L182.32,431.65 L182.71,432.53 L183.09,433.26 L183.45,433.73 L183.80,433.80 L184.13,433.53 L184.43,433.03 L184.73,432.26 L185.01,431.19 L185.30,429.78 L185.60,428.00 L185.91,425.71 L186.21,422.90 L186.52,419.76 L186.83,416.45 L187.16,413.14 L187.50,410.00 L187.86,406.92 L188.23,403.73 L188.61,400.55 L189.00,397.47 L189.40,394.58 L189.80,392.00 L190.21,389.63 L190.63,387.36 L191.06,385.30 L191.48,383.53 L191.90,382.13 L192.30,381.20 L192.67,380.80 L193.03,380.86 L193.37,381.30 L193.72,382.03 L194.09,382.96 L194.50,384.00 L194.95,385.25 L195.44,386.80 L195.95,388.55 L196.47,390.40 L196.99,392.25 L197.50,394.00 L198.00,395.71 L198.50,397.46 L198.99,399.22 L199.49,400.93 L199.99,402.54 L200.50,404.00 L201.02,405.38 L201.55,406.74 L202.09,408.00 L202.61,409.09 L203.12,409.95 L203.60,410.50 L204.06,410.63 L204.52,410.38 L204.96,409.89 L205.37,409.31 L205.72,408.80 L206.00,408.50 L206.18,408.42 L206.25,408.46 L206.27,408.55 L206.29,408.66 L206.35,408.75 L206.50,408.75 L206.75,408.69 L207.06,408.59 L207.42,408.47 L207.80,408.32 L208.19,408.13 L208.56,407.91 L208.93,407.68 L209.31,407.45 L209.69,407.18 L210.07,406.86 L210.46,406.45 L210.84,405.92 L211.22,405.14 L211.61,404.10 L212.00,402.96 L212.38,401.92 L212.75,401.14 L213.10,400.81 L213.42,401.07 L213.71,401.80 L213.99,402.79 L214.27,403.85 L214.56,404.77 L214.86,405.34 L215.18,405.56 L215.52,405.61 L215.86,405.51 L216.20,405.31 L216.52,405.05 L216.82,404.78 L217.08,404.42 L217.32,403.94 L217.54,403.41 L217.75,402.88 L217.97,402.43 L218.20,402.13 L218.44,402.03 L218.69,402.09 L218.93,402.23 L219.19,402.37 L219.45,402.41 L219.73,402.29 L220.02,401.92 L220.34,401.35 L220.67,400.70 L221.00,400.06 L221.31,399.55 L221.61,399.27 L221.87,399.25 L222.11,399.39 L222.33,399.66 L222.56,400.01 L222.81,400.39 L223.10,400.77 L223.44,401.18 L223.83,401.68 L224.23,402.21 L224.63,402.72 L225.01,403.17 L225.35,403.49 L225.64,403.68 L225.89,403.78 L226.12,403.81 L226.34,403.79 L226.56,403.73 L226.78,403.66 L227.02,403.59 L227.26,403.51 L227.49,403.39 L227.73,403.22 L227.96,402.98 L228.19,402.66 L228.42,402.17 L228.63,401.52 L228.84,400.80 L229.07,400.11 L229.31,399.55 L229.59,399.21 L229.92,399.10 L230.29,399.13 L230.68,399.30 L231.08,399.57 L231.46,399.94 L231.79,400.37 L232.07,401.02 L232.31,401.92 L232.54,402.90 L232.76,403.82 L233.00,404.52 L233.28,404.83 L233.61,404.63 L233.96,404.01 L234.33,403.18 L234.72,402.30 L235.11,401.57 L235.49,401.17 L235.87,401.17 L236.26,401.44 L236.65,401.86 L237.04,402.30 L237.42,402.66 L237.78,402.80 L238.13,402.66 L238.46,402.31 L238.78,401.88 L239.10,401.46 L239.43,401.17 L239.78,401.12 L240.14,401.37 L240.51,401.83 L240.90,402.42 L241.28,403.06 L241.67,403.65 L242.05,404.11 L242.44,404.48 L242.85,404.85 L243.25,405.17 L243.64,405.42 L244.01,405.54 L244.36,405.51 L244.66,405.27 L244.94,404.83 L245.20,404.27 L245.45,403.67 L245.69,403.13 L245.94,402.72 L246.19,402.42 L246.43,402.16 L246.67,401.95 L246.91,401.79 L247.15,401.70 L247.38,401.68 L247.60,401.78 L247.81,402.00 L248.01,402.29 L248.23,402.58 L248.45,402.80 L248.71,402.89 L248.99,402.80 L249.30,402.56 L249.62,402.26 L249.96,401.98 L250.29,401.80 L250.62,401.80 L250.95,402.01 L251.29,402.36 L251.64,402.81 L251.97,403.32 L252.30,403.86 L252.61,404.38 L252.90,404.96 L253.17,405.66 L253.42,406.38 L253.68,407.04 L253.94,407.54 L254.21,407.81 L254.49,407.75 L254.79,407.41 L255.09,406.92 L255.39,406.40 L255.69,405.99 L255.99,405.82 L256.29,405.92 L256.60,406.18 L256.90,406.56 L257.21,406.97 L257.50,407.37 L257.77,407.68 L258.01,407.94 L258.24,408.20 L258.46,408.44 L258.67,408.64 L258.87,408.76 L259.09,408.77 L259.31,408.65 L259.54,408.42 L259.77,408.10 L259.99,407.75 L260.20,407.41 L260.37,407.10 L260.50,406.92 L260.58,406.85 L260.64,406.79 L260.71,406.62 L260.82,406.22 L261.00,405.50 L261.25,404.45 L261.57,403.16 L261.91,401.65 L262.28,399.94 L262.65,398.05 L263.00,396.00 L263.34,393.62 L263.67,390.85 L264.01,387.91 L264.35,384.98 L264.68,382.28 L265.00,380.00 L265.32,378.13 L265.64,376.49 L265.95,375.08 L266.25,373.87 L266.54,372.85 L266.80,372.00 L267.03,371.35 L267.23,370.94 L267.42,370.71 L267.60,370.62 L267.79,370.63 L268.00,370.70 L268.24,370.87 L268.50,371.19 L268.76,371.61 L269.03,372.09 L269.28,372.56 L269.50,373.00 L269.69,373.43 L269.84,373.89 L269.98,374.36 L270.13,374.81 L270.29,375.20 L270.50,375.50 L270.77,375.71 L271.08,375.84 L271.42,375.92 L271.75,375.96 L272.05,375.98 L272.30,376.00 L272.47,375.93 L272.57,375.73 L272.64,375.51 L272.72,375.37 L272.83,375.43 L273.00,375.78 L273.25,376.55 L273.56,377.67 L273.90,378.99 L274.25,380.32 L274.59,381.51 L274.89,382.38 L275.15,382.94 L275.38,383.31 L275.60,383.53 L275.82,383.64 L276.08,383.67 L276.37,383.66 L276.72,383.55 L277.11,383.30 L277.53,382.97 L277.96,382.63 L278.38,382.34 L278.78,382.16 L279.17,382.13 L279.56,382.21 L279.94,382.35 L280.31,382.47 L280.67,382.51 L281.01,382.41 L281.33,382.12 L281.63,381.69 L281.92,381.18 L282.21,380.65 L282.51,380.19 L282.84,379.84 L283.20,379.55 L283.58,379.26 L283.98,379.02 L284.38,378.90 L284.77,378.96 L285.13,379.25 L285.46,379.88 L285.76,380.82 L286.05,381.93 L286.34,383.09 L286.65,384.17 L286.98,385.05 L287.34,385.77 L287.73,386.46 L288.13,387.07 L288.53,387.56 L288.92,387.89 L289.28,388.02 L289.61,387.85 L289.92,387.38 L290.21,386.76 L290.50,386.11 L290.81,385.57 L291.13,385.28 L291.47,385.24 L291.84,385.35 L292.22,385.57 L292.59,385.87 L292.95,386.20 L293.29,386.54 L293.60,386.92 L293.88,387.37 L294.16,387.86 L294.43,388.35 L294.69,388.83 L294.95,389.27 L295.20,389.65 L295.43,390.01 L295.65,390.35 L295.88,390.68 L296.14,391.00 L296.45,391.33 L296.81,391.70 L297.21,392.12 L297.64,392.54 L298.08,392.90 L298.51,393.13 L298.90,393.19 L299.27,393.00 L299.63,392.61 L299.97,392.09 L300.31,391.55 L300.63,391.06 L300.95,390.73 L301.25,390.49 L301.55,390.27 L301.83,390.11 L302.11,390.06 L302.39,390.16 L302.66,390.45 L302.93,391.08 L303.19,392.03 L303.45,393.14 L303.71,394.22 L303.99,395.10 L304.30,395.61 L304.65,395.62 L305.03,395.25 L305.43,394.67 L305.83,394.09 L306.23,393.67 L306.62,393.61 L307.00,394.04 L307.38,394.83 L307.75,395.79 L308.12,396.73 L308.49,397.47 L308.85,397.81 L309.21,397.65 L309.56,397.11 L309.91,396.36 L310.26,395.58 L310.61,394.94 L310.97,394.60 L311.33,394.56 L311.70,394.70 L312.07,394.97 L312.44,395.34 L312.80,395.77 L313.17,396.23 L313.53,396.73 L313.89,397.29 L314.25,397.92 L314.61,398.60 L314.96,399.34 L315.30,400.12 L315.63,401.09 L315.94,402.28 L316.24,403.52 L316.55,404.65 L316.86,405.49 L317.18,405.88 L317.52,405.75 L317.86,405.20 L318.21,404.37 L318.57,403.39 L318.93,402.39 L319.30,401.50 L319.69,400.64 L320.10,399.67 L320.51,398.69 L320.93,397.77 L321.33,397.00 L321.71,396.45 L322.07,396.14 L322.41,396.02 L322.73,396.04 L323.06,396.17 L323.38,396.38 L323.70,396.64 L324.03,396.96 L324.35,397.39 L324.67,397.90 L324.99,398.46 L325.32,399.06 L325.65,399.66 L325.99,400.33 L326.34,401.11 L326.68,401.93 L327.03,402.69 L327.39,403.34 L327.75,403.80 L328.12,404.02 L328.49,404.07 L328.87,403.99 L329.25,403.86 L329.63,403.71 L330.01,403.61 L330.39,403.49 L330.77,403.28 L331.14,403.06 L331.52,402.92 L331.89,402.92 L332.25,403.14 L332.60,403.69 L332.94,404.51 L333.28,405.48 L333.62,406.47 L333.96,407.34 L334.32,407.97 L334.68,408.36 L335.06,408.61 L335.44,408.75 L335.82,408.79 L336.21,408.77 L336.59,408.69 L336.98,408.54 L337.39,408.29 L337.79,407.96 L338.19,407.60 L338.55,407.21 L338.88,406.84 L339.17,406.44 L339.44,405.98 L339.68,405.50 L339.89,405.05 L340.07,404.67 L340.20,404.40" fill="none" stroke="#4550a0" stroke-width="0.95"/>
<g stroke="#6a6f98" stroke-width="0.9"><line x1="66.60" y1="414.10" x2="66.60" y2="421.30"/><line x1="64.80" y1="414.10" x2="68.40" y2="414.10"/><line x1="64.80" y1="421.30" x2="68.40" y2="421.30"/></g>
<g stroke="#a8707a" stroke-width="0.9"><line x1="66.60" y1="395.40" x2="66.60" y2="402.20"/><line x1="64.80" y1="395.40" x2="68.40" y2="395.40"/><line x1="64.80" y1="402.20" x2="68.40" y2="402.20"/></g>
<g stroke="#6a6f98" stroke-width="0.9"><line x1="88.40" y1="414.10" x2="88.40" y2="421.30"/><line x1="86.60" y1="414.10" x2="90.20" y2="414.10"/><line x1="86.60" y1="421.30" x2="90.20" y2="421.30"/></g>
<g stroke="#a8707a" stroke-width="0.9"><line x1="88.40" y1="396.60" x2="88.40" y2="403.40"/><line x1="86.60" y1="396.60" x2="90.20" y2="396.60"/><line x1="86.60" y1="403.40" x2="90.20" y2="403.40"/></g>
<g stroke="#6a6f98" stroke-width="0.9"><line x1="108.70" y1="441.00" x2="108.70" y2="448.20"/><line x1="106.90" y1="441.00" x2="110.50" y2="441.00"/><line x1="106.90" y1="448.20" x2="110.50" y2="448.20"/></g>
<g stroke="#a8707a" stroke-width="0.9"><line x1="108.70" y1="425.10" x2="108.70" y2="431.90"/><line x1="106.90" y1="425.10" x2="110.50" y2="425.10"/><line x1="106.90" y1="431.90" x2="110.50" y2="431.90"/></g>
<g stroke="#6a6f98" stroke-width="0.9"><line x1="130.20" y1="434.30" x2="130.20" y2="441.50"/><line x1="128.40" y1="434.30" x2="132.00" y2="434.30"/><line x1="128.40" y1="441.50" x2="132.00" y2="441.50"/></g>
<g stroke="#a8707a" stroke-width="0.9"><line x1="130.20" y1="422.90" x2="130.20" y2="429.70"/><line x1="128.40" y1="422.90" x2="132.00" y2="422.90"/><line x1="128.40" y1="429.70" x2="132.00" y2="429.70"/></g>
<g stroke="#6a6f98" stroke-width="0.9"><line x1="150.40" y1="427.00" x2="150.40" y2="434.20"/><line x1="148.60" y1="427.00" x2="152.20" y2="427.00"/><line x1="148.60" y1="434.20" x2="152.20" y2="434.20"/></g>
<g stroke="#a8707a" stroke-width="0.9"><line x1="150.40" y1="416.40" x2="150.40" y2="423.20"/><line x1="148.60" y1="416.40" x2="152.20" y2="416.40"/><line x1="148.60" y1="423.20" x2="152.20" y2="423.20"/></g>
<g stroke="#6a6f98" stroke-width="0.9"><line x1="171.90" y1="423.50" x2="171.90" y2="430.70"/><line x1="170.10" y1="423.50" x2="173.70" y2="423.50"/><line x1="170.10" y1="430.70" x2="173.70" y2="430.70"/></g>
<g stroke="#a8707a" stroke-width="0.9"><line x1="171.90" y1="411.10" x2="171.90" y2="417.90"/><line x1="170.10" y1="411.10" x2="173.70" y2="411.10"/><line x1="170.10" y1="417.90" x2="173.70" y2="417.90"/></g>
<g stroke="#6a6f98" stroke-width="0.9"><line x1="192.40" y1="377.90" x2="192.40" y2="385.10"/><line x1="190.60" y1="377.90" x2="194.20" y2="377.90"/><line x1="190.60" y1="385.10" x2="194.20" y2="385.10"/></g>
<g stroke="#a8707a" stroke-width="0.9"><line x1="192.40" y1="378.40" x2="192.40" y2="385.20"/><line x1="190.60" y1="378.40" x2="194.20" y2="378.40"/><line x1="190.60" y1="385.20" x2="194.20" y2="385.20"/></g>
<g stroke="#6a6f98" stroke-width="0.9"><line x1="214.00" y1="399.40" x2="214.00" y2="406.60"/><line x1="212.20" y1="399.40" x2="215.80" y2="399.40"/><line x1="212.20" y1="406.60" x2="215.80" y2="406.60"/></g>
<g stroke="#a8707a" stroke-width="0.9"><line x1="214.00" y1="405.80" x2="214.00" y2="412.60"/><line x1="212.20" y1="405.80" x2="215.80" y2="405.80"/><line x1="212.20" y1="412.60" x2="215.80" y2="412.60"/></g>
<g stroke="#6a6f98" stroke-width="0.9"><line x1="235.00" y1="399.40" x2="235.00" y2="406.60"/><line x1="233.20" y1="399.40" x2="236.80" y2="399.40"/><line x1="233.20" y1="406.60" x2="236.80" y2="406.60"/></g>
<g stroke="#a8707a" stroke-width="0.9"><line x1="235.00" y1="407.40" x2="235.00" y2="414.20"/><line x1="233.20" y1="407.40" x2="236.80" y2="407.40"/><line x1="233.20" y1="414.20" x2="236.80" y2="414.20"/></g>
<g stroke="#6a6f98" stroke-width="0.9"><line x1="255.50" y1="402.90" x2="255.50" y2="410.10"/><line x1="253.70" y1="402.90" x2="257.30" y2="402.90"/><line x1="253.70" y1="410.10" x2="257.30" y2="410.10"/></g>
<g stroke="#a8707a" stroke-width="0.9"><line x1="255.50" y1="408.10" x2="255.50" y2="414.90"/><line x1="253.70" y1="408.10" x2="257.30" y2="408.10"/><line x1="253.70" y1="414.90" x2="257.30" y2="414.90"/></g>
<g stroke="#6a6f98" stroke-width="0.9"><line x1="276.60" y1="379.40" x2="276.60" y2="386.60"/><line x1="274.80" y1="379.40" x2="278.40" y2="379.40"/><line x1="274.80" y1="386.60" x2="278.40" y2="386.60"/></g>
<g stroke="#a8707a" stroke-width="0.9"><line x1="276.60" y1="400.10" x2="276.60" y2="406.90"/><line x1="274.80" y1="400.10" x2="278.40" y2="400.10"/><line x1="274.80" y1="406.90" x2="278.40" y2="406.90"/></g>
<g stroke="#6a6f98" stroke-width="0.9"><line x1="297.40" y1="389.60" x2="297.40" y2="396.80"/><line x1="295.60" y1="389.60" x2="299.20" y2="389.60"/><line x1="295.60" y1="396.80" x2="299.20" y2="396.80"/></g>
<g stroke="#a8707a" stroke-width="0.9"><line x1="297.40" y1="399.60" x2="297.40" y2="406.40"/><line x1="295.60" y1="399.60" x2="299.20" y2="399.60"/><line x1="295.60" y1="406.40" x2="299.20" y2="406.40"/></g>
<g stroke="#6a6f98" stroke-width="0.9"><line x1="318.20" y1="401.40" x2="318.20" y2="408.60"/><line x1="316.40" y1="401.40" x2="320.00" y2="401.40"/><line x1="316.40" y1="408.60" x2="320.00" y2="408.60"/></g>
<g stroke="#a8707a" stroke-width="0.9"><line x1="318.20" y1="414.30" x2="318.20" y2="421.10"/><line x1="316.40" y1="414.30" x2="320.00" y2="414.30"/><line x1="316.40" y1="421.10" x2="320.00" y2="421.10"/></g>
<polygon points="62.40,386.90 63.19,388.81 65.25,388.97 63.68,390.32 64.16,392.33 62.40,391.25 60.64,392.33 61.12,390.32 59.55,388.97 61.61,388.81" fill="#111"/>
<polygon points="67.90,386.90 68.69,388.81 70.75,388.97 69.18,390.32 69.66,392.33 67.90,391.25 66.14,392.33 66.62,390.32 65.05,388.97 67.11,388.81" fill="#111"/>
<polygon points="73.40,386.90 74.19,388.81 76.25,388.97 74.68,390.32 75.16,392.33 73.40,391.25 71.64,392.33 72.12,390.32 70.55,388.97 72.61,388.81" fill="#111"/>
<polygon points="85.65,387.10 86.44,389.01 88.50,389.17 86.93,390.52 87.41,392.53 85.65,391.45 83.89,392.53 84.37,390.52 82.80,389.17 84.86,389.01" fill="#111"/>
<polygon points="91.15,387.10 91.94,389.01 94.00,389.17 92.43,390.52 92.91,392.53 91.15,391.45 89.39,392.53 89.87,390.52 88.30,389.17 90.36,389.01" fill="#111"/>
<polygon points="108.70,419.90 109.49,421.81 111.55,421.97 109.98,423.32 110.46,425.33 108.70,424.25 106.94,425.33 107.42,423.32 105.85,421.97 107.91,421.81" fill="#111"/>
<polygon points="130.20,416.30 130.99,418.21 133.05,418.37 131.48,419.72 131.96,421.73 130.20,420.65 128.44,421.73 128.92,419.72 127.35,418.37 129.41,418.21" fill="#111"/>
<polygon points="172.50,404.90 173.29,406.81 175.35,406.97 173.78,408.32 174.26,410.33 172.50,409.25 170.74,410.33 171.22,408.32 169.65,406.97 171.71,406.81" fill="#111"/>
<text x="150.40" y="412.80" font-size="7.6" text-anchor="middle" font-weight="normal" >ns</text>
<text x="192.30" y="377.80" font-size="7.6" text-anchor="middle" font-weight="normal" >ns</text>
<text x="212.70" y="398.60" font-size="7.6" text-anchor="middle" font-weight="normal" >ns</text>
<text x="235.20" y="399.40" font-size="7.6" text-anchor="middle" font-weight="normal" >ns</text>
<text x="255.50" y="398.00" font-size="7.6" text-anchor="middle" font-weight="normal" >ns</text>
<polygon points="271.80,409.50 272.59,411.41 274.65,411.57 273.08,412.92 273.56,414.93 271.80,413.85 270.04,414.93 270.52,412.92 268.95,411.57 271.01,411.41" fill="#111"/>
<polygon points="277.30,409.50 278.09,411.41 280.15,411.57 278.58,412.92 279.06,414.93 277.30,413.85 275.54,414.93 276.02,412.92 274.45,411.57 276.51,411.41" fill="#111"/>
<polygon points="282.80,409.50 283.59,411.41 285.65,411.57 284.08,412.92 284.56,414.93 282.80,413.85 281.04,414.93 281.52,412.92 279.95,411.57 282.01,411.41" fill="#111"/>
<text x="297.00" y="419.10" font-size="7.6" text-anchor="middle" font-weight="normal" >ns</text>
<polygon points="318.70,424.20 319.49,426.11 321.55,426.27 319.98,427.62 320.46,429.63 318.70,428.55 316.94,429.63 317.42,427.62 315.85,426.27 317.91,426.11" fill="#111"/>
<text transform="translate(46.2,410.5) rotate(-90)" font-size="9" text-anchor="middle">0.02 norm R<tspan font-size="6.3" dy="2">ex</tspan><tspan dy="-2"> 430/500</tspan></text>
<line x1="50.60" y1="435.00" x2="50.60" y2="448.00" stroke="#000" stroke-width="1.6" />
<line x1="61.00" y1="455.60" x2="81.30" y2="455.60" stroke="#000" stroke-width="1.6" />
<text x="71.00" y="466.70" font-size="9" text-anchor="middle" font-weight="normal" >5 min</text>
<text x="21.00" y="488.80" font-size="14" text-anchor="start" font-weight="bold" >H</text>
<text x="83.80" y="485.80" font-size="9" text-anchor="middle" font-weight="normal" >5mM</text>
<text x="164.60" y="485.80" font-size="9" text-anchor="middle" font-weight="normal" >7mM</text>
<text x="281.40" y="485.80" font-size="9" text-anchor="middle" font-weight="normal" >9mM</text>
<line x1="55.20" y1="491.00" x2="55.20" y2="641.60" stroke="#000" stroke-width="1.1" />
<line x1="54.70" y1="641.60" x2="341.40" y2="641.60" stroke="#000" stroke-width="1.4" />
<line x1="340.90" y1="491.00" x2="340.90" y2="641.60" stroke="#000" stroke-width="1.1" />
<line x1="55.20" y1="566.20" x2="340.90" y2="566.20" stroke="#000" stroke-width="1.4" />
<line x1="55.20" y1="491.00" x2="97.30" y2="491.00" stroke="#000" stroke-width="1.0" />
<rect x="97.30" y="489.50" width="126.50" height="2.80" fill="#000" stroke="none" stroke-width="0" />
<rect x="223.80" y="488.30" width="117.60" height="5.30" fill="#000" stroke="none" stroke-width="0" />
<line x1="97.50" y1="492.00" x2="97.50" y2="641.60" stroke="#767676" stroke-width="0.9" stroke-dasharray="1 1"/>
<line x1="223.80" y1="492.00" x2="223.80" y2="641.60" stroke="#767676" stroke-width="0.9" stroke-dasharray="1 1"/>
<rect x="59.30" y="494.30" width="6.30" height="5.80" fill="#4658a6" stroke="#222" stroke-width="0.5" />
<rect x="59.30" y="570.00" width="6.30" height="5.80" fill="#cf272e" stroke="#222" stroke-width="0.5" />
<text x="67.80" y="500.60" font-size="9.2" text-anchor="start" font-weight="normal" >&#946;-WT</text>
<text x="67.80" y="576.20" font-size="9.2" text-anchor="start" font-weight="normal" >&#946;-KO</text>
<text transform="translate(46.2,531.9) rotate(-90)" font-size="9" text-anchor="middle">0.1 R<tspan font-size="6.3" dy="2">ex</tspan><tspan dy="-2"> 430/500</tspan></text>
<text transform="translate(46.2,609.4) rotate(-90)" font-size="9" text-anchor="middle">0.1 R<tspan font-size="6.3" dy="2">ex</tspan><tspan dy="-2"> 430/500</tspan></text>
<line x1="50.40" y1="551.30" x2="50.40" y2="562.00" stroke="#000" stroke-width="1.7" />
<line x1="50.40" y1="627.00" x2="50.40" y2="638.80" stroke="#000" stroke-width="1.7" />
<line x1="61.20" y1="645.80" x2="93.30" y2="645.80" stroke="#000" stroke-width="1.7" />
<text x="77.00" y="658.00" font-size="9" text-anchor="middle" font-weight="normal" >5 min</text>
<path d="M55.60,515.29 L55.90,515.27 L56.20,515.22 L56.50,515.15 L56.80,515.09 L57.10,515.03 L57.40,514.99 L57.70,514.97 L58.00,514.97 L58.30,514.99 L58.60,515.00 L58.90,514.99 L59.20,514.96 L59.50,514.94 L59.80,514.93 L60.10,514.95 L60.40,514.99 L60.70,515.03 L61.00,515.04 L61.30,515.03 L61.60,515.01 L61.90,514.99 L62.20,514.97 L62.50,514.94 L62.80,514.93 L63.10,514.92 L63.40,514.90 L63.70,514.86 L64.00,514.82 L64.30,514.80 L64.60,514.80 L64.90,514.80 L65.20,514.81 L65.50,514.80 L65.80,514.79 L66.10,514.76 L66.40,514.72 L66.70,514.67 L67.00,514.64 L67.30,514.65 L67.60,514.67 L67.90,514.68 L68.20,514.68 L68.50,514.65 L68.80,514.60 L69.10,514.56 L69.40,514.54 L69.70,514.52 L70.00,514.50 L70.30,514.48 L70.60,514.48 L70.90,514.50 L71.20,514.49 L71.50,514.45 L71.80,514.40 L72.10,514.39 L72.40,514.40 L72.70,514.40 L73.00,514.39 L73.30,514.38 L73.60,514.37 L73.90,514.36 L74.20,514.32 L74.50,514.27 L74.80,514.23 L75.10,514.21 L75.40,514.18 L75.70,514.16 L76.00,514.15 L76.30,514.15 L76.60,514.17 L76.90,514.20 L77.20,514.24 L77.50,514.27 L77.80,514.26 L78.10,514.23 L78.40,514.17 L78.70,514.09 L79.00,514.03 L79.30,514.00 L79.60,513.98 L79.90,513.98 L80.20,513.96 L80.50,513.92 L80.80,513.88 L81.10,513.85 L81.40,513.85 L81.70,513.87 L82.00,513.91 L82.30,513.94 L82.60,513.96 L82.90,513.95 L83.20,513.92 L83.50,513.89 L83.80,513.86 L84.10,513.84 L84.40,513.81 L84.70,513.78 L85.00,513.77 L85.30,513.79 L85.60,513.82 L85.90,513.83 L86.20,513.81 L86.50,513.76 L86.80,513.71 L87.10,513.69 L87.40,513.67 L87.70,513.66 L88.00,513.63 L88.30,513.60 L88.60,513.58 L88.90,513.59 L89.20,513.61 L89.50,513.64 L89.80,513.68 L90.10,513.69 L90.40,513.67 L90.70,513.63 L91.00,513.57 L91.30,513.53 L91.60,513.53 L91.90,513.54 L92.20,513.55 L92.50,513.53 L92.80,513.50 L93.10,513.48 L93.40,513.47 L93.70,513.46 L94.00,513.47 L94.30,513.48 L94.60,513.47 L94.90,513.47 L95.20,513.47 L95.50,513.47 L95.80,513.46 L96.10,513.42 L96.40,513.37 L96.70,513.34 L97.00,513.37 L97.30,513.46 L97.60,513.58 L97.90,513.70 L98.20,513.81 L98.50,513.95 L98.80,514.09 L99.10,514.21 L99.40,514.29 L99.70,514.34 L100.00,514.40 L100.30,514.49 L100.60,514.62 L100.90,514.78 L101.20,514.95 L101.50,515.12 L101.80,515.26 L102.10,515.37 L102.40,515.45 L102.70,515.52 L103.00,515.61 L103.30,515.68 L103.60,515.70 L103.90,515.68 L104.20,515.66 L104.50,515.65 L104.80,515.65 L105.10,515.64 L105.40,515.65 L105.70,515.67 L106.00,515.70 L106.30,515.72 L106.60,515.72 L106.90,515.71 L107.20,515.69 L107.50,515.69 L107.80,515.69 L108.10,515.67 L108.40,515.53 L108.70,515.07 L109.00,513.93 L109.30,511.85 L109.60,509.00 L109.90,506.03 L110.20,503.69 L110.50,502.36 L110.80,501.92 L111.10,501.97 L111.40,502.18 L111.70,502.38 L112.00,502.54 L112.30,502.59 L112.60,502.49 L112.90,502.33 L113.20,502.29 L113.50,502.43 L113.80,502.66 L114.10,502.92 L114.40,503.18 L114.70,503.43 L115.00,503.67 L115.30,503.88 L115.60,504.10 L115.90,504.32 L116.20,504.53 L116.50,504.73 L116.80,504.93 L117.10,505.14 L117.40,505.33 L117.70,505.50 L118.00,505.63 L118.30,505.76 L118.60,505.88 L118.90,506.01 L119.20,506.16 L119.50,506.32 L119.80,506.46 L120.10,506.56 L120.40,506.66 L120.70,506.80 L121.00,506.98 L121.30,507.17 L121.60,507.32 L121.90,507.45 L122.20,507.54 L122.50,507.62 L122.80,507.69 L123.10,507.75 L123.40,507.83 L123.70,507.92 L124.00,508.02 L124.30,508.13 L124.60,508.23 L124.90,508.33 L125.20,508.42 L125.50,508.51 L125.80,508.59 L126.10,508.66 L126.40,508.73 L126.70,508.81 L127.00,508.88 L127.30,508.92 L127.60,508.94 L127.90,508.95 L128.20,509.00 L128.50,509.09 L128.80,509.19 L129.10,509.27 L129.40,509.36 L129.70,509.47 L130.00,509.60 L130.30,509.67 L130.60,509.60 L130.90,509.32 L131.20,509.00 L131.50,508.93 L131.80,509.21 L132.10,509.65 L132.40,510.05 L132.70,510.34 L133.00,510.53 L133.30,510.69 L133.60,510.85 L133.90,511.00 L134.20,511.14 L134.50,511.25 L134.80,511.26 L135.10,511.02 L135.40,510.40 L135.70,509.55 L136.00,508.94 L136.30,508.90 L136.60,509.27 L136.90,509.74 L137.20,510.14 L137.50,510.46 L137.80,510.71 L138.10,510.90 L138.40,511.05 L138.70,511.19 L139.00,511.31 L139.30,511.39 L139.60,511.41 L139.90,511.37 L140.20,511.16 L140.50,510.64 L140.80,509.84 L141.10,509.14 L141.40,508.91 L141.70,509.16 L142.00,509.60 L142.30,510.01 L142.60,510.34 L142.90,510.61 L143.20,510.84 L143.50,511.03 L143.80,511.15 L144.10,511.22 L144.40,511.24 L144.70,511.25 L145.00,511.28 L145.30,511.32 L145.60,511.30 L145.90,511.13 L146.20,510.66 L146.50,509.92 L146.80,509.22 L147.10,508.95 L147.40,509.12 L147.70,509.51 L148.00,509.92 L148.30,510.26 L148.60,510.54 L148.90,510.76 L149.20,510.94 L149.50,511.09 L149.80,511.19 L150.10,511.22 L150.40,511.16 L150.70,510.85 L151.00,510.16 L151.30,509.24 L151.60,508.59 L151.90,508.52 L152.20,508.91 L152.50,509.42 L152.80,509.88 L153.10,510.25 L153.40,510.55 L153.70,510.78 L154.00,510.95 L154.30,511.06 L154.60,511.13 L154.90,511.20 L155.20,511.27 L155.50,511.31 L155.80,511.30 L156.10,511.14 L156.40,510.61 L156.70,509.48 L157.00,507.97 L157.30,506.86 L157.60,506.71 L157.90,507.34 L158.20,508.20 L158.50,508.98 L158.80,509.58 L159.10,510.03 L159.40,510.37 L159.70,510.62 L160.00,510.82 L160.30,510.98 L160.60,511.08 L160.90,511.03 L161.20,510.65 L161.50,509.86 L161.80,508.97 L162.10,508.47 L162.40,508.54 L162.70,508.96 L163.00,509.46 L163.30,509.88 L163.60,510.20 L163.90,510.46 L164.20,510.68 L164.50,510.87 L164.80,511.02 L165.10,511.10 L165.40,511.14 L165.70,511.17 L166.00,511.18 L166.30,511.19 L166.60,511.19 L166.90,511.20 L167.20,511.21 L167.50,511.21 L167.80,511.19 L168.10,511.17 L168.40,511.16 L168.70,511.16 L169.00,511.12 L169.30,510.93 L169.60,510.40 L169.90,509.55 L170.20,508.76 L170.50,508.45 L170.80,508.68 L171.10,509.15 L171.40,509.63 L171.70,510.01 L172.00,510.29 L172.30,510.50 L172.60,510.66 L172.90,510.78 L173.20,510.87 L173.50,510.96 L173.80,511.05 L174.10,511.12 L174.40,511.16 L174.70,511.17 L175.00,511.18 L175.30,511.19 L175.60,511.11 L175.90,510.80 L176.20,510.12 L176.50,509.23 L176.80,508.56 L177.10,508.45 L177.40,508.78 L177.70,509.29 L178.00,509.78 L178.30,510.18 L178.60,510.46 L178.90,510.63 L179.20,510.73 L179.50,510.81 L179.80,510.90 L180.10,511.00 L180.40,511.07 L180.70,511.11 L181.00,511.13 L181.30,511.14 L181.60,511.15 L181.90,511.12 L182.20,510.89 L182.50,510.21 L182.80,508.97 L183.10,507.58 L183.40,506.80 L183.70,506.90 L184.00,507.54 L184.30,508.30 L184.60,508.99 L184.90,509.58 L185.20,510.07 L185.50,510.47 L185.80,510.77 L186.10,510.95 L186.40,511.05 L186.70,511.11 L187.00,511.17 L187.30,511.22 L187.60,511.24 L187.90,511.21 L188.20,511.16 L188.50,511.08 L188.80,511.01 L189.10,510.93 L189.40,510.76 L189.70,510.32 L190.00,509.50 L190.30,508.58 L190.60,508.06 L190.90,508.17 L191.20,508.67 L191.50,509.27 L191.80,509.79 L192.10,510.19 L192.40,510.46 L192.70,510.63 L193.00,510.75 L193.30,510.86 L193.60,510.97 L193.90,511.07 L194.20,511.15 L194.50,511.21 L194.80,511.22 L195.10,511.20 L195.40,511.16 L195.70,511.12 L196.00,511.08 L196.30,511.05 L196.60,511.04 L196.90,510.99 L197.20,510.77 L197.50,510.10 L197.80,508.88 L198.10,507.52 L198.40,506.77 L198.70,506.92 L199.00,507.59 L199.30,508.35 L199.60,509.00 L199.90,509.50 L200.20,509.88 L200.50,510.18 L200.80,510.42 L201.10,510.61 L201.40,510.78 L201.70,510.95 L202.00,511.07 L202.30,511.07 L202.60,510.78 L202.90,510.06 L203.20,509.08 L203.50,508.35 L203.80,508.23 L204.10,508.58 L204.40,509.11 L204.70,509.59 L205.00,509.95 L205.30,510.22 L205.60,510.43 L205.90,510.60 L206.20,510.73 L206.50,510.84 L206.80,510.92 L207.10,510.98 L207.40,511.03 L207.70,511.06 L208.00,511.04 L208.30,511.00 L208.60,510.97 L208.90,510.95 L209.20,510.89 L209.50,510.59 L209.80,509.77 L210.10,508.46 L210.40,507.25 L210.70,506.81 L211.00,507.19 L211.30,507.93 L211.60,508.67 L211.90,509.27 L212.20,509.72 L212.50,510.04 L212.80,510.26 L213.10,510.43 L213.40,510.59 L213.70,510.73 L214.00,510.83 L214.30,510.90 L214.60,510.94 L214.90,510.96 L215.20,510.97 L215.50,510.97 L215.80,510.97 L216.10,510.96 L216.40,510.95 L216.70,510.95 L217.00,510.89 L217.30,510.65 L217.60,510.07 L217.90,509.19 L218.20,508.39 L218.50,508.11 L218.80,508.34 L219.10,508.82 L219.40,509.30 L219.70,509.72 L220.00,510.07 L220.30,510.34 L220.60,510.53 L220.90,510.66 L221.20,510.75 L221.50,510.81 L221.80,510.87 L222.10,510.88 L222.40,510.84 L222.70,510.72 L223.00,510.59 L223.30,510.45 L223.60,510.31 L223.90,510.17 L224.20,510.05 L224.50,509.96 L224.80,509.91 L225.10,509.84 L225.40,509.64 L225.70,509.09 L226.00,508.07 L226.30,506.71 L226.60,505.45 L226.90,504.71 L227.20,504.70 L227.50,505.29 L227.80,506.17 L228.10,507.00 L228.40,507.39 L228.70,506.92 L229.00,505.47 L229.30,503.53 L229.60,501.94 L229.90,501.34 L230.20,501.85 L230.50,503.06 L230.80,504.20 L231.10,504.50 L231.40,503.80 L231.70,502.72 L232.00,502.11 L232.30,502.37 L232.60,503.19 L232.90,503.72 L233.20,503.38 L233.50,502.48 L233.80,501.88 L234.10,502.10 L234.40,502.94 L234.70,503.61 L235.00,503.46 L235.30,502.60 L235.60,501.74 L235.90,501.51 L236.20,501.96 L236.50,502.82 L236.80,503.76 L237.10,504.63 L237.40,505.41 L237.70,506.10 L238.00,506.71 L238.30,507.22 L238.60,507.67 L238.90,508.06 L239.20,508.42 L239.50,508.72 L239.80,508.97 L240.10,509.15 L240.40,509.30 L240.70,509.42 L241.00,509.54 L241.30,509.61 L241.60,509.44 L241.90,508.71 L242.20,507.19 L242.50,505.14 L242.80,503.19 L243.10,501.96 L243.40,501.66 L243.70,502.14 L244.00,503.05 L244.30,504.07 L244.60,505.02 L244.90,505.84 L245.20,506.53 L245.50,507.10 L245.80,507.57 L246.10,507.98 L246.40,508.35 L246.70,508.67 L247.00,508.93 L247.30,509.16 L247.60,509.36 L247.90,509.54 L248.20,509.67 L248.50,509.67 L248.80,509.35 L249.10,508.56 L249.40,507.41 L249.70,506.28 L250.00,505.59 L250.30,505.55 L250.60,506.08 L250.90,506.90 L251.20,507.69 L251.50,508.23 L251.80,508.28 L252.10,507.58 L252.40,506.11 L252.70,504.35 L253.00,503.05 L253.30,502.69 L253.60,503.29 L253.90,504.48 L254.20,505.79 L254.50,506.90 L254.80,507.59 L255.10,507.62 L255.40,506.81 L255.70,505.39 L256.00,503.99 L256.30,503.23 L256.60,503.37 L256.90,504.25 L257.20,505.46 L257.50,506.66 L257.80,507.67 L258.10,508.42 L258.40,508.86 L258.70,508.79 L259.00,507.98 L259.30,506.44 L259.60,504.65 L259.90,503.34 L260.20,502.97 L260.50,503.55 L260.80,504.72 L261.10,505.92 L261.40,506.59 L261.70,506.40 L262.00,505.44 L262.30,504.31 L262.60,503.65 L262.90,503.72 L263.20,504.41 L263.50,505.38 L263.80,506.34 L264.10,507.15 L264.40,507.80 L264.70,508.33 L265.00,508.77 L265.30,509.08 L265.60,509.08 L265.90,508.53 L266.20,507.31 L266.50,505.65 L266.80,503.92 L267.10,502.51 L267.40,501.65 L267.70,501.41 L268.00,501.69 L268.30,502.34 L268.60,503.13 L268.90,503.91 L269.20,504.59 L269.50,505.19 L269.80,505.71 L270.10,506.18 L270.40,506.60 L270.70,507.03 L271.00,507.46 L271.30,507.90 L271.60,508.28 L271.90,508.58 L272.20,508.80 L272.50,508.97 L272.80,509.12 L273.10,509.26 L273.40,509.39 L273.70,509.50 L274.00,509.62 L274.30,509.78 L274.60,509.92 L274.90,510.02 L275.20,510.08 L275.50,510.11 L275.80,510.06 L276.10,509.79 L276.40,509.06 L276.70,507.74 L277.00,505.95 L277.30,504.02 L277.60,502.33 L277.90,501.16 L278.20,500.62 L278.50,500.66 L278.80,501.10 L279.10,501.77 L279.40,502.50 L279.70,503.20 L280.00,503.82 L280.30,504.36 L280.60,504.87 L280.90,505.38 L281.20,505.86 L281.50,506.29 L281.80,506.67 L282.10,507.01 L282.40,507.29 L282.70,507.53 L283.00,507.77 L283.30,508.00 L283.60,508.24 L283.90,508.48 L284.20,508.71 L284.50,508.92 L284.80,509.06 L285.10,509.16 L285.40,509.26 L285.70,509.37 L286.00,509.51 L286.30,509.65 L286.60,509.79 L286.90,509.90 L287.20,509.99 L287.50,510.06 L287.80,510.15 L288.10,510.25 L288.40,510.34 L288.70,510.39 L289.00,510.38 L289.30,510.24 L289.60,509.82 L289.90,508.92 L290.20,507.50 L290.50,505.71 L290.80,503.92 L291.10,502.46 L291.40,501.58 L291.70,501.30 L292.00,501.51 L292.30,502.04 L292.60,502.71 L292.90,503.36 L293.20,503.95 L293.50,504.51 L293.80,505.04 L294.10,505.52 L294.40,505.95 L294.70,506.34 L295.00,506.72 L295.30,507.09 L295.60,507.41 L295.90,507.67 L296.20,507.89 L296.50,508.10 L296.80,508.31 L297.10,508.53 L297.40,508.74 L297.70,508.95 L298.00,509.15 L298.30,509.32 L298.60,509.47 L298.90,509.63 L299.20,509.77 L299.50,509.89 L299.80,509.99 L300.10,510.06 L300.40,510.11 L300.70,510.16 L301.00,510.22 L301.30,510.27 L301.60,510.34 L301.90,510.41 L302.20,510.46 L302.50,510.41 L302.80,510.11 L303.10,509.38 L303.40,508.09 L303.70,506.35 L304.00,504.46 L304.30,502.80 L304.60,501.66 L304.90,501.14 L305.20,501.16 L305.50,501.58 L305.80,502.22 L306.10,502.92 L306.40,503.57 L306.70,504.14 L307.00,504.65 L307.30,505.11 L307.60,505.55 L307.90,505.96 L308.20,506.33 L308.50,506.67 L308.80,507.00 L309.10,507.31 L309.40,507.59 L309.70,507.87 L310.00,508.14 L310.30,508.37 L310.60,508.56 L310.90,508.74 L311.20,508.94 L311.50,509.15 L311.80,509.34 L312.10,509.51 L312.40,509.63 L312.70,509.71 L313.00,509.79 L313.30,509.89 L313.60,510.00 L313.90,510.08 L314.20,510.16 L314.50,510.24 L314.80,510.32 L315.10,510.39 L315.40,510.46 L315.70,510.54 L316.00,510.60 L316.30,510.65 L316.60,510.69 L316.90,510.65 L317.20,510.36 L317.50,509.61 L317.80,508.29 L318.10,506.51 L318.40,504.59 L318.70,502.90 L319.00,501.74 L319.30,501.20 L319.60,501.21 L319.90,501.62 L320.20,502.24 L320.50,502.93 L320.80,503.60 L321.10,504.21 L321.40,504.74 L321.70,505.21 L322.00,505.65 L322.30,506.10 L322.60,506.56 L322.90,507.01 L323.20,507.39 L323.50,507.70 L323.80,507.94 L324.10,508.17 L324.40,508.40 L324.70,508.65 L325.00,508.90 L325.30,509.11 L325.60,509.29 L325.90,509.43 L326.20,509.55 L326.50,509.65 L326.80,509.75 L327.10,509.86 L327.40,509.98 L327.70,510.10 L328.00,510.20 L328.30,510.29 L328.60,510.37 L328.90,510.45 L329.20,510.53 L329.50,510.62 L329.80,510.70 L330.10,510.77 L330.40,510.82 L330.70,510.82 L331.00,510.62 L331.30,510.04 L331.60,508.90 L331.90,507.24 L332.20,505.34 L332.50,503.55 L332.80,502.20 L333.10,501.44 L333.40,501.26 L333.70,501.49 L334.00,501.97 L334.30,502.55 L334.60,503.15 L334.90,503.72 L335.20,504.25 L335.50,504.73 L335.80,505.18 L336.10,505.59 L336.40,505.96 L336.70,506.28 L337.00,506.57 L337.30,506.86 L337.60,507.16 L337.90,507.45 L338.20,507.71 L338.50,507.91 L338.80,508.06 L339.10,508.22 L339.40,508.40 L339.70,508.60 L340.00,508.78 L340.30,508.92" fill="none" stroke="#53579f" stroke-width="0.85"/>
<path d="M55.60,544.57 L55.90,544.52 L56.20,544.48 L56.50,544.44 L56.80,544.39 L57.10,544.32 L57.40,544.25 L57.70,544.19 L58.00,544.14 L58.30,544.10 L58.60,544.09 L58.90,544.08 L59.20,544.07 L59.50,544.05 L59.80,544.00 L60.10,543.94 L60.40,543.94 L60.70,543.95 L61.00,543.95 L61.30,543.95 L61.60,543.95 L61.90,543.93 L62.20,543.89 L62.50,543.85 L62.80,543.83 L63.10,543.82 L63.40,543.79 L63.70,543.76 L64.00,543.76 L64.30,543.75 L64.60,543.72 L64.90,543.64 L65.20,543.55 L65.50,543.50 L65.80,543.51 L66.10,543.54 L66.40,543.55 L66.70,543.53 L67.00,543.46 L67.30,543.40 L67.60,543.35 L67.90,543.31 L68.20,543.32 L68.50,543.38 L68.80,543.43 L69.10,543.41 L69.40,543.34 L69.70,543.26 L70.00,543.20 L70.30,543.16 L70.60,543.11 L70.90,543.08 L71.20,543.05 L71.50,543.05 L71.80,543.08 L72.10,543.13 L72.40,543.14 L72.70,543.08 L73.00,542.98 L73.30,542.92 L73.60,542.90 L73.90,542.89 L74.20,542.92 L74.50,542.94 L74.80,542.93 L75.10,542.91 L75.40,542.89 L75.70,542.88 L76.00,542.87 L76.30,542.86 L76.60,542.85 L76.90,542.80 L77.20,542.73 L77.50,542.67 L77.80,542.62 L78.10,542.58 L78.40,542.57 L78.70,542.54 L79.00,542.49 L79.30,542.47 L79.60,542.47 L79.90,542.47 L80.20,542.46 L80.50,542.44 L80.80,542.42 L81.10,542.41 L81.40,542.39 L81.70,542.35 L82.00,542.32 L82.30,542.31 L82.60,542.34 L82.90,542.40 L83.20,542.42 L83.50,542.40 L83.80,542.35 L84.10,542.30 L84.40,542.28 L84.70,542.26 L85.00,542.22 L85.30,542.19 L85.60,542.18 L85.90,542.17 L86.20,542.18 L86.50,542.20 L86.80,542.23 L87.10,542.24 L87.40,542.20 L87.70,542.14 L88.00,542.07 L88.30,542.00 L88.60,541.94 L88.90,541.89 L89.20,541.88 L89.50,541.88 L89.80,541.85 L90.10,541.81 L90.40,541.79 L90.70,541.76 L91.00,541.74 L91.30,541.68 L91.60,541.60 L91.90,541.55 L92.20,541.56 L92.50,541.59 L92.80,541.60 L93.10,541.57 L93.40,541.51 L93.70,541.46 L94.00,541.43 L94.30,541.41 L94.60,541.38 L94.90,541.33 L95.20,541.28 L95.50,541.25 L95.80,541.23 L96.10,541.22 L96.40,541.24 L96.70,541.26 L97.00,541.26 L97.30,541.25 L97.60,541.24 L97.90,541.26 L98.20,541.30 L98.50,541.37 L98.80,541.44 L99.10,541.48 L99.40,541.50 L99.70,541.55 L100.00,541.63 L100.30,541.70 L100.60,541.76 L100.90,541.81 L101.20,541.86 L101.50,541.92 L101.80,541.97 L102.10,541.97 L102.40,541.95 L102.70,542.00 L103.00,542.09 L103.30,542.14 L103.60,542.18 L103.90,542.23 L104.20,542.27 L104.50,542.26 L104.80,542.20 L105.10,542.14 L105.40,542.11 L105.70,542.09 L106.00,542.10 L106.30,542.14 L106.60,542.17 L106.90,542.18 L107.20,542.18 L107.50,542.18 L107.80,542.18 L108.10,542.18 L108.40,542.19 L108.70,542.21 L109.00,542.18 L109.30,542.08 L109.60,541.91 L109.90,541.55 L110.20,540.59 L110.50,538.48 L110.80,535.20 L111.10,531.33 L111.40,527.73 L111.70,525.16 L112.00,523.96 L112.30,523.76 L112.60,523.97 L112.90,524.24 L113.20,524.52 L113.50,524.83 L113.80,525.13 L114.10,525.40 L114.40,525.58 L114.70,525.68 L115.00,525.82 L115.30,526.05 L115.60,526.33 L115.90,526.63 L116.20,526.93 L116.50,527.22 L116.80,527.49 L117.10,527.72 L117.40,527.91 L117.70,528.09 L118.00,528.24 L118.30,528.37 L118.60,528.52 L118.90,528.65 L119.20,528.78 L119.50,528.93 L119.80,529.09 L120.10,529.26 L120.40,529.39 L120.70,529.47 L121.00,529.55 L121.30,529.69 L121.60,529.84 L121.90,529.95 L122.20,530.04 L122.50,530.10 L122.80,530.14 L123.10,530.19 L123.40,530.22 L123.70,530.26 L124.00,530.33 L124.30,530.43 L124.60,530.53 L124.90,530.56 L125.20,530.52 L125.50,530.48 L125.80,530.49 L126.10,530.53 L126.40,530.54 L126.70,530.55 L127.00,530.57 L127.30,530.60 L127.60,530.65 L127.90,530.71 L128.20,530.75 L128.50,530.74 L128.80,530.73 L129.10,530.76 L129.40,530.82 L129.70,530.86 L130.00,530.86 L130.30,530.84 L130.60,530.81 L130.90,530.82 L131.20,530.85 L131.50,530.91 L131.80,531.00 L132.10,531.12 L132.40,531.26 L132.70,531.35 L133.00,531.42 L133.30,531.48 L133.60,531.57 L133.90,531.73 L134.20,531.87 L134.50,531.86 L134.80,531.56 L135.10,531.12 L135.40,531.01 L135.70,531.27 L136.00,531.64 L136.30,531.98 L136.60,532.26 L136.90,532.46 L137.20,532.56 L137.50,532.61 L137.80,532.68 L138.10,532.70 L138.40,532.35 L138.70,531.42 L139.00,530.47 L139.30,530.23 L139.60,530.64 L139.90,531.20 L140.20,531.65 L140.50,532.00 L140.80,532.28 L141.10,532.49 L141.40,532.64 L141.70,532.77 L142.00,532.79 L142.30,532.42 L142.60,531.53 L142.90,530.64 L143.20,530.42 L143.50,530.75 L143.80,531.20 L144.10,531.62 L144.40,532.00 L144.70,532.30 L145.00,532.50 L145.30,532.63 L145.60,532.68 L145.90,532.56 L146.20,531.96 L146.50,530.71 L146.80,529.51 L147.10,529.24 L147.40,529.74 L147.70,530.43 L148.00,531.01 L148.30,531.49 L148.60,531.89 L148.90,532.23 L149.20,532.47 L149.50,532.68 L149.80,532.85 L150.10,532.97 L150.40,533.03 L150.70,532.99 L151.00,532.70 L151.30,531.90 L151.60,530.70 L151.90,529.89 L152.20,530.00 L152.50,530.59 L152.80,531.14 L153.10,531.58 L153.40,531.94 L153.70,532.24 L154.00,532.49 L154.30,532.67 L154.60,532.77 L154.90,532.80 L155.20,532.69 L155.50,532.12 L155.80,530.99 L156.10,529.92 L156.40,529.69 L156.70,530.15 L157.00,530.74 L157.30,531.24 L157.60,531.63 L157.90,531.95 L158.20,532.12 L158.50,531.79 L158.80,530.68 L159.10,529.47 L159.40,529.13 L159.70,529.60 L160.00,530.27 L160.30,530.84 L160.60,531.31 L160.90,531.71 L161.20,532.04 L161.50,532.30 L161.80,532.50 L162.10,532.65 L162.40,532.60 L162.70,531.76 L163.00,529.48 L163.30,526.58 L163.60,525.12 L163.90,525.65 L164.20,527.03 L164.50,528.38 L164.80,529.49 L165.10,530.37 L165.40,531.07 L165.70,531.60 L166.00,531.99 L166.30,532.31 L166.60,532.59 L166.90,532.78 L167.20,532.83 L167.50,532.62 L167.80,531.77 L168.10,530.12 L168.40,528.58 L168.70,528.23 L169.00,528.89 L169.30,529.76 L169.60,530.50 L169.90,531.07 L170.20,531.53 L170.50,531.88 L170.80,532.12 L171.10,532.24 L171.40,532.07 L171.70,531.19 L172.00,529.66 L172.30,528.55 L172.60,528.61 L172.90,529.36 L173.20,530.12 L173.50,530.71 L173.80,531.17 L174.10,531.56 L174.40,531.87 L174.70,532.11 L175.00,532.30 L175.30,532.46 L175.60,532.58 L175.90,532.63 L176.20,532.51 L176.50,531.64 L176.80,529.36 L177.10,526.45 L177.40,524.99 L177.70,525.57 L178.00,527.00 L178.30,528.36 L178.60,529.43 L178.90,530.26 L179.20,530.91 L179.50,531.44 L179.80,531.85 L180.10,532.10 L180.40,532.20 L180.70,531.85 L181.00,530.63 L181.30,529.00 L181.60,528.21 L181.90,528.59 L182.20,529.45 L182.50,530.24 L182.80,530.86 L183.10,531.32 L183.40,531.67 L183.70,531.93 L184.00,532.12 L184.30,532.24 L184.60,532.36 L184.90,532.48 L185.20,532.53 L185.50,532.28 L185.80,530.98 L186.10,528.28 L186.40,525.67 L186.70,524.99 L187.00,526.00 L187.30,527.44 L187.60,528.71 L187.90,529.67 L188.20,530.37 L188.50,530.91 L188.80,531.38 L189.10,531.78 L189.40,532.07 L189.70,532.27 L190.00,532.41 L190.30,532.51 L190.60,532.54 L190.90,532.51 L191.20,532.42 L191.50,532.11 L191.80,531.13 L192.10,529.46 L192.40,528.22 L192.70,528.23 L193.00,529.00 L193.30,529.86 L193.60,530.55 L193.90,531.05 L194.20,531.40 L194.50,531.66 L194.80,531.88 L195.10,532.07 L195.40,532.23 L195.70,532.35 L196.00,532.44 L196.30,532.51 L196.60,532.56 L196.90,532.57 L197.20,532.56 L197.50,532.51 L197.80,532.28 L198.10,531.36 L198.40,529.50 L198.70,527.74 L199.00,527.32 L199.30,528.04 L199.60,529.03 L199.90,529.86 L200.20,530.49 L200.50,530.96 L200.80,531.35 L201.10,531.70 L201.40,531.98 L201.70,532.18 L202.00,532.31 L202.30,532.37 L202.60,532.37 L202.90,532.21 L203.20,531.62 L203.50,530.27 L203.80,528.64 L204.10,527.87 L204.40,528.24 L204.70,529.08 L205.00,529.89 L205.30,530.51 L205.60,530.97 L205.90,531.33 L206.20,531.64 L206.50,531.88 L206.80,532.03 L207.10,532.09 L207.40,532.13 L207.70,532.20 L208.00,532.28 L208.30,532.32 L208.60,532.31 L208.90,532.31 L209.20,532.30 L209.50,532.13 L209.80,531.31 L210.10,529.54 L210.40,527.80 L210.70,527.33 L211.00,527.94 L211.30,528.84 L211.60,529.68 L211.90,530.36 L212.20,530.89 L212.50,531.30 L212.80,531.63 L213.10,531.88 L213.40,532.07 L213.70,532.20 L214.00,532.28 L214.30,532.30 L214.60,532.22 L214.90,531.71 L215.20,530.41 L215.50,528.75 L215.80,527.93 L216.10,528.26 L216.40,529.05 L216.70,529.79 L217.00,530.40 L217.30,530.90 L217.60,531.33 L217.90,531.66 L218.20,531.87 L218.50,531.97 L218.80,532.02 L219.10,532.08 L219.40,532.16 L219.70,532.23 L220.00,532.27 L220.30,532.28 L220.60,532.29 L220.90,532.28 L221.20,532.09 L221.50,531.34 L221.80,529.82 L222.10,528.27 L222.40,527.46 L222.70,527.16 L223.00,526.87 L223.30,526.46 L223.60,525.94 L223.90,525.37 L224.20,524.93 L224.50,524.72 L224.80,524.71 L225.10,524.78 L225.40,524.86 L225.70,524.75 L226.00,524.00 L226.30,522.19 L226.60,519.91 L226.90,518.61 L227.20,519.05 L227.50,520.57 L227.80,522.13 L228.10,523.20 L228.40,523.46 L228.70,522.52 L229.00,520.51 L229.30,518.72 L229.60,518.45 L229.90,519.68 L230.20,521.34 L230.50,522.67 L230.80,523.56 L231.10,524.10 L231.40,524.17 L231.70,523.34 L232.00,521.36 L232.30,519.25 L232.60,518.52 L232.90,519.51 L233.20,521.25 L233.50,522.74 L233.80,523.56 L234.10,523.42 L234.40,522.03 L234.70,519.96 L235.00,518.65 L235.30,518.96 L235.60,520.36 L235.90,521.89 L236.20,523.10 L236.50,523.96 L236.80,524.43 L237.10,524.24 L237.40,523.00 L237.70,520.81 L238.00,518.96 L238.30,518.69 L238.60,519.88 L238.90,521.47 L239.20,522.75 L239.50,523.61 L239.80,524.14 L240.10,524.32 L240.40,523.68 L240.70,521.89 L241.00,519.72 L241.30,518.63 L241.60,519.19 L241.90,520.66 L242.20,522.14 L242.50,523.22 L242.80,523.94 L243.10,524.35 L243.40,524.20 L243.70,523.03 L244.00,520.88 L244.30,519.02 L244.60,518.80 L244.90,520.14 L245.20,521.86 L245.50,523.14 L245.80,523.73 L246.10,523.26 L246.40,521.52 L246.70,519.54 L247.00,518.87 L247.30,519.87 L247.60,521.56 L247.90,522.99 L248.20,523.78 L248.50,523.66 L248.80,522.33 L249.10,520.29 L249.40,519.01 L249.70,519.39 L250.00,520.88 L250.30,522.45 L250.60,523.53 L250.90,523.82 L251.20,522.92 L251.50,520.92 L251.80,519.12 L252.10,518.98 L252.40,520.43 L252.70,522.18 L253.00,523.17 L253.30,522.76 L253.60,520.95 L253.90,519.18 L254.20,518.97 L254.50,520.32 L254.80,522.04 L255.10,523.20 L255.40,523.24 L255.70,521.89 L256.00,519.94 L256.30,518.99 L256.60,519.74 L256.90,521.38 L257.20,522.88 L257.50,523.77 L257.80,523.79 L258.10,522.60 L258.40,520.52 L258.70,518.98 L259.00,519.15 L259.30,520.66 L259.60,522.36 L259.90,523.45 L260.20,523.33 L260.50,521.78 L260.80,519.88 L261.10,519.22 L261.40,520.19 L261.70,521.80 L262.00,522.93 L262.30,522.74 L262.60,520.96 L262.90,518.74 L263.20,517.88 L263.50,518.87 L263.80,520.70 L264.10,522.35 L264.40,523.52 L264.70,524.30 L265.00,524.68 L265.30,524.29 L265.60,522.60 L265.90,520.01 L266.20,518.15 L266.50,518.31 L266.80,520.06 L267.10,522.06 L267.40,523.33 L267.70,523.15 L268.00,521.28 L268.30,518.95 L268.60,518.06 L268.90,519.12 L269.20,521.05 L269.50,522.75 L269.80,523.88 L270.10,524.39 L270.40,523.81 L270.70,521.79 L271.00,519.23 L271.30,517.86 L271.60,518.37 L271.90,519.98 L272.20,521.63 L272.50,522.93 L272.80,523.87 L273.10,524.52 L273.40,524.93 L273.70,525.09 L274.00,524.69 L274.30,523.17 L274.60,520.62 L274.90,518.44 L275.20,518.05 L275.50,519.31 L275.80,521.05 L276.10,522.52 L276.40,523.59 L276.70,524.33 L277.00,524.84 L277.30,525.18 L277.60,525.22 L277.90,524.40 L278.20,522.26 L278.50,519.67 L278.80,518.32 L279.10,518.81 L279.40,520.35 L279.70,521.95 L280.00,523.18 L280.30,524.06 L280.60,524.70 L280.90,525.16 L281.20,525.38 L281.50,525.04 L281.80,523.54 L282.10,520.99 L282.40,518.77 L282.70,518.33 L283.00,519.57 L283.30,521.30 L283.60,522.74 L283.90,523.77 L284.20,524.47 L284.50,524.87 L284.80,524.70 L285.10,523.54 L285.40,521.35 L285.70,518.79 L286.00,516.76 L286.30,515.93 L286.60,516.46 L286.90,517.85 L287.20,519.43 L287.50,520.81 L287.80,521.96 L288.10,522.91 L288.40,523.69 L288.70,524.33 L289.00,524.82 L289.30,525.18 L289.60,525.45 L289.90,525.66 L290.20,525.76 L290.50,525.51 L290.80,524.49 L291.10,522.48 L291.40,519.89 L291.70,517.49 L292.00,516.02 L292.30,515.82 L292.60,516.65 L292.90,517.87 L293.20,519.05 L293.50,520.09 L293.80,521.01 L294.10,521.86 L294.40,522.61 L294.70,523.21 L295.00,523.71 L295.30,524.15 L295.60,524.55 L295.90,524.85 L296.20,525.08 L296.50,525.27 L296.80,525.46 L297.10,525.67 L297.40,525.85 L297.70,526.00 L298.00,526.15 L298.30,526.31 L298.60,526.43 L298.90,526.46 L299.20,526.12 L299.50,524.98 L299.80,522.87 L300.10,520.19 L300.40,517.74 L300.70,516.25 L301.00,516.03 L301.30,516.82 L301.60,518.03 L301.90,519.22 L302.20,520.31 L302.50,521.27 L302.80,522.08 L303.10,522.73 L303.40,523.26 L303.70,523.75 L304.00,524.20 L304.30,524.64 L304.60,525.00 L304.90,525.25 L305.20,525.44 L305.50,525.63 L305.80,525.85 L306.10,526.05 L306.40,526.20 L306.70,526.32 L307.00,526.41 L307.30,526.48 L307.60,526.53 L307.90,526.54 L308.20,526.45 L308.50,525.90 L308.80,524.42 L309.10,522.03 L309.40,519.36 L309.70,517.28 L310.00,516.38 L310.30,516.77 L310.60,518.03 L310.90,519.49 L311.20,520.78 L311.50,521.84 L311.80,522.75 L312.10,523.56 L312.40,524.26 L312.70,524.79 L313.00,525.18 L313.30,525.51 L313.60,525.81 L313.90,526.07 L314.20,526.30 L314.50,526.50 L314.80,526.68 L315.10,526.69 L315.40,526.15 L315.70,524.62 L316.00,522.21 L316.30,519.59 L316.60,517.55 L316.90,516.68 L317.20,517.13 L317.50,518.45 L317.80,519.97 L318.10,521.35 L318.40,522.47 L318.70,523.35 L319.00,524.06 L319.30,524.67 L319.60,525.20 L319.90,525.65 L320.20,526.02 L320.50,526.33 L320.80,526.58 L321.10,526.73 L321.40,526.76 L321.70,526.48 L322.00,525.46 L322.30,523.46 L322.60,520.86 L322.90,518.45 L323.20,516.96 L323.50,516.72 L323.80,517.48 L324.10,518.62 L324.40,519.75 L324.70,520.76 L325.00,521.66 L325.30,522.43 L325.60,523.08 L325.90,523.65 L326.20,524.17 L326.50,524.67 L326.80,525.10 L327.10,525.43 L327.40,525.70 L327.70,525.93 L328.00,526.13 L328.30,526.32 L328.60,526.49 L328.90,526.66 L329.20,526.83 L329.50,526.97 L329.80,527.06 L330.10,527.12 L330.40,527.19 L330.70,527.27 L331.00,527.32 L331.30,527.26 L331.60,526.75 L331.90,525.32 L332.20,522.98 L332.50,520.34 L332.80,518.24 L333.10,517.31 L333.40,517.61 L333.70,518.71 L334.00,520.06 L334.30,521.32 L334.60,522.40 L334.90,523.29 L335.20,524.04 L335.50,524.67 L335.80,525.22 L336.10,525.69 L336.40,526.10 L336.70,526.45 L337.00,526.78 L337.30,527.06 L337.60,527.25 L337.90,527.34 L338.20,527.39 L338.50,527.42 L338.80,527.29 L339.10,526.53 L339.40,524.77 L339.70,522.31 L340.00,520.02 L340.30,518.51" fill="none" stroke="#53579f" stroke-width="0.85"/>
<path d="M55.60,561.20 L55.90,561.19 L56.20,561.17 L56.50,561.15 L56.80,561.13 L57.10,561.13 L57.40,561.15 L57.70,561.14 L58.00,561.11 L58.30,561.11 L58.60,561.10 L58.90,561.07 L59.20,561.02 L59.50,560.95 L59.80,560.89 L60.10,560.83 L60.40,560.75 L60.70,560.68 L61.00,560.65 L61.30,560.66 L61.60,560.69 L61.90,560.71 L62.20,560.70 L62.50,560.67 L62.80,560.68 L63.10,560.70 L63.40,560.71 L63.70,560.67 L64.00,560.60 L64.30,560.52 L64.60,560.46 L64.90,560.41 L65.20,560.40 L65.50,560.43 L65.80,560.44 L66.10,560.47 L66.40,560.51 L66.70,560.52 L67.00,560.53 L67.30,560.55 L67.60,560.55 L67.90,560.51 L68.20,560.44 L68.50,560.37 L68.80,560.33 L69.10,560.31 L69.40,560.31 L69.70,560.30 L70.00,560.24 L70.30,560.17 L70.60,560.12 L70.90,560.11 L71.20,560.14 L71.50,560.12 L71.80,560.10 L72.10,560.13 L72.40,560.16 L72.70,560.14 L73.00,560.13 L73.30,560.11 L73.60,560.09 L73.90,560.07 L74.20,560.06 L74.50,560.03 L74.80,560.03 L75.10,560.06 L75.40,560.06 L75.70,560.03 L76.00,560.03 L76.30,560.04 L76.60,560.02 L76.90,559.98 L77.20,559.97 L77.50,559.99 L77.80,559.97 L78.10,559.92 L78.40,559.87 L78.70,559.83 L79.00,559.80 L79.30,559.79 L79.60,559.78 L79.90,559.67 L80.20,559.55 L80.50,559.53 L80.80,559.58 L81.10,559.63 L81.40,559.64 L81.70,559.65 L82.00,559.66 L82.30,559.67 L82.60,559.65 L82.90,559.64 L83.20,559.67 L83.50,559.67 L83.80,559.65 L84.10,559.66 L84.40,559.64 L84.70,559.56 L85.00,559.48 L85.30,559.43 L85.60,559.37 L85.90,559.31 L86.20,559.27 L86.50,559.29 L86.80,559.32 L87.10,559.31 L87.40,559.28 L87.70,559.29 L88.00,559.32 L88.30,559.35 L88.60,559.36 L88.90,559.33 L89.20,559.28 L89.50,559.23 L89.80,559.19 L90.10,559.21 L90.40,559.24 L90.70,559.23 L91.00,559.18 L91.30,559.12 L91.60,559.05 L91.90,559.00 L92.20,558.97 L92.50,558.94 L92.80,558.91 L93.10,558.89 L93.40,558.90 L93.70,558.89 L94.00,558.84 L94.30,558.78 L94.60,558.80 L94.90,558.85 L95.20,558.84 L95.50,558.82 L95.80,558.81 L96.10,558.81 L96.40,558.81 L96.70,558.82 L97.00,558.84 L97.30,558.87 L97.60,558.89 L97.90,558.87 L98.20,558.85 L98.50,558.85 L98.80,558.91 L99.10,558.98 L99.40,559.03 L99.70,559.06 L100.00,559.11 L100.30,559.17 L100.60,559.19 L100.90,559.19 L101.20,559.22 L101.50,559.27 L101.80,559.31 L102.10,559.32 L102.40,559.33 L102.70,559.34 L103.00,559.38 L103.30,559.45 L103.60,559.51 L103.90,559.52 L104.20,559.54 L104.50,559.56 L104.80,559.57 L105.10,559.56 L105.40,559.53 L105.70,559.47 L106.00,559.45 L106.30,559.45 L106.60,559.42 L106.90,559.36 L107.20,559.30 L107.50,559.27 L107.80,559.27 L108.10,559.26 L108.40,559.22 L108.70,559.15 L109.00,559.11 L109.30,559.08 L109.60,559.05 L109.90,559.03 L110.20,559.02 L110.50,559.03 L110.80,559.05 L111.10,559.04 L111.40,558.98 L111.70,558.83 L112.00,558.71 L112.30,558.70 L112.60,558.71 L112.90,558.67 L113.20,558.51 L113.50,557.71 L113.80,554.78 L114.10,549.04 L114.40,543.44 L114.70,540.87 L115.00,540.57 L115.30,540.89 L115.60,541.27 L115.90,541.64 L116.20,542.03 L116.50,542.42 L116.80,542.81 L117.10,543.17 L117.40,543.53 L117.70,543.85 L118.00,544.15 L118.30,544.46 L118.60,544.78 L118.90,545.08 L119.20,545.35 L119.50,545.60 L119.80,545.79 L120.10,545.96 L120.40,546.16 L120.70,546.42 L121.00,546.66 L121.30,546.88 L121.60,547.13 L121.90,547.36 L122.20,547.54 L122.50,547.70 L122.80,547.88 L123.10,548.04 L123.40,548.17 L123.70,548.34 L124.00,548.57 L124.30,548.80 L124.60,548.97 L124.90,549.07 L125.20,549.15 L125.50,549.22 L125.80,549.27 L126.10,549.36 L126.40,549.51 L126.70,549.66 L127.00,549.79 L127.30,549.90 L127.60,549.98 L127.90,550.06 L128.20,550.14 L128.50,550.22 L128.80,550.31 L129.10,550.39 L129.40,550.46 L129.70,550.55 L130.00,550.64 L130.30,550.70 L130.60,550.75 L130.90,550.78 L131.20,550.80 L131.50,550.82 L131.80,550.84 L132.10,550.86 L132.40,550.87 L132.70,550.88 L133.00,550.93 L133.30,551.00 L133.60,551.07 L133.90,551.12 L134.20,551.17 L134.50,551.27 L134.80,551.41 L135.10,551.55 L135.40,551.70 L135.70,551.86 L136.00,552.00 L136.30,552.11 L136.60,552.23 L136.90,552.33 L137.20,552.45 L137.50,552.59 L137.80,552.71 L138.10,552.84 L138.40,552.99 L138.70,553.15 L139.00,553.31 L139.30,553.44 L139.60,553.57 L139.90,553.75 L140.20,553.98 L140.50,554.16 L140.80,554.26 L141.10,554.35 L141.40,554.45 L141.70,554.53 L142.00,554.59 L142.30,554.62 L142.60,554.68 L142.90,554.78 L143.20,554.89 L143.50,554.94 L143.80,554.91 L144.10,554.89 L144.40,554.91 L144.70,554.95 L145.00,554.99 L145.30,555.07 L145.60,555.19 L145.90,555.29 L146.20,555.31 L146.50,555.27 L146.80,555.21 L147.10,555.13 L147.40,554.97 L147.70,554.59 L148.00,554.09 L148.30,553.84 L148.60,553.93 L148.90,554.13 L149.20,554.29 L149.50,554.39 L149.80,554.38 L150.10,554.37 L150.40,554.40 L150.70,554.43 L151.00,554.42 L151.30,554.41 L151.60,554.38 L151.90,554.33 L152.20,554.29 L152.50,554.25 L152.80,554.18 L153.10,554.12 L153.40,554.10 L153.70,554.07 L154.00,554.00 L154.30,553.94 L154.60,553.93 L154.90,553.94 L155.20,553.94 L155.50,553.93 L155.80,553.87 L156.10,553.77 L156.40,553.70 L156.70,553.67 L157.00,553.65 L157.30,553.64 L157.60,553.54 L157.90,553.03 L158.20,551.84 L158.50,550.64 L158.80,550.28 L159.10,550.60 L159.40,551.05 L159.70,551.44 L160.00,551.75 L160.30,552.01 L160.60,552.24 L160.90,552.46 L161.20,552.65 L161.50,552.80 L161.80,552.95 L162.10,553.07 L162.40,553.11 L162.70,553.05 L163.00,552.98 L163.30,552.96 L163.60,552.98 L163.90,552.99 L164.20,553.00 L164.50,553.00 L164.80,552.96 L165.10,552.90 L165.40,552.80 L165.70,552.70 L166.00,552.69 L166.30,552.71 L166.60,552.71 L166.90,552.70 L167.20,552.68 L167.50,552.65 L167.80,552.64 L168.10,552.62 L168.40,552.59 L168.70,552.59 L169.00,552.59 L169.30,552.43 L169.60,551.56 L169.90,549.61 L170.20,547.69 L170.50,547.22 L170.80,547.86 L171.10,548.71 L171.40,549.45 L171.70,550.09 L172.00,550.61 L172.30,550.97 L172.60,551.26 L172.90,551.53 L173.20,551.76 L173.50,551.90 L173.80,551.99 L174.10,552.02 L174.40,552.05 L174.70,552.10 L175.00,552.15 L175.30,552.17 L175.60,552.07 L175.90,551.79 L176.20,550.98 L176.50,549.57 L176.80,548.55 L177.10,548.62 L177.40,549.26 L177.70,549.90 L178.00,550.36 L178.30,550.68 L178.60,550.96 L178.90,551.23 L179.20,551.42 L179.50,551.56 L179.80,551.65 L180.10,551.73 L180.40,551.84 L180.70,551.90 L181.00,551.88 L181.30,551.83 L181.60,551.75 L181.90,551.70 L182.20,551.69 L182.50,551.67 L182.80,551.64 L183.10,551.63 L183.40,551.66 L183.70,551.69 L184.00,551.69 L184.30,551.63 L184.60,551.55 L184.90,551.36 L185.20,550.55 L185.50,548.75 L185.80,546.96 L186.10,546.53 L186.40,547.16 L186.70,548.00 L187.00,548.73 L187.30,549.30 L187.60,549.72 L187.90,550.04 L188.20,550.33 L188.50,550.59 L188.80,550.74 L189.10,550.85 L189.40,551.00 L189.70,551.18 L190.00,551.26 L190.30,551.22 L190.60,551.16 L190.90,551.10 L191.20,551.05 L191.50,551.02 L191.80,550.98 L192.10,550.92 L192.40,550.89 L192.70,550.87 L193.00,550.85 L193.30,550.85 L193.60,550.90 L193.90,550.84 L194.20,550.14 L194.50,548.13 L194.80,545.49 L195.10,544.18 L195.40,544.67 L195.70,545.82 L196.00,546.85 L196.30,547.66 L196.60,548.31 L196.90,548.84 L197.20,549.29 L197.50,549.70 L197.80,550.03 L198.10,550.26 L198.40,550.38 L198.70,550.45 L199.00,550.48 L199.30,550.48 L199.60,550.49 L199.90,550.51 L200.20,550.51 L200.50,550.47 L200.80,550.42 L201.10,550.39 L201.40,550.36 L201.70,550.19 L202.00,549.48 L202.30,547.90 L202.60,546.30 L202.90,545.89 L203.20,546.47 L203.50,547.28 L203.80,547.98 L204.10,548.51 L204.40,548.91 L204.70,549.21 L205.00,549.42 L205.30,549.56 L205.60,549.70 L205.90,549.83 L206.20,549.92 L206.50,550.01 L206.80,550.03 L207.10,549.98 L207.40,549.93 L207.70,549.90 L208.00,549.89 L208.30,549.88 L208.60,549.84 L208.90,549.83 L209.20,549.85 L209.50,549.87 L209.80,549.86 L210.10,549.84 L210.40,549.79 L210.70,549.66 L211.00,549.15 L211.30,547.73 L211.60,545.83 L211.90,544.87 L212.20,545.15 L212.50,545.92 L212.80,546.68 L213.10,547.33 L213.40,547.85 L213.70,548.22 L214.00,548.49 L214.30,548.75 L214.60,549.00 L214.90,549.16 L215.20,549.24 L215.50,549.28 L215.80,549.30 L216.10,549.33 L216.40,549.38 L216.70,549.43 L217.00,549.45 L217.30,549.41 L217.60,549.33 L217.90,549.21 L218.20,549.12 L218.50,549.09 L218.80,549.11 L219.10,549.13 L219.40,549.13 L219.70,549.06 L220.00,548.60 L220.30,546.77 L220.60,543.43 L220.90,540.93 L221.20,540.92 L221.50,542.27 L221.80,543.70 L222.10,544.84 L222.40,545.56 L222.70,545.89 L223.00,545.97 L223.30,545.92 L223.60,545.79 L223.90,545.57 L224.20,545.38 L224.50,545.34 L224.80,545.39 L225.10,545.41 L225.40,545.42 L225.70,545.43 L226.00,545.43 L226.30,545.40 L226.60,545.15 L226.90,543.83 L227.20,540.66 L227.50,536.87 L227.80,534.97 L228.10,535.75 L228.40,537.92 L228.70,540.04 L229.00,541.66 L229.30,542.86 L229.60,543.73 L229.90,544.30 L230.20,544.27 L230.50,542.73 L230.80,539.30 L231.10,535.88 L231.40,534.79 L231.70,536.15 L232.00,538.39 L232.30,540.39 L232.60,541.87 L232.90,542.95 L233.20,543.75 L233.50,544.30 L233.80,544.51 L234.10,543.71 L234.40,541.07 L234.70,537.34 L235.00,534.97 L235.30,535.28 L235.60,537.30 L235.90,539.51 L236.20,541.26 L236.50,542.54 L236.80,543.48 L237.10,544.16 L237.40,544.56 L237.70,544.42 L238.00,542.79 L238.30,539.28 L238.60,535.79 L238.90,534.71 L239.20,536.14 L239.50,538.49 L239.80,540.56 L240.10,542.07 L240.40,543.12 L240.70,543.86 L241.00,544.36 L241.30,544.54 L241.60,543.74 L241.90,541.10 L242.20,537.39 L242.50,535.09 L242.80,535.60 L243.10,537.89 L243.40,540.27 L243.70,542.05 L244.00,543.27 L244.30,544.01 L244.60,543.98 L244.90,542.24 L245.20,538.64 L245.50,535.37 L245.80,534.69 L246.10,536.39 L246.40,538.67 L246.70,540.53 L247.00,541.95 L247.30,543.03 L247.60,543.83 L247.90,544.38 L248.20,544.60 L248.50,543.86 L248.80,541.27 L249.10,537.54 L249.40,535.13 L249.70,535.42 L250.00,537.47 L250.30,539.67 L250.60,541.37 L250.90,542.58 L251.20,543.47 L251.50,544.12 L251.80,544.53 L252.10,544.28 L252.40,542.37 L252.70,538.70 L253.00,535.49 L253.30,535.04 L253.60,537.09 L253.90,539.65 L254.20,541.64 L254.50,543.03 L254.80,543.94 L255.10,544.31 L255.40,543.41 L255.70,540.52 L256.00,536.84 L256.30,534.92 L256.60,535.63 L256.90,537.75 L257.20,539.87 L257.50,541.53 L257.80,542.73 L258.10,543.58 L258.40,544.20 L258.70,544.58 L259.00,544.25 L259.30,542.28 L259.60,538.59 L259.90,535.33 L260.20,534.70 L260.50,536.46 L260.80,538.83 L261.10,540.74 L261.40,542.13 L261.70,543.16 L262.00,543.91 L262.30,544.44 L262.60,544.63 L262.90,543.65 L263.20,540.65 L263.50,536.90 L263.80,535.06 L264.10,536.01 L264.40,538.40 L264.70,540.67 L265.00,542.33 L265.30,543.51 L265.60,544.24 L265.90,544.17 L266.20,542.38 L266.50,538.75 L266.80,535.49 L267.10,534.86 L267.40,536.66 L267.70,539.05 L268.00,540.98 L268.30,542.40 L268.60,543.43 L268.90,544.17 L269.20,544.65 L269.50,544.71 L269.80,543.48 L270.10,540.27 L270.40,536.65 L270.70,535.22 L271.00,536.48 L271.30,538.87 L271.60,540.99 L271.90,542.51 L272.20,543.56 L272.50,544.18 L272.80,543.89 L273.10,541.78 L273.40,538.12 L273.70,535.33 L274.00,535.25 L274.30,537.18 L274.60,539.49 L274.90,541.35 L275.20,542.69 L275.50,543.63 L275.80,544.31 L276.10,544.76 L276.40,544.75 L276.70,543.41 L277.00,540.07 L277.30,536.37 L277.60,534.86 L277.90,535.99 L278.20,538.23 L278.50,540.31 L278.80,541.88 L279.10,542.99 L279.40,543.79 L279.70,544.35 L280.00,544.61 L280.30,544.08 L280.60,541.81 L280.90,538.10 L281.20,535.36 L281.50,535.51 L281.80,537.85 L282.10,540.40 L282.40,542.26 L282.70,543.45 L283.00,544.06 L283.30,543.57 L283.60,541.17 L283.90,537.55 L284.20,535.10 L284.50,535.09 L284.80,536.69 L285.10,538.58 L285.40,540.19 L285.70,541.49 L286.00,542.51 L286.30,543.29 L286.60,543.87 L286.90,544.25 L287.20,544.51 L287.50,544.74 L287.80,544.95 L288.10,544.88 L288.40,543.54 L288.70,540.23 L289.00,536.51 L289.30,534.71 L289.60,535.15 L289.90,536.65 L290.20,538.26 L290.50,539.62 L290.80,540.75 L291.10,541.71 L291.40,542.49 L291.70,543.10 L292.00,543.57 L292.30,543.93 L292.60,544.24 L292.90,544.56 L293.20,544.88 L293.50,545.11 L293.80,545.28 L294.10,545.40 L294.40,545.31 L294.70,544.32 L295.00,541.51 L295.30,537.64 L295.60,535.08 L295.90,534.97 L296.20,536.41 L296.50,538.17 L296.80,539.72 L297.10,540.96 L297.40,541.88 L297.70,542.63 L298.00,543.30 L298.30,543.85 L298.60,544.27 L298.90,544.61 L299.20,544.90 L299.50,545.11 L299.80,545.25 L300.10,545.16 L300.40,544.20 L300.70,541.47 L301.00,537.68 L301.30,535.15 L301.60,535.02 L301.90,536.40 L302.20,538.10 L302.50,539.61 L302.80,540.85 L303.10,541.85 L303.40,542.69 L303.70,543.35 L304.00,543.86 L304.30,544.27 L304.60,544.62 L304.90,544.91 L305.20,545.11 L305.50,545.28 L305.80,545.35 L306.10,544.82 L306.40,542.70 L306.70,538.93 L307.00,535.57 L307.30,534.47 L307.60,535.29 L307.90,536.78 L308.20,538.21 L308.50,539.43 L308.80,540.45 L309.10,541.31 L309.40,542.06 L309.70,542.69 L310.00,543.20 L310.30,543.64 L310.60,544.03 L310.90,544.32 L311.20,544.54 L311.50,544.74 L311.80,544.96 L312.10,545.13 L312.40,545.27 L312.70,545.40 L313.00,545.47 L313.30,545.38 L313.60,544.72 L313.90,542.55 L314.20,538.80 L314.50,535.47 L314.80,534.34 L315.10,535.03 L315.40,536.29 L315.70,537.53 L316.00,538.66 L316.30,539.62 L316.60,540.42 L316.90,541.12 L317.20,541.77 L317.50,542.33 L317.80,542.83 L318.10,543.30 L318.40,543.71 L318.70,544.03 L319.00,544.22 L319.30,544.37 L319.60,544.55 L319.90,544.77 L320.20,544.98 L320.50,545.18 L320.80,545.32 L321.10,545.42 L321.40,545.52 L321.70,545.59 L322.00,545.56 L322.30,544.94 L322.60,542.75 L322.90,538.99 L323.20,535.62 L323.50,534.42 L323.80,535.09 L324.10,536.38 L324.40,537.63 L324.70,538.73 L325.00,539.70 L325.30,540.55 L325.60,541.26 L325.90,541.89 L326.20,542.50 L326.50,543.04 L326.80,543.48 L327.10,543.88 L327.40,544.21 L327.70,544.43 L328.00,544.61 L328.30,544.80 L328.60,544.99 L328.90,545.13 L329.20,545.25 L329.50,545.39 L329.80,545.53 L330.10,545.67 L330.40,545.77 L330.70,545.61 L331.00,544.54 L331.30,541.70 L331.60,537.81 L331.90,535.16 L332.20,534.81 L332.50,535.92 L332.80,537.30 L333.10,538.53 L333.40,539.57 L333.70,540.46 L334.00,541.20 L334.30,541.88 L334.60,542.49 L334.90,542.99 L335.20,543.43 L335.50,543.83 L335.80,544.21 L336.10,544.57 L336.40,544.84 L336.70,545.02 L337.00,545.15 L337.30,545.27 L337.60,545.38 L337.90,545.50 L338.20,545.66 L338.50,545.82 L338.80,545.77 L339.10,544.77 L339.40,541.97 L339.70,538.08 L340.00,535.25 L340.30,534.19" fill="none" stroke="#53579f" stroke-width="0.85"/>
<path d="M55.60,597.44 L55.90,597.43 L56.20,597.41 L56.50,597.41 L56.80,597.41 L57.10,597.40 L57.40,597.38 L57.70,597.32 L58.00,597.25 L58.30,597.19 L58.60,597.14 L58.90,597.11 L59.20,597.12 L59.50,597.13 L59.80,597.16 L60.10,597.17 L60.40,597.13 L60.70,597.06 L61.00,596.98 L61.30,596.93 L61.60,596.90 L61.90,596.88 L62.20,596.84 L62.50,596.78 L62.80,596.74 L63.10,596.69 L63.40,596.65 L63.70,596.61 L64.00,596.59 L64.30,596.58 L64.60,596.59 L64.90,596.61 L65.20,596.61 L65.50,596.58 L65.80,596.54 L66.10,596.51 L66.40,596.50 L66.70,596.48 L67.00,596.45 L67.30,596.39 L67.60,596.33 L67.90,596.28 L68.20,596.25 L68.50,596.24 L68.80,596.25 L69.10,596.26 L69.40,596.25 L69.70,596.25 L70.00,596.24 L70.30,596.22 L70.60,596.20 L70.90,596.16 L71.20,596.12 L71.50,596.08 L71.80,596.05 L72.10,596.01 L72.40,595.97 L72.70,595.93 L73.00,595.88 L73.30,595.84 L73.60,595.81 L73.90,595.81 L74.20,595.82 L74.50,595.82 L74.80,595.81 L75.10,595.78 L75.40,595.75 L75.70,595.72 L76.00,595.67 L76.30,595.62 L76.60,595.60 L76.90,595.60 L77.20,595.62 L77.50,595.63 L77.80,595.64 L78.10,595.62 L78.40,595.56 L78.70,595.47 L79.00,595.37 L79.30,595.30 L79.60,595.28 L79.90,595.29 L80.20,595.29 L80.50,595.25 L80.80,595.20 L81.10,595.14 L81.40,595.09 L81.70,595.05 L82.00,595.04 L82.30,595.03 L82.60,595.02 L82.90,594.99 L83.20,594.97 L83.50,594.97 L83.80,594.97 L84.10,594.97 L84.40,594.95 L84.70,594.92 L85.00,594.87 L85.30,594.83 L85.60,594.80 L85.90,594.80 L86.20,594.79 L86.50,594.77 L86.80,594.75 L87.10,594.72 L87.40,594.70 L87.70,594.66 L88.00,594.62 L88.30,594.60 L88.60,594.59 L88.90,594.59 L89.20,594.62 L89.50,594.65 L89.80,594.64 L90.10,594.59 L90.40,594.52 L90.70,594.45 L91.00,594.40 L91.30,594.37 L91.60,594.35 L91.90,594.34 L92.20,594.33 L92.50,594.31 L92.80,594.29 L93.10,594.27 L93.40,594.24 L93.70,594.18 L94.00,594.13 L94.30,594.10 L94.60,594.07 L94.90,594.06 L95.20,594.06 L95.50,594.06 L95.80,594.04 L96.10,594.00 L96.40,593.97 L96.70,593.95 L97.00,593.97 L97.30,594.05 L97.60,594.14 L97.90,594.24 L98.20,594.34 L98.50,594.43 L98.80,594.56 L99.10,594.72 L99.40,594.92 L99.70,595.11 L100.00,595.26 L100.30,595.37 L100.60,595.47 L100.90,595.59 L101.20,595.71 L101.50,595.82 L101.80,595.92 L102.10,596.02 L102.40,596.12 L102.70,596.25 L103.00,596.38 L103.30,596.51 L103.60,596.60 L103.90,596.66 L104.20,596.70 L104.50,596.70 L104.80,596.69 L105.10,596.68 L105.40,596.69 L105.70,596.72 L106.00,596.76 L106.30,596.78 L106.60,596.79 L106.90,596.78 L107.20,596.76 L107.50,596.73 L107.80,596.72 L108.10,596.72 L108.40,596.74 L108.70,596.80 L109.00,596.85 L109.30,596.89 L109.60,596.93 L109.90,596.95 L110.20,596.95 L110.50,596.94 L110.80,596.92 L111.10,596.89 L111.40,596.85 L111.70,596.80 L112.00,596.70 L112.30,596.39 L112.60,595.51 L112.90,593.58 L113.20,590.37 L113.50,586.11 L113.80,581.36 L114.10,576.87 L114.40,573.33 L114.70,571.20 L115.00,570.43 L115.30,570.57 L115.60,571.11 L115.90,571.75 L116.20,572.39 L116.50,573.01 L116.80,573.63 L117.10,574.22 L117.40,574.77 L117.70,575.29 L118.00,575.79 L118.30,576.30 L118.60,576.80 L118.90,577.31 L119.20,577.81 L119.50,578.31 L119.80,578.79 L120.10,579.25 L120.40,579.70 L120.70,580.12 L121.00,580.50 L121.30,580.84 L121.60,581.18 L121.90,581.53 L122.20,581.89 L122.50,582.25 L122.80,582.59 L123.10,582.92 L123.40,583.24 L123.70,583.56 L124.00,583.87 L124.30,584.19 L124.60,584.51 L124.90,584.82 L125.20,585.08 L125.50,585.30 L125.80,585.49 L126.10,585.67 L126.40,585.85 L126.70,586.06 L127.00,586.29 L127.30,586.52 L127.60,586.75 L127.90,586.96 L128.20,587.15 L128.50,587.33 L128.80,587.52 L129.10,587.71 L129.40,587.92 L129.70,588.11 L130.00,588.30 L130.30,588.47 L130.60,588.62 L130.90,588.73 L131.20,588.82 L131.50,588.90 L131.80,589.02 L132.10,589.14 L132.40,589.26 L132.70,589.39 L133.00,589.52 L133.30,589.66 L133.60,589.76 L133.90,589.83 L134.20,589.90 L134.50,589.99 L134.80,590.07 L135.10,590.15 L135.40,590.22 L135.70,590.31 L136.00,590.41 L136.30,590.50 L136.60,590.58 L136.90,590.64 L137.20,590.70 L137.50,590.74 L137.80,590.77 L138.10,590.81 L138.40,590.85 L138.70,590.89 L139.00,590.95 L139.30,591.04 L139.60,591.14 L139.90,591.21 L140.20,591.27 L140.50,591.30 L140.80,591.34 L141.10,591.38 L141.40,591.41 L141.70,591.42 L142.00,591.41 L142.30,591.40 L142.60,591.40 L142.90,591.39 L143.20,591.38 L143.50,591.35 L143.80,591.33 L144.10,591.33 L144.40,591.35 L144.70,591.39 L145.00,591.46 L145.30,591.53 L145.60,591.56 L145.90,591.55 L146.20,591.56 L146.50,591.59 L146.80,591.67 L147.10,591.76 L147.40,591.85 L147.70,591.91 L148.00,591.95 L148.30,591.96 L148.60,591.87 L148.90,591.57 L149.20,590.83 L149.50,589.58 L149.80,587.92 L150.10,586.21 L150.40,584.79 L150.70,583.96 L151.00,583.72 L151.30,583.89 L151.60,584.25 L151.90,584.66 L152.20,585.08 L152.50,585.47 L152.80,585.80 L153.10,586.10 L153.40,586.42 L153.70,586.75 L154.00,587.09 L154.30,587.42 L154.60,587.75 L154.90,588.06 L155.20,588.32 L155.50,588.51 L155.80,588.67 L156.10,588.84 L156.40,589.03 L156.70,589.24 L157.00,589.46 L157.30,589.67 L157.60,589.83 L157.90,589.95 L158.20,590.07 L158.50,590.19 L158.80,590.34 L159.10,590.50 L159.40,590.64 L159.70,590.74 L160.00,590.80 L160.30,590.85 L160.60,590.91 L160.90,590.98 L161.20,591.05 L161.50,591.13 L161.80,591.21 L162.10,591.30 L162.40,591.40 L162.70,591.52 L163.00,591.63 L163.30,591.72 L163.60,591.74 L163.90,591.68 L164.20,591.42 L164.50,590.91 L164.80,590.30 L165.10,589.88 L165.40,589.80 L165.70,589.97 L166.00,590.21 L166.30,590.46 L166.60,590.69 L166.90,590.90 L167.20,591.10 L167.50,591.28 L167.80,591.45 L168.10,591.60 L168.40,591.72 L168.70,591.81 L169.00,591.77 L169.30,591.48 L169.60,590.85 L169.90,590.01 L170.20,589.32 L170.50,589.04 L170.80,589.16 L171.10,589.50 L171.40,589.89 L171.70,590.25 L172.00,590.55 L172.30,590.79 L172.60,590.98 L172.90,591.14 L173.20,591.27 L173.50,591.38 L173.80,591.48 L174.10,591.58 L174.40,591.68 L174.70,591.78 L175.00,591.90 L175.30,592.03 L175.60,592.13 L175.90,592.18 L176.20,592.20 L176.50,592.19 L176.80,592.19 L177.10,592.22 L177.40,592.25 L177.70,592.27 L178.00,592.29 L178.30,592.30 L178.60,592.28 L178.90,592.23 L179.20,592.16 L179.50,592.11 L179.80,592.09 L180.10,592.09 L180.40,592.11 L180.70,592.12 L181.00,592.13 L181.30,592.13 L181.60,592.15 L181.90,592.17 L182.20,592.17 L182.50,592.16 L182.80,592.15 L183.10,592.14 L183.40,592.12 L183.70,592.07 L184.00,591.97 L184.30,591.72 L184.60,591.21 L184.90,590.40 L185.20,589.40 L185.50,588.49 L185.80,587.92 L186.10,587.78 L186.40,587.93 L186.70,588.23 L187.00,588.56 L187.30,588.89 L187.60,589.20 L187.90,589.45 L188.20,589.53 L188.50,589.21 L188.80,588.25 L189.10,586.71 L189.40,585.05 L189.70,583.87 L190.00,583.41 L190.30,583.50 L190.60,583.84 L190.90,584.24 L191.20,584.63 L191.50,585.02 L191.80,585.39 L192.10,585.74 L192.40,586.07 L192.70,586.39 L193.00,586.70 L193.30,587.00 L193.60,587.27 L193.90,587.51 L194.20,587.76 L194.50,588.00 L194.80,588.23 L195.10,588.42 L195.40,588.61 L195.70,588.80 L196.00,588.98 L196.30,589.14 L196.60,589.31 L196.90,589.50 L197.20,589.65 L197.50,589.78 L197.80,589.91 L198.10,590.07 L198.40,590.24 L198.70,590.38 L199.00,590.48 L199.30,590.55 L199.60,590.59 L199.90,590.62 L200.20,590.65 L200.50,590.71 L200.80,590.81 L201.10,590.89 L201.40,590.87 L201.70,590.62 L202.00,590.07 L202.30,589.30 L202.60,588.43 L202.90,587.60 L203.20,586.88 L203.50,586.35 L203.80,586.04 L204.10,585.95 L204.40,586.04 L204.70,586.23 L205.00,586.46 L205.30,586.68 L205.60,586.86 L205.90,587.02 L206.20,587.20 L206.50,587.41 L206.80,587.64 L207.10,587.87 L207.40,588.09 L207.70,588.29 L208.00,588.50 L208.30,588.72 L208.60,588.93 L208.90,589.09 L209.20,589.19 L209.50,589.27 L209.80,589.33 L210.10,589.42 L210.40,589.56 L210.70,589.72 L211.00,589.87 L211.30,590.01 L211.60,590.12 L211.90,590.20 L212.20,590.27 L212.50,590.34 L212.80,590.40 L213.10,590.45 L213.40,590.51 L213.70,590.57 L214.00,590.62 L214.30,590.67 L214.60,590.73 L214.90,590.81 L215.20,590.91 L215.50,591.01 L215.80,591.07 L216.10,591.10 L216.40,591.11 L216.70,591.12 L217.00,591.13 L217.30,591.12 L217.60,591.11 L217.90,591.12 L218.20,591.17 L218.50,591.24 L218.80,591.28 L219.10,591.22 L219.40,591.00 L219.70,590.64 L220.00,590.26 L220.30,590.00 L220.60,589.92 L220.90,589.99 L221.20,590.14 L221.50,590.33 L221.80,590.51 L222.10,590.71 L222.40,590.94 L222.70,591.21 L223.00,591.51 L223.30,591.84 L223.60,592.19 L223.90,592.53 L224.20,592.77 L224.50,592.76 L224.80,592.30 L225.10,591.28 L225.40,589.70 L225.70,587.69 L226.00,585.43 L226.30,583.09 L226.60,580.83 L226.90,578.84 L227.20,577.31 L227.50,576.34 L227.80,575.85 L228.10,575.68 L228.40,575.65 L228.70,575.69 L229.00,575.85 L229.30,576.18 L229.60,576.71 L229.90,577.36 L230.20,578.04 L230.50,578.70 L230.80,579.31 L231.10,579.89 L231.40,580.46 L231.70,581.04 L232.00,581.61 L232.30,582.17 L232.60,582.70 L232.90,583.19 L233.20,583.65 L233.50,584.10 L233.80,584.53 L234.10,584.92 L234.40,585.27 L234.70,585.61 L235.00,585.94 L235.30,586.27 L235.60,586.60 L235.90,586.94 L236.20,587.28 L236.50,587.60 L236.80,587.90 L237.10,588.17 L237.40,588.42 L237.70,588.65 L238.00,588.87 L238.30,589.08 L238.60,589.29 L238.90,589.48 L239.20,589.67 L239.50,589.85 L239.80,590.06 L240.10,590.26 L240.40,590.45 L240.70,590.63 L241.00,590.79 L241.30,590.94 L241.60,591.08 L241.90,591.22 L242.20,591.36 L242.50,591.51 L242.80,591.65 L243.10,591.77 L243.40,591.89 L243.70,591.99 L244.00,592.09 L244.30,592.20 L244.60,592.33 L244.90,592.46 L245.20,592.57 L245.50,592.66 L245.80,592.70 L246.10,592.59 L246.40,592.14 L246.70,591.19 L247.00,589.67 L247.30,587.69 L247.60,585.45 L247.90,583.16 L248.20,581.01 L248.50,579.15 L248.80,577.72 L249.10,576.80 L249.40,576.31 L249.70,576.10 L250.00,576.03 L250.30,576.02 L250.60,576.03 L250.90,576.03 L251.20,576.05 L251.50,576.19 L251.80,576.60 L252.10,577.34 L252.40,578.29 L252.70,579.30 L253.00,580.26 L253.30,581.16 L253.60,581.98 L253.90,582.74 L254.20,583.47 L254.50,584.18 L254.80,584.84 L255.10,585.46 L255.40,586.03 L255.70,586.56 L256.00,587.06 L256.30,587.52 L256.60,587.94 L256.90,588.35 L257.20,588.75 L257.50,589.10 L257.80,589.40 L258.10,589.66 L258.40,589.91 L258.70,590.17 L259.00,590.44 L259.30,590.69 L259.60,590.93 L259.90,591.18 L260.20,591.41 L260.50,591.62 L260.80,591.79 L261.10,591.95 L261.40,592.10 L261.70,592.26 L262.00,592.42 L262.30,592.58 L262.60,592.72 L262.90,592.83 L263.20,592.87 L263.50,592.76 L263.80,592.35 L264.10,591.51 L264.40,590.24 L264.70,588.64 L265.00,586.87 L265.30,585.08 L265.60,583.43 L265.90,582.05 L266.20,581.03 L266.50,580.41 L266.80,580.10 L267.10,579.99 L267.40,579.97 L267.70,579.97 L268.00,579.99 L268.30,580.05 L268.60,580.14 L268.90,580.32 L269.20,580.68 L269.50,581.25 L269.80,581.97 L270.10,582.76 L270.40,583.53 L270.70,584.26 L271.00,584.94 L271.30,585.57 L271.60,586.16 L271.90,586.69 L272.20,587.18 L272.50,587.62 L272.80,588.03 L273.10,588.40 L273.40,588.76 L273.70,589.09 L274.00,589.42 L274.30,589.76 L274.60,590.07 L274.90,590.35 L275.20,590.61 L275.50,590.87 L275.80,591.11 L276.10,591.33 L276.40,591.51 L276.70,591.65 L277.00,591.78 L277.30,591.92 L277.60,592.08 L277.90,592.23 L278.20,592.36 L278.50,592.44 L278.80,592.51 L279.10,592.60 L279.40,592.70 L279.70,592.79 L280.00,592.88 L280.30,592.95 L280.60,593.02 L280.90,593.10 L281.20,593.18 L281.50,593.23 L281.80,593.23 L282.10,593.14 L282.40,592.81 L282.70,592.07 L283.00,590.83 L283.30,589.18 L283.60,587.24 L283.90,585.15 L284.20,583.09 L284.50,581.21 L284.80,579.69 L285.10,578.65 L285.40,578.08 L285.70,577.86 L286.00,577.82 L286.30,577.83 L286.60,577.85 L286.90,577.88 L287.20,577.94 L287.50,578.07 L287.80,578.38 L288.10,578.93 L288.40,579.68 L288.70,580.52 L289.00,581.37 L289.30,582.17 L289.60,582.91 L289.90,583.61 L290.20,584.32 L290.50,585.04 L290.80,585.74 L291.10,586.37 L291.40,586.91 L291.70,587.35 L292.00,587.74 L292.30,588.12 L292.60,588.49 L292.90,588.87 L293.20,589.22 L293.50,589.52 L293.80,589.78 L294.10,590.05 L294.40,590.35 L294.70,590.67 L295.00,590.96 L295.30,591.19 L295.60,591.35 L295.90,591.50 L296.20,591.66 L296.50,591.81 L296.80,591.94 L297.10,592.08 L297.40,592.22 L297.70,592.36 L298.00,592.50 L298.30,592.66 L298.60,592.82 L298.90,592.97 L299.20,593.08 L299.50,593.13 L299.80,593.15 L300.10,593.17 L300.40,593.20 L300.70,593.26 L301.00,593.33 L301.30,593.42 L301.60,593.48 L301.90,593.53 L302.20,593.56 L302.50,593.56 L302.80,593.48 L303.10,593.13 L303.40,592.36 L303.70,591.12 L304.00,589.52 L304.30,587.69 L304.60,585.77 L304.90,583.90 L305.20,582.21 L305.50,580.84 L305.80,579.88 L306.10,579.33 L306.40,579.08 L306.70,578.99 L307.00,578.97 L307.30,578.98 L307.60,579.00 L307.90,579.08 L308.20,579.24 L308.50,579.55 L308.80,580.08 L309.10,580.81 L309.40,581.64 L309.70,582.45 L310.00,583.21 L310.30,583.90 L310.60,584.54 L310.90,585.14 L311.20,585.71 L311.50,586.27 L311.80,586.80 L312.10,587.29 L312.40,587.75 L312.70,588.17 L313.00,588.57 L313.30,588.94 L313.60,589.29 L313.90,589.62 L314.20,589.92 L314.50,590.22 L314.80,590.50 L315.10,590.76 L315.40,591.00 L315.70,591.22 L316.00,591.43 L316.30,591.62 L316.60,591.78 L316.90,591.93 L317.20,592.06 L317.50,592.19 L317.80,592.32 L318.10,592.44 L318.40,592.56 L318.70,592.67 L319.00,592.79 L319.30,592.90 L319.60,592.98 L319.90,593.04 L320.20,593.07 L320.50,593.11 L320.80,593.18 L321.10,593.27 L321.40,593.38 L321.70,593.47 L322.00,593.54 L322.30,593.59 L322.60,593.64 L322.90,593.67 L323.20,593.67 L323.50,593.61 L323.80,593.39 L324.10,592.88 L324.40,591.96 L324.70,590.62 L325.00,588.95 L325.30,587.09 L325.60,585.19 L325.90,583.40 L326.20,581.85 L326.50,580.65 L326.80,579.85 L327.10,579.41 L327.40,579.21 L327.70,579.13 L328.00,579.10 L328.30,579.08 L328.60,579.09 L328.90,579.14 L329.20,579.28 L329.50,579.62 L329.80,580.19 L330.10,580.97 L330.40,581.84 L330.70,582.71 L331.00,583.50 L331.30,584.20 L331.60,584.84 L331.90,585.44 L332.20,586.02 L332.50,586.57 L332.80,587.08 L333.10,587.55 L333.40,587.99 L333.70,588.42 L334.00,588.85 L334.30,589.25 L334.60,589.60 L334.90,589.90 L335.20,590.18 L335.50,590.45 L335.80,590.69 L336.10,590.92 L336.40,591.13 L336.70,591.34 L337.00,591.54 L337.30,591.73 L337.60,591.93 L337.90,592.11 L338.20,592.25 L338.50,592.37 L338.80,592.48 L339.10,592.59 L339.40,592.71 L339.70,592.83 L340.00,592.93 L340.30,593.01" fill="none" stroke="#96404e" stroke-width="0.85"/>
<path d="M55.60,621.82 L55.90,621.81 L56.20,621.78 L56.50,621.74 L56.80,621.70 L57.10,621.69 L57.40,621.72 L57.70,621.76 L58.00,621.78 L58.30,621.77 L58.60,621.73 L58.90,621.69 L59.20,621.64 L59.50,621.59 L59.80,621.56 L60.10,621.54 L60.40,621.54 L60.70,621.55 L61.00,621.56 L61.30,621.57 L61.60,621.54 L61.90,621.50 L62.20,621.44 L62.50,621.40 L62.80,621.37 L63.10,621.37 L63.40,621.39 L63.70,621.39 L64.00,621.38 L64.30,621.38 L64.60,621.37 L64.90,621.34 L65.20,621.30 L65.50,621.26 L65.80,621.21 L66.10,621.18 L66.40,621.16 L66.70,621.14 L67.00,621.08 L67.30,621.00 L67.60,620.95 L67.90,620.93 L68.20,620.92 L68.50,620.92 L68.80,620.92 L69.10,620.91 L69.40,620.91 L69.70,620.92 L70.00,620.92 L70.30,620.89 L70.60,620.85 L70.90,620.81 L71.20,620.76 L71.50,620.72 L71.80,620.68 L72.10,620.66 L72.40,620.64 L72.70,620.62 L73.00,620.59 L73.30,620.55 L73.60,620.51 L73.90,620.49 L74.20,620.48 L74.50,620.47 L74.80,620.46 L75.10,620.45 L75.40,620.45 L75.70,620.46 L76.00,620.48 L76.30,620.50 L76.60,620.51 L76.90,620.50 L77.20,620.45 L77.50,620.37 L77.80,620.29 L78.10,620.21 L78.40,620.15 L78.70,620.13 L79.00,620.14 L79.30,620.15 L79.60,620.13 L79.90,620.11 L80.20,620.10 L80.50,620.10 L80.80,620.07 L81.10,620.00 L81.40,619.90 L81.70,619.82 L82.00,619.79 L82.30,619.79 L82.60,619.79 L82.90,619.78 L83.20,619.77 L83.50,619.76 L83.80,619.74 L84.10,619.69 L84.40,619.60 L84.70,619.53 L85.00,619.52 L85.30,619.54 L85.60,619.57 L85.90,619.57 L86.20,619.53 L86.50,619.48 L86.80,619.41 L87.10,619.37 L87.40,619.36 L87.70,619.40 L88.00,619.45 L88.30,619.49 L88.60,619.48 L88.90,619.45 L89.20,619.39 L89.50,619.30 L89.80,619.21 L90.10,619.11 L90.40,619.05 L90.70,619.05 L91.00,619.09 L91.30,619.15 L91.60,619.19 L91.90,619.21 L92.20,619.21 L92.50,619.20 L92.80,619.19 L93.10,619.16 L93.40,619.10 L93.70,619.02 L94.00,618.94 L94.30,618.87 L94.60,618.83 L94.90,618.81 L95.20,618.78 L95.50,618.76 L95.80,618.76 L96.10,618.78 L96.40,618.80 L96.70,618.79 L97.00,618.80 L97.30,618.87 L97.60,618.99 L97.90,619.11 L98.20,619.21 L98.50,619.30 L98.80,619.42 L99.10,619.56 L99.40,619.69 L99.70,619.79 L100.00,619.88 L100.30,619.99 L100.60,620.14 L100.90,620.32 L101.20,620.50 L101.50,620.66 L101.80,620.78 L102.10,620.89 L102.40,621.02 L102.70,621.15 L103.00,621.24 L103.30,621.30 L103.60,621.34 L103.90,621.37 L104.20,621.39 L104.50,621.39 L104.80,621.38 L105.10,621.35 L105.40,621.32 L105.70,621.31 L106.00,621.33 L106.30,621.36 L106.60,621.37 L106.90,621.38 L107.20,621.40 L107.50,621.46 L107.80,621.52 L108.10,621.57 L108.40,621.59 L108.70,621.59 L109.00,621.58 L109.30,621.59 L109.60,621.62 L109.90,621.59 L110.20,621.35 L110.50,620.71 L110.80,619.54 L111.10,617.79 L111.40,615.58 L111.70,613.01 L112.00,610.25 L112.30,607.45 L112.60,604.78 L112.90,602.43 L113.20,600.56 L113.50,599.32 L113.80,598.80 L114.10,598.87 L114.40,599.31 L114.70,599.88 L115.00,600.45 L115.30,601.02 L115.60,601.59 L115.90,602.12 L116.20,602.61 L116.50,603.07 L116.80,603.51 L117.10,603.95 L117.40,604.39 L117.70,604.81 L118.00,605.22 L118.30,605.61 L118.60,605.98 L118.90,606.32 L119.20,606.65 L119.50,606.96 L119.80,607.27 L120.10,607.59 L120.40,607.95 L120.70,608.30 L121.00,608.62 L121.30,608.90 L121.60,609.17 L121.90,609.44 L122.20,609.71 L122.50,609.94 L122.80,610.14 L123.10,610.32 L123.40,610.49 L123.70,610.64 L124.00,610.79 L124.30,610.93 L124.60,611.07 L124.90,611.23 L125.20,611.42 L125.50,611.60 L125.80,611.77 L126.10,611.93 L126.40,612.07 L126.70,612.21 L127.00,612.36 L127.30,612.51 L127.60,612.66 L127.90,612.78 L128.20,612.86 L128.50,612.95 L128.80,613.05 L129.10,613.17 L129.40,613.29 L129.70,613.38 L130.00,613.44 L130.30,613.46 L130.60,613.47 L130.90,613.51 L131.20,613.58 L131.50,613.68 L131.80,613.80 L132.10,613.90 L132.40,613.98 L132.70,614.05 L133.00,614.10 L133.30,614.11 L133.60,614.11 L133.90,614.12 L134.20,614.15 L134.50,614.18 L134.80,614.20 L135.10,614.23 L135.40,614.27 L135.70,614.29 L136.00,614.32 L136.30,614.35 L136.60,614.38 L136.90,614.38 L137.20,614.36 L137.50,614.33 L137.80,614.31 L138.10,614.29 L138.40,614.29 L138.70,614.31 L139.00,614.33 L139.30,614.35 L139.60,614.35 L139.90,614.33 L140.20,614.32 L140.50,614.31 L140.80,614.18 L141.10,613.81 L141.40,613.27 L141.70,612.84 L142.00,612.73 L142.30,612.88 L142.60,613.15 L142.90,613.42 L143.20,613.66 L143.50,613.86 L143.80,614.04 L144.10,614.18 L144.40,614.25 L144.70,614.08 L145.00,613.59 L145.30,612.91 L145.60,612.39 L145.90,612.27 L146.20,612.45 L146.50,612.75 L146.80,613.06 L147.10,613.35 L147.40,613.62 L147.70,613.86 L148.00,614.03 L148.30,614.08 L148.60,613.85 L148.90,613.25 L149.20,612.44 L149.50,611.81 L149.80,611.64 L150.10,611.87 L150.40,612.25 L150.70,612.65 L151.00,612.99 L151.30,613.29 L151.60,613.56 L151.90,613.81 L152.20,613.95 L152.50,613.84 L152.80,613.37 L153.10,612.70 L153.40,612.20 L153.70,612.10 L154.00,612.30 L154.30,612.58 L154.60,612.85 L154.90,613.10 L155.20,613.34 L155.50,613.57 L155.80,613.76 L156.10,613.84 L156.40,613.65 L156.70,613.08 L157.00,612.32 L157.30,611.76 L157.60,611.62 L157.90,611.84 L158.20,612.20 L158.50,612.51 L158.80,612.54 L159.10,611.95 L159.40,610.67 L159.70,609.23 L160.00,608.36 L160.30,608.33 L160.60,608.83 L160.90,609.51 L161.20,610.20 L161.50,610.85 L161.80,611.45 L162.10,612.00 L162.40,612.46 L162.70,612.84 L163.00,613.14 L163.30,613.38 L163.60,613.58 L163.90,613.66 L164.20,613.46 L164.50,612.88 L164.80,612.07 L165.10,611.44 L165.40,611.26 L165.70,611.46 L166.00,611.80 L166.30,612.15 L166.60,612.47 L166.90,612.74 L167.20,612.98 L167.50,613.20 L167.80,613.42 L168.10,613.62 L168.40,613.80 L168.70,613.95 L169.00,614.05 L169.30,614.01 L169.60,613.58 L169.90,612.35 L170.20,610.15 L170.50,607.61 L170.80,605.87 L171.10,605.52 L171.40,606.17 L171.70,607.17 L172.00,608.15 L172.30,609.02 L172.60,609.80 L172.90,610.47 L173.20,611.05 L173.50,611.54 L173.80,611.96 L174.10,612.28 L174.40,612.35 L174.70,611.86 L175.00,610.73 L175.30,609.44 L175.60,608.67 L175.90,608.67 L176.20,609.15 L176.50,609.78 L176.80,610.40 L177.10,610.98 L177.40,611.50 L177.70,611.93 L178.00,612.28 L178.30,612.59 L178.60,612.86 L178.90,613.08 L179.20,613.26 L179.50,613.33 L179.80,613.15 L180.10,612.62 L180.40,611.89 L180.70,611.33 L181.00,611.17 L181.30,611.35 L181.60,611.67 L181.90,611.98 L182.20,612.25 L182.50,612.48 L182.80,612.69 L183.10,612.89 L183.40,613.05 L183.70,613.18 L184.00,613.29 L184.30,613.39 L184.60,613.47 L184.90,613.54 L185.20,613.59 L185.50,613.63 L185.80,613.60 L186.10,613.33 L186.40,612.65 L186.70,611.57 L187.00,610.49 L187.30,609.90 L187.60,609.89 L187.90,610.23 L188.20,610.65 L188.50,611.04 L188.80,611.39 L189.10,611.71 L189.40,611.99 L189.70,612.25 L190.00,612.49 L190.30,612.71 L190.60,612.91 L190.90,613.08 L191.20,613.22 L191.50,613.35 L191.80,613.47 L192.10,613.56 L192.40,613.62 L192.70,613.67 L193.00,613.69 L193.30,613.70 L193.60,613.72 L193.90,613.74 L194.20,613.75 L194.50,613.72 L194.80,613.67 L195.10,613.61 L195.40,613.54 L195.70,613.47 L196.00,613.43 L196.30,613.44 L196.60,613.49 L196.90,613.53 L197.20,613.52 L197.50,613.38 L197.80,612.93 L198.10,612.03 L198.40,610.84 L198.70,609.85 L199.00,609.45 L199.30,609.58 L199.60,609.97 L199.90,610.42 L200.20,610.85 L200.50,611.21 L200.80,611.52 L201.10,611.79 L201.40,612.01 L201.70,612.21 L202.00,612.40 L202.30,612.55 L202.60,612.66 L202.90,612.75 L203.20,612.85 L203.50,612.98 L203.80,613.11 L204.10,613.22 L204.40,613.29 L204.70,613.30 L205.00,613.27 L205.30,613.20 L205.60,613.12 L205.90,613.07 L206.20,613.06 L206.50,613.09 L206.80,613.13 L207.10,613.16 L207.40,613.18 L207.70,613.17 L208.00,613.16 L208.30,613.15 L208.60,613.14 L208.90,613.13 L209.20,613.12 L209.50,613.12 L209.80,613.12 L210.10,613.13 L210.40,613.15 L210.70,613.18 L211.00,613.21 L211.30,613.22 L211.60,613.20 L211.90,613.16 L212.20,613.12 L212.50,613.07 L212.80,612.97 L213.10,612.70 L213.40,612.14 L213.70,611.22 L214.00,609.96 L214.30,608.47 L214.60,606.90 L214.90,605.38 L215.20,604.04 L215.50,602.97 L215.80,602.25 L216.10,601.86 L216.40,601.70 L216.70,601.65 L217.00,601.66 L217.30,601.78 L217.60,602.08 L217.90,602.58 L218.20,603.19 L218.50,603.80 L218.80,604.39 L219.10,604.97 L219.40,605.50 L219.70,605.98 L220.00,606.40 L220.30,606.78 L220.60,607.15 L220.90,607.50 L221.20,607.84 L221.50,608.14 L221.80,608.43 L222.10,608.71 L222.40,608.99 L222.70,609.25 L223.00,609.48 L223.30,609.71 L223.60,609.93 L223.90,610.13 L224.20,610.32 L224.50,610.48 L224.80,610.63 L225.10,610.77 L225.40,610.91 L225.70,611.04 L226.00,611.16 L226.30,611.27 L226.60,611.35 L226.90,611.42 L227.20,611.49 L227.50,611.57 L227.80,611.63 L228.10,611.70 L228.40,611.77 L228.70,611.87 L229.00,611.99 L229.30,612.12 L229.60,612.23 L229.90,612.32 L230.20,612.39 L230.50,612.46 L230.80,612.53 L231.10,612.61 L231.40,612.67 L231.70,612.70 L232.00,612.69 L232.30,612.65 L232.60,612.54 L232.90,612.27 L233.20,611.69 L233.50,610.70 L233.80,609.31 L234.10,607.59 L234.40,605.69 L234.70,603.76 L235.00,601.90 L235.30,600.24 L235.60,598.87 L235.90,597.85 L236.20,597.21 L236.50,596.90 L236.80,596.79 L237.10,596.78 L237.40,596.78 L237.70,596.79 L238.00,596.82 L238.30,596.91 L238.60,597.14 L238.90,597.60 L239.20,598.28 L239.50,599.10 L239.80,599.92 L240.10,600.69 L240.40,601.42 L240.70,602.10 L241.00,602.71 L241.30,603.27 L241.60,603.81 L241.90,604.36 L242.20,604.91 L242.50,605.45 L242.80,605.96 L243.10,606.46 L243.40,606.93 L243.70,607.36 L244.00,607.72 L244.30,608.02 L244.60,608.27 L244.90,608.53 L245.20,608.79 L245.50,609.06 L245.80,609.32 L246.10,609.55 L246.40,609.75 L246.70,609.94 L247.00,610.11 L247.30,610.29 L247.60,610.48 L247.90,610.68 L248.20,610.87 L248.50,611.02 L248.80,611.13 L249.10,611.22 L249.40,611.31 L249.70,611.41 L250.00,611.51 L250.30,611.61 L250.60,611.72 L250.90,611.83 L251.20,611.94 L251.50,612.04 L251.80,612.10 L252.10,612.13 L252.40,612.15 L252.70,612.15 L253.00,612.14 L253.30,612.14 L253.60,612.16 L253.90,612.20 L254.20,612.19 L254.50,611.99 L254.80,611.46 L255.10,610.51 L255.40,609.18 L255.70,607.55 L256.00,605.72 L256.30,603.81 L256.60,601.95 L256.90,600.26 L257.20,598.85 L257.50,597.81 L257.80,597.20 L258.10,596.93 L258.40,596.83 L258.70,596.77 L259.00,596.72 L259.30,596.67 L259.60,596.65 L259.90,596.66 L260.20,596.70 L260.50,596.74 L260.80,596.78 L261.10,596.89 L261.40,597.18 L261.70,597.73 L262.00,598.47 L262.30,599.28 L262.60,600.07 L262.90,600.81 L263.20,601.54 L263.50,602.24 L263.80,602.92 L264.10,603.54 L264.40,604.12 L264.70,604.66 L265.00,605.16 L265.30,605.65 L265.60,606.11 L265.90,606.53 L266.20,606.89 L266.50,607.22 L266.80,607.55 L267.10,607.90 L267.40,608.25 L267.70,608.59 L268.00,608.90 L268.30,609.18 L268.60,609.42 L268.90,609.64 L269.20,609.83 L269.50,610.01 L269.80,610.17 L270.10,610.32 L270.40,610.45 L270.70,610.59 L271.00,610.74 L271.30,610.88 L271.60,611.02 L271.90,611.14 L272.20,611.24 L272.50,611.33 L272.80,611.41 L273.10,611.49 L273.40,611.50 L273.70,611.28 L274.00,610.66 L274.30,609.55 L274.60,608.00 L274.90,606.21 L275.20,604.34 L275.50,602.50 L275.80,600.78 L276.10,599.31 L276.40,598.19 L276.70,597.46 L277.00,597.05 L277.30,596.85 L277.60,596.76 L277.90,596.72 L278.20,596.72 L278.50,596.75 L278.80,596.82 L279.10,596.97 L279.40,597.33 L279.70,597.96 L280.00,598.76 L280.30,599.59 L280.60,600.38 L280.90,601.12 L281.20,601.81 L281.50,602.47 L281.80,603.11 L282.10,603.71 L282.40,604.25 L282.70,604.75 L283.00,605.23 L283.30,605.71 L283.60,606.19 L283.90,606.65 L284.20,607.04 L284.50,607.38 L284.80,607.71 L285.10,608.02 L285.40,608.31 L285.70,608.58 L286.00,608.88 L286.30,609.17 L286.60,609.44 L286.90,609.66 L287.20,609.87 L287.50,610.07 L287.80,610.27 L288.10,610.46 L288.40,610.65 L288.70,610.83 L289.00,610.99 L289.30,611.10 L289.60,611.17 L289.90,611.22 L290.20,611.29 L290.50,611.39 L290.80,611.48 L291.10,611.54 L291.40,611.57 L291.70,611.63 L292.00,611.72 L292.30,611.80 L292.60,611.73 L292.90,611.33 L293.20,610.45 L293.50,609.12 L293.80,607.44 L294.10,605.59 L294.40,603.69 L294.70,601.85 L295.00,600.18 L295.30,598.81 L295.60,597.83 L295.90,597.23 L296.20,596.92 L296.50,596.78 L296.80,596.72 L297.10,596.71 L297.40,596.72 L297.70,596.74 L298.00,596.80 L298.30,596.99 L298.60,597.41 L298.90,598.08 L299.20,598.88 L299.50,599.70 L299.80,600.47 L300.10,601.20 L300.40,601.90 L300.70,602.57 L301.00,603.21 L301.30,603.81 L301.60,604.38 L301.90,604.91 L302.20,605.42 L302.50,605.91 L302.80,606.36 L303.10,606.78 L303.40,607.18 L303.70,607.55 L304.00,607.91 L304.30,608.26 L304.60,608.57 L304.90,608.85 L305.20,609.12 L305.50,609.36 L305.80,609.57 L306.10,609.75 L306.40,609.93 L306.70,610.12 L307.00,610.31 L307.30,610.48 L307.60,610.63 L307.90,610.75 L308.20,610.86 L308.50,610.98 L308.80,611.09 L309.10,611.20 L309.40,611.30 L309.70,611.39 L310.00,611.49 L310.30,611.61 L310.60,611.74 L310.90,611.85 L311.20,611.93 L311.50,611.99 L311.80,612.06 L312.10,612.13 L312.40,612.18 L312.70,612.21 L313.00,612.23 L313.30,612.23 L313.60,612.21 L313.90,612.07 L314.20,611.66 L314.50,610.85 L314.80,609.62 L315.10,608.04 L315.40,606.23 L315.70,604.34 L316.00,602.48 L316.30,600.73 L316.60,599.23 L316.90,598.07 L317.20,597.31 L317.50,596.88 L317.80,596.71 L318.10,596.68 L318.40,596.70 L318.70,596.70 L319.00,596.72 L319.30,596.77 L319.60,596.90 L319.90,597.25 L320.20,597.87 L320.50,598.64 L320.80,599.46 L321.10,600.25 L321.40,601.01 L321.70,601.73 L322.00,602.41 L322.30,603.07 L322.60,603.70 L322.90,604.30 L323.20,604.87 L323.50,605.38 L323.80,605.84 L324.10,606.25 L324.40,606.64 L324.70,607.01 L325.00,607.35 L325.30,607.65 L325.60,607.95 L325.90,608.27 L326.20,608.60 L326.50,608.92 L326.80,609.19 L327.10,609.43 L327.40,609.65 L327.70,609.86 L328.00,610.06 L328.30,610.24 L328.60,610.40 L328.90,610.57 L329.20,610.74 L329.50,610.91 L329.80,611.04 L330.10,611.15 L330.40,611.23 L330.70,611.30 L331.00,611.36 L331.30,611.41 L331.60,611.47 L331.90,611.53 L332.20,611.58 L332.50,611.65 L332.80,611.76 L333.10,611.88 L333.40,611.99 L333.70,612.07 L334.00,612.12 L334.30,612.14 L334.60,612.17 L334.90,612.24 L335.20,612.32 L335.50,612.39 L335.80,612.42 L336.10,612.39 L336.40,612.23 L336.70,611.86 L337.00,611.16 L337.30,610.06 L337.60,608.60 L337.90,606.86 L338.20,604.97 L338.50,603.05 L338.80,601.23 L339.10,599.62 L339.40,598.32 L339.70,597.42 L340.00,596.93 L340.30,596.72" fill="none" stroke="#96404e" stroke-width="0.85"/>
<path d="M55.60,638.59 L55.90,638.56 L56.20,638.54 L56.50,638.55 L56.80,638.56 L57.10,638.54 L57.40,638.49 L57.70,638.46 L58.00,638.44 L58.30,638.45 L58.60,638.47 L58.90,638.47 L59.20,638.43 L59.50,638.36 L59.80,638.29 L60.10,638.27 L60.40,638.29 L60.70,638.30 L61.00,638.30 L61.30,638.26 L61.60,638.22 L61.90,638.18 L62.20,638.16 L62.50,638.16 L62.80,638.18 L63.10,638.19 L63.40,638.16 L63.70,638.12 L64.00,638.08 L64.30,638.05 L64.60,638.02 L64.90,638.00 L65.20,637.99 L65.50,637.98 L65.80,637.98 L66.10,637.97 L66.40,637.95 L66.70,637.94 L67.00,637.91 L67.30,637.85 L67.60,637.78 L67.90,637.72 L68.20,637.67 L68.50,637.65 L68.80,637.64 L69.10,637.63 L69.40,637.61 L69.70,637.59 L70.00,637.57 L70.30,637.57 L70.60,637.57 L70.90,637.58 L71.20,637.58 L71.50,637.58 L71.80,637.56 L72.10,637.53 L72.40,637.50 L72.70,637.48 L73.00,637.48 L73.30,637.48 L73.60,637.46 L73.90,637.41 L74.20,637.36 L74.50,637.32 L74.80,637.29 L75.10,637.27 L75.40,637.24 L75.70,637.21 L76.00,637.21 L76.30,637.26 L76.60,637.34 L76.90,637.39 L77.20,637.37 L77.50,637.30 L77.80,637.21 L78.10,637.13 L78.40,637.09 L78.70,637.08 L79.00,637.06 L79.30,637.00 L79.60,636.91 L79.90,636.82 L80.20,636.77 L80.50,636.76 L80.80,636.75 L81.10,636.73 L81.40,636.70 L81.70,636.69 L82.00,636.69 L82.30,636.69 L82.60,636.67 L82.90,636.62 L83.20,636.59 L83.50,636.58 L83.80,636.59 L84.10,636.62 L84.40,636.64 L84.70,636.63 L85.00,636.60 L85.30,636.54 L85.60,636.49 L85.90,636.47 L86.20,636.48 L86.50,636.49 L86.80,636.48 L87.10,636.45 L87.40,636.42 L87.70,636.39 L88.00,636.36 L88.30,636.33 L88.60,636.30 L88.90,636.27 L89.20,636.24 L89.50,636.17 L89.80,636.10 L90.10,636.05 L90.40,636.04 L90.70,636.03 L91.00,636.02 L91.30,636.01 L91.60,636.00 L91.90,636.00 L92.20,635.98 L92.50,635.95 L92.80,635.92 L93.10,635.92 L93.40,635.93 L93.70,635.95 L94.00,635.98 L94.30,636.00 L94.60,635.99 L94.90,635.96 L95.20,635.92 L95.50,635.89 L95.80,635.87 L96.10,635.86 L96.40,635.86 L96.70,635.86 L97.00,635.85 L97.30,635.87 L97.60,635.91 L97.90,635.97 L98.20,636.07 L98.50,636.21 L98.80,636.37 L99.10,636.54 L99.40,636.69 L99.70,636.81 L100.00,636.91 L100.30,636.99 L100.60,637.09 L100.90,637.20 L101.20,637.33 L101.50,637.44 L101.80,637.52 L102.10,637.60 L102.40,637.70 L102.70,637.82 L103.00,637.95 L103.30,638.07 L103.60,638.14 L103.90,638.18 L104.20,638.18 L104.50,638.15 L104.80,638.11 L105.10,638.07 L105.40,638.04 L105.70,638.05 L106.00,638.11 L106.30,638.17 L106.60,638.20 L106.90,638.19 L107.20,638.15 L107.50,638.14 L107.80,638.16 L108.10,638.22 L108.40,638.28 L108.70,638.31 L109.00,638.31 L109.30,638.29 L109.60,638.26 L109.90,638.24 L110.20,638.20 L110.50,638.16 L110.80,638.12 L111.10,638.08 L111.40,638.04 L111.70,638.01 L112.00,637.99 L112.30,637.94 L112.60,637.86 L112.90,637.79 L113.20,637.71 L113.50,637.58 L113.80,637.27 L114.10,636.61 L114.40,635.47 L114.70,633.82 L115.00,631.77 L115.30,629.47 L115.60,627.10 L115.90,624.85 L116.20,622.89 L116.50,621.39 L116.80,620.46 L117.10,620.12 L117.40,620.24 L117.70,620.60 L118.00,621.04 L118.30,621.49 L118.60,621.91 L118.90,622.30 L119.20,622.68 L119.50,623.04 L119.80,623.39 L120.10,623.73 L120.40,624.04 L120.70,624.35 L121.00,624.67 L121.30,624.98 L121.60,625.27 L121.90,625.54 L122.20,625.80 L122.50,626.07 L122.80,626.34 L123.10,626.58 L123.40,626.80 L123.70,627.01 L124.00,627.22 L124.30,627.43 L124.60,627.62 L124.90,627.80 L125.20,627.98 L125.50,628.16 L125.80,628.34 L126.10,628.50 L126.40,628.66 L126.70,628.82 L127.00,628.97 L127.30,629.10 L127.60,629.23 L127.90,629.38 L128.20,629.56 L128.50,629.76 L128.80,629.94 L129.10,630.11 L129.40,630.28 L129.70,630.43 L130.00,630.56 L130.30,630.68 L130.60,630.79 L130.90,630.88 L131.20,630.97 L131.50,631.02 L131.80,631.06 L132.10,631.06 L132.40,631.08 L132.70,631.13 L133.00,631.22 L133.30,631.31 L133.60,631.39 L133.90,631.46 L134.20,631.55 L134.50,631.66 L134.80,631.74 L135.10,631.81 L135.40,631.86 L135.70,631.91 L136.00,631.94 L136.30,631.94 L136.60,631.93 L136.90,631.92 L137.20,631.93 L137.50,631.96 L137.80,632.02 L138.10,632.08 L138.40,632.12 L138.70,632.15 L139.00,632.16 L139.30,632.17 L139.60,632.19 L139.90,632.23 L140.20,632.31 L140.50,632.41 L140.80,632.52 L141.10,632.62 L141.40,632.71 L141.70,632.80 L142.00,632.93 L142.30,633.07 L142.60,633.21 L142.90,633.35 L143.20,633.49 L143.50,633.63 L143.80,633.73 L144.10,633.80 L144.40,633.84 L144.70,633.87 L145.00,633.91 L145.30,633.96 L145.60,634.02 L145.90,634.10 L146.20,634.17 L146.50,634.25 L146.80,634.31 L147.10,634.37 L147.40,634.44 L147.70,634.52 L148.00,634.64 L148.30,634.77 L148.60,634.90 L148.90,635.00 L149.20,635.05 L149.50,635.07 L149.80,635.08 L150.10,635.09 L150.40,635.13 L150.70,635.20 L151.00,635.28 L151.30,635.35 L151.60,635.37 L151.90,635.36 L152.20,635.32 L152.50,635.28 L152.80,635.25 L153.10,635.21 L153.40,635.17 L153.70,635.13 L154.00,635.10 L154.30,635.08 L154.60,635.06 L154.90,635.03 L155.20,634.98 L155.50,634.92 L155.80,634.79 L156.10,634.42 L156.40,633.49 L156.70,631.93 L157.00,630.18 L157.30,628.94 L157.60,628.50 L157.90,628.65 L158.20,629.04 L158.50,629.48 L158.80,629.90 L159.10,630.30 L159.40,630.67 L159.70,631.00 L160.00,631.29 L160.30,631.55 L160.60,631.78 L160.90,632.01 L161.20,632.24 L161.50,632.47 L161.80,632.69 L162.10,632.89 L162.40,633.06 L162.70,633.17 L163.00,633.21 L163.30,633.11 L163.60,632.62 L163.90,631.49 L164.20,629.89 L164.50,628.50 L164.80,627.84 L165.10,627.85 L165.40,628.17 L165.70,628.58 L166.00,629.00 L166.30,629.43 L166.60,629.87 L166.90,630.29 L167.20,630.68 L167.50,631.02 L167.80,631.30 L168.10,631.54 L168.40,631.76 L168.70,631.97 L169.00,632.18 L169.30,632.40 L169.60,632.64 L169.90,632.85 L170.20,633.00 L170.50,633.12 L170.80,633.23 L171.10,633.33 L171.40,633.41 L171.70,633.49 L172.00,633.58 L172.30,633.66 L172.60,633.73 L172.90,633.79 L173.20,633.87 L173.50,633.97 L173.80,634.08 L174.10,634.17 L174.40,634.23 L174.70,634.26 L175.00,634.27 L175.30,634.29 L175.60,634.31 L175.90,634.34 L176.20,634.36 L176.50,634.38 L176.80,634.41 L177.10,634.45 L177.40,634.47 L177.70,634.45 L178.00,634.40 L178.30,634.34 L178.60,634.31 L178.90,634.29 L179.20,634.29 L179.50,634.29 L179.80,634.30 L180.10,634.29 L180.40,634.23 L180.70,634.08 L181.00,633.67 L181.30,632.90 L181.60,631.93 L181.90,631.17 L182.20,630.88 L182.50,630.98 L182.80,631.26 L183.10,631.56 L183.40,631.86 L183.70,632.15 L184.00,632.41 L184.30,632.61 L184.60,632.76 L184.90,632.88 L185.20,633.00 L185.50,633.12 L185.80,633.21 L186.10,633.31 L186.40,633.40 L186.70,633.49 L187.00,633.54 L187.30,633.57 L187.60,633.59 L187.90,633.58 L188.20,633.52 L188.50,633.29 L188.80,632.65 L189.10,631.48 L189.40,629.99 L189.70,628.77 L190.00,628.22 L190.30,628.29 L190.60,628.66 L190.90,629.12 L191.20,629.55 L191.50,629.93 L191.80,630.27 L192.10,630.59 L192.40,630.90 L192.70,631.19 L193.00,631.45 L193.30,631.69 L193.60,631.89 L193.90,632.05 L194.20,632.18 L194.50,632.30 L194.80,632.42 L195.10,632.54 L195.40,632.65 L195.70,632.77 L196.00,632.90 L196.30,633.02 L196.60,633.12 L196.90,633.20 L197.20,633.30 L197.50,633.38 L197.80,633.43 L198.10,633.44 L198.40,633.44 L198.70,633.43 L199.00,633.42 L199.30,633.40 L199.60,633.38 L199.90,633.36 L200.20,633.34 L200.50,633.34 L200.80,633.36 L201.10,633.40 L201.40,633.42 L201.70,633.38 L202.00,633.32 L202.30,633.28 L202.60,633.28 L202.90,633.31 L203.20,633.32 L203.50,633.32 L203.80,633.30 L204.10,633.30 L204.40,633.29 L204.70,633.22 L205.00,633.01 L205.30,632.58 L205.60,631.92 L205.90,631.03 L206.20,629.99 L206.50,628.88 L206.80,627.80 L207.10,626.85 L207.40,626.13 L207.70,625.72 L208.00,625.62 L208.30,625.79 L208.60,626.10 L208.90,626.46 L209.20,626.82 L209.50,627.16 L209.80,627.48 L210.10,627.79 L210.40,628.08 L210.70,628.32 L211.00,628.54 L211.30,628.75 L211.60,628.97 L211.90,629.20 L212.20,629.43 L212.50,629.65 L212.80,629.84 L213.10,630.00 L213.40,630.15 L213.70,630.32 L214.00,630.51 L214.30,630.67 L214.60,630.78 L214.90,630.88 L215.20,630.99 L215.50,631.11 L215.80,631.23 L216.10,631.35 L216.40,631.47 L216.70,631.57 L217.00,631.66 L217.30,631.73 L217.60,631.81 L217.90,631.89 L218.20,631.97 L218.50,632.05 L218.80,632.11 L219.10,632.15 L219.40,632.19 L219.70,632.22 L220.00,632.24 L220.30,632.25 L220.60,632.27 L220.90,632.31 L221.20,632.37 L221.50,632.44 L221.80,632.51 L222.10,632.55 L222.40,632.58 L222.70,632.58 L223.00,632.58 L223.30,632.57 L223.60,632.54 L223.90,632.51 L224.20,632.49 L224.50,632.51 L224.80,632.56 L225.10,632.60 L225.40,632.60 L225.70,632.57 L226.00,632.56 L226.30,632.58 L226.60,632.62 L226.90,632.64 L227.20,632.64 L227.50,632.60 L227.80,632.57 L228.10,632.55 L228.40,632.54 L228.70,632.53 L229.00,632.52 L229.30,632.51 L229.60,632.51 L229.90,632.50 L230.20,632.45 L230.50,632.28 L230.80,631.91 L231.10,631.29 L231.40,630.41 L231.70,629.30 L232.00,628.00 L232.30,626.58 L232.60,625.08 L232.90,623.58 L233.20,622.13 L233.50,620.79 L233.80,619.63 L234.10,618.72 L234.40,618.07 L234.70,617.64 L235.00,617.38 L235.30,617.25 L235.60,617.19 L235.90,617.19 L236.20,617.25 L236.50,617.44 L236.80,617.86 L237.10,618.56 L237.40,619.41 L237.70,620.30 L238.00,621.14 L238.30,621.91 L238.60,622.61 L238.90,623.27 L239.20,623.90 L239.50,624.48 L239.80,625.02 L240.10,625.52 L240.40,626.00 L240.70,626.47 L241.00,626.91 L241.30,627.31 L241.60,627.69 L241.90,628.03 L242.20,628.34 L242.50,628.63 L242.80,628.89 L243.10,629.15 L243.40,629.41 L243.70,629.65 L244.00,629.87 L244.30,630.04 L244.60,630.20 L244.90,630.35 L245.20,630.49 L245.50,630.61 L245.80,630.69 L246.10,630.77 L246.40,630.85 L246.70,630.96 L247.00,631.10 L247.30,631.23 L247.60,631.36 L247.90,631.48 L248.20,631.58 L248.50,631.67 L248.80,631.74 L249.10,631.79 L249.40,631.83 L249.70,631.87 L250.00,631.91 L250.30,631.95 L250.60,631.99 L250.90,632.04 L251.20,632.10 L251.50,632.15 L251.80,632.19 L252.10,632.23 L252.40,632.30 L252.70,632.34 L253.00,632.32 L253.30,632.28 L253.60,632.25 L253.90,632.27 L254.20,632.31 L254.50,632.34 L254.80,632.35 L255.10,632.35 L255.40,632.32 L255.70,632.19 L256.00,631.86 L256.30,631.29 L256.60,630.47 L256.90,629.41 L257.20,628.16 L257.50,626.78 L257.80,625.34 L258.10,623.89 L258.40,622.46 L258.70,621.10 L259.00,619.89 L259.30,618.86 L259.60,618.07 L259.90,617.55 L260.20,617.27 L260.50,617.16 L260.80,617.12 L261.10,617.09 L261.40,617.10 L261.70,617.22 L262.00,617.57 L262.30,618.18 L262.60,618.95 L262.90,619.76 L263.20,620.55 L263.50,621.31 L263.80,622.06 L264.10,622.78 L264.40,623.46 L264.70,624.08 L265.00,624.66 L265.30,625.20 L265.60,625.71 L265.90,626.18 L266.20,626.61 L266.50,627.00 L266.80,627.35 L267.10,627.67 L267.40,627.97 L267.70,628.27 L268.00,628.56 L268.30,628.83 L268.60,629.05 L268.90,629.25 L269.20,629.45 L269.50,629.66 L269.80,629.85 L270.10,630.03 L270.40,630.21 L270.70,630.39 L271.00,630.57 L271.30,630.71 L271.60,630.79 L271.90,630.83 L272.20,630.88 L272.50,630.96 L272.80,631.06 L273.10,631.18 L273.40,631.30 L273.70,631.40 L274.00,631.47 L274.30,631.53 L274.60,631.61 L274.90,631.68 L275.20,631.71 L275.50,631.61 L275.80,631.27 L276.10,630.61 L276.40,629.67 L276.70,628.50 L277.00,627.21 L277.30,625.82 L277.60,624.36 L277.90,622.88 L278.20,621.45 L278.50,620.13 L278.80,618.99 L279.10,618.08 L279.40,617.43 L279.70,617.06 L280.00,616.91 L280.30,616.88 L280.60,616.88 L280.90,616.89 L281.20,616.99 L281.50,617.30 L281.80,617.89 L282.10,618.68 L282.40,619.53 L282.70,620.34 L283.00,621.11 L283.30,621.84 L283.60,622.51 L283.90,623.12 L284.20,623.70 L284.50,624.27 L284.80,624.80 L285.10,625.27 L285.40,625.68 L285.70,626.07 L286.00,626.46 L286.30,626.85 L286.60,627.25 L286.90,627.64 L287.20,627.99 L287.50,628.31 L287.80,628.60 L288.10,628.87 L288.40,629.11 L288.70,629.32 L289.00,629.50 L289.30,629.68 L289.60,629.88 L289.90,630.07 L290.20,630.22 L290.50,630.34 L290.80,630.45 L291.10,630.57 L291.40,630.70 L291.70,630.81 L292.00,630.88 L292.30,630.93 L292.60,630.96 L292.90,631.00 L293.20,631.05 L293.50,631.14 L293.80,631.27 L294.10,631.42 L294.40,631.54 L294.70,631.60 L295.00,631.63 L295.30,631.66 L295.60,631.69 L295.90,631.72 L296.20,631.75 L296.50,631.78 L296.80,631.81 L297.10,631.87 L297.40,631.94 L297.70,632.00 L298.00,632.03 L298.30,632.01 L298.60,631.96 L298.90,631.88 L299.20,631.74 L299.50,631.44 L299.80,630.91 L300.10,630.12 L300.40,629.10 L300.70,627.86 L301.00,626.45 L301.30,624.96 L301.60,623.46 L301.90,622.02 L302.20,620.69 L302.50,619.51 L302.80,618.49 L303.10,617.67 L303.40,617.06 L303.70,616.70 L304.00,616.56 L304.30,616.54 L304.60,616.58 L304.90,616.66 L305.20,616.84 L305.50,617.21 L305.80,617.81 L306.10,618.60 L306.40,619.46 L306.70,620.31 L307.00,621.09 L307.30,621.83 L307.60,622.51 L307.90,623.13 L308.20,623.70 L308.50,624.23 L308.80,624.73 L309.10,625.22 L309.40,625.70 L309.70,626.15 L310.00,626.57 L310.30,626.95 L310.60,627.30 L310.90,627.60 L311.20,627.88 L311.50,628.15 L311.80,628.44 L312.10,628.73 L312.40,628.99 L312.70,629.21 L313.00,629.39 L313.30,629.55 L313.60,629.71 L313.90,629.87 L314.20,630.01 L314.50,630.12 L314.80,630.23 L315.10,630.36 L315.40,630.51 L315.70,630.63 L316.00,630.73 L316.30,630.79 L316.60,630.86 L316.90,630.93 L317.20,631.00 L317.50,631.08 L317.80,631.15 L318.10,631.21 L318.40,631.24 L318.70,631.26 L319.00,631.30 L319.30,631.36 L319.60,631.42 L319.90,631.47 L320.20,631.50 L320.50,631.51 L320.80,631.53 L321.10,631.58 L321.40,631.62 L321.70,631.64 L322.00,631.63 L322.30,631.63 L322.60,631.65 L322.90,631.68 L323.20,631.70 L323.50,631.69 L323.80,631.65 L324.10,631.61 L324.40,631.54 L324.70,631.45 L325.00,631.26 L325.30,630.88 L325.60,630.25 L325.90,629.38 L326.20,628.30 L326.50,627.03 L326.80,625.61 L327.10,624.14 L327.40,622.69 L327.70,621.32 L328.00,620.04 L328.30,618.91 L328.60,617.96 L328.90,617.25 L329.20,616.79 L329.50,616.55 L329.80,616.45 L330.10,616.43 L330.40,616.47 L330.70,616.56 L331.00,616.78 L331.30,617.21 L331.60,617.87 L331.90,618.67 L332.20,619.49 L332.50,620.28 L332.80,621.02 L333.10,621.72 L333.40,622.38 L333.70,623.02 L334.00,623.62 L334.30,624.16 L334.60,624.67 L334.90,625.15 L335.20,625.60 L335.50,625.99 L335.80,626.35 L336.10,626.68 L336.40,627.02 L336.70,627.37 L337.00,627.69 L337.30,627.98 L337.60,628.26 L337.90,628.52 L338.20,628.76 L338.50,628.96 L338.80,629.13 L339.10,629.29 L339.40,629.46 L339.70,629.64 L340.00,629.77 L340.30,629.87" fill="none" stroke="#96404e" stroke-width="0.85"/>
</svg>
</body></html>
